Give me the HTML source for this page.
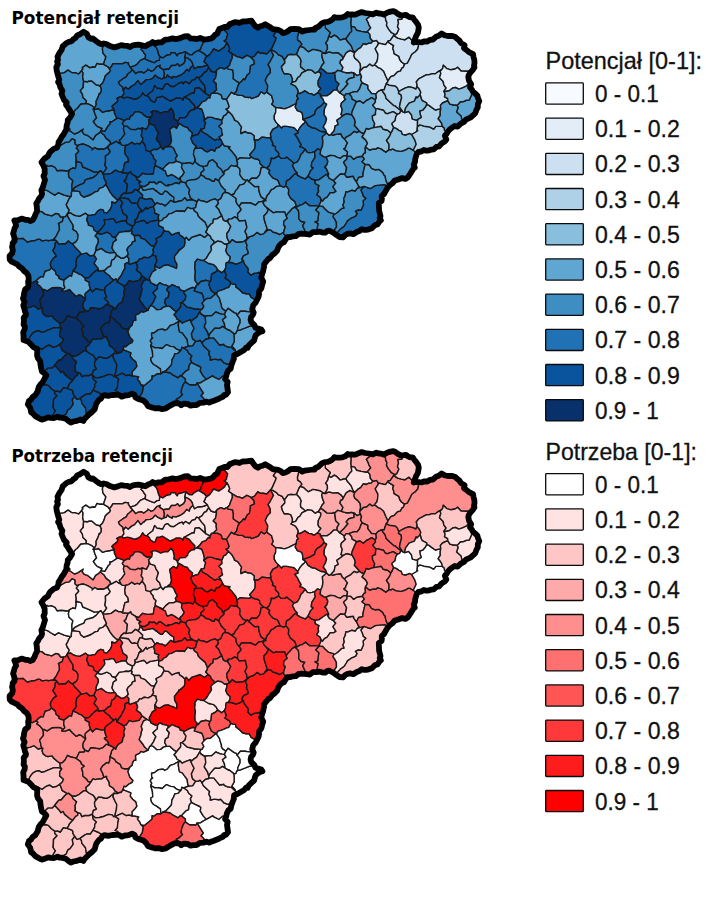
<!DOCTYPE html>
<html lang="pl"><head><meta charset="utf-8"><title>Potencjał i potrzeba retencji</title>
<style>
html,body{margin:0;padding:0;background:#fff}
svg{display:block}
.t{font-family:"DejaVu Sans","Liberation Sans",sans-serif;font-weight:bold;font-size:18px;fill:#000}
.lt{font-family:"Liberation Sans",sans-serif;font-size:24px;fill:#111;stroke:#111;stroke-width:.3px}
.ll{font-family:"Liberation Sans",sans-serif;font-size:24px;fill:#111;stroke:#111;stroke-width:.3px}
.cells path{stroke:#1a1a1a;stroke-width:1.4;stroke-linejoin:round}
.ol{fill:none;stroke:#000;stroke-width:5.8;stroke-linejoin:round}
</style></head><body>
<svg width="706" height="902" viewBox="0 0 706 902">
<rect width="706" height="902" fill="#fff"/>
<path d="M32.7 220.0L34.6 216.8L35.4 214.5L37.1 211.2L36.8 206.5L36.3 203.2L37.8 201.3L39.0 198.7L41.2 196.2L42.1 193.8L41.4 190.2L42.8 187.3L43.7 184.4L45.0 180.0L43.5 175.9L44.7 173.6L44.7 171.1L44.6 168.6L43.4 165.6L41.5 162.3L44.5 158.5L48.0 156.1L49.2 153.4L50.1 152.0L53.7 148.9L57.1 147.5L58.4 144.3L58.5 142.3L60.4 139.3L61.8 136.7L63.6 134.4L66.3 129.5L66.5 126.8L66.7 125.3L67.7 122.3L67.8 120.0L69.9 117.7L72.1 114.0L69.6 110.1L67.5 106.8L66.0 104.8L66.7 102.6L64.0 99.9L62.8 97.0L61.5 93.9L62.4 90.7L60.3 87.3L59.6 84.4L58.1 82.0L59.3 79.9L58.7 77.9L57.9 75.1L56.8 71.1L56.3 67.2L57.9 64.1L57.1 61.5L58.0 59.8L57.5 56.8L59.2 53.4L61.6 49.9L62.7 46.4L64.1 45.1L66.1 43.3L68.9 41.8L71.4 41.4L73.6 39.0L75.3 38.2L77.2 35.4L80.1 34.2L83.5 31.8L86.8 33.7L88.4 37.4L91.4 38.9L92.9 38.4L94.6 39.9L98.7 43.0L101.8 44.4L103.8 43.5L106.4 44.0L108.9 45.5L110.8 46.3L114.3 47.4L117.9 46.4L121.0 45.1L124.0 45.6L127.0 45.8L130.0 47.0L132.9 45.3L135.6 44.9L138.5 44.6L141.9 45.3L145.3 46.3L148.6 44.2L150.8 43.5L152.7 42.0L155.3 43.3L158.3 42.4L161.6 42.3L165.2 39.7L169.0 39.3L172.5 38.4L175.5 39.1L178.1 38.7L180.8 37.9L184.3 36.5L187.9 36.2L190.6 38.4L193.3 38.7L195.1 38.7L196.7 39.1L200.2 38.0L204.0 39.5L207.6 39.2L210.5 38.7L212.9 37.4L215.0 34.9L217.2 33.7L218.4 30.8L219.5 28.7L221.8 28.1L224.5 26.9L227.3 27.0L229.9 24.0L232.2 23.2L234.8 22.1L237.2 22.3L239.5 23.0L242.4 21.5L246.5 21.4L251.4 20.7L253.3 23.5L255.4 26.3L257.9 27.7L260.2 26.3L262.5 25.7L265.2 24.2L269.4 26.7L273.2 29.3L275.1 29.4L278.1 29.8L281.1 31.4L282.9 33.1L285.4 32.5L287.6 31.4L290.3 29.2L294.1 29.0L298.9 29.2L302.2 31.5L304.2 30.7L306.5 30.4L309.5 30.0L312.8 29.5L314.6 29.7L315.8 27.8L318.4 26.8L321.7 23.4L324.7 22.2L327.4 21.9L329.9 21.0L332.4 19.5L334.4 17.1L336.7 17.7L339.4 17.6L342.4 17.3L345.4 16.3L347.7 13.9L349.5 14.6L351.8 14.4L355.4 14.6L358.6 13.2L361.7 12.1L365.2 13.0L368.9 13.5L372.8 14.4L376.4 12.7L378.8 13.5L380.7 13.6L383.6 14.6L387.5 12.5L390.5 11.6L393.4 11.1L395.7 12.2L397.9 13.9L400.7 15.4L403.7 15.2L406.1 14.8L407.4 16.0L409.7 17.1L413.0 17.7L414.1 19.5L416.1 21.9L418.0 24.6L418.8 27.5L418.5 29.2L417.9 32.9L416.2 35.9L415.1 38.8L413.8 42.5L416.4 41.8L419.5 42.2L422.0 42.3L424.6 41.3L427.3 41.5L430.1 39.8L432.9 39.5L435.9 36.8L438.7 35.8L441.6 33.4L444.4 35.2L447.8 36.0L451.7 35.9L454.9 36.7L456.3 38.0L459.3 40.5L461.1 43.1L464.6 45.3L464.0 48.1L467.1 50.5L469.5 52.4L473.1 54.2L473.5 56.9L474.3 59.8L474.5 62.9L474.0 65.8L474.5 67.4L472.8 69.9L470.2 72.9L469.0 74.6L468.3 76.9L469.0 80.7L471.2 84.3L470.0 87.4L471.9 89.6L472.8 91.6L475.1 93.5L477.4 95.6L478.0 98.1L479.3 101.1L477.8 104.2L477.8 107.3L476.7 109.3L475.2 113.2L473.2 115.2L470.8 117.4L468.5 118.5L466.2 119.4L463.9 122.0L460.7 123.6L457.6 126.6L454.7 126.0L452.1 127.6L450.2 129.0L447.8 131.6L447.0 133.3L444.9 135.7L446.3 139.6L445.0 141.3L441.4 143.6L439.0 146.5L436.4 146.9L433.7 149.3L431.0 149.7L428.4 150.6L426.1 150.6L423.8 150.0L421.2 151.5L418.5 151.8L416.6 154.4L415.8 157.0L415.3 158.4L415.1 161.5L413.7 164.8L414.8 167.6L413.7 168.3L411.6 171.6L409.3 175.2L407.8 177.4L405.3 178.9L402.1 178.1L398.5 179.4L394.8 180.5L392.2 183.5L389.6 185.4L387.3 188.1L386.1 190.2L384.0 194.0L381.7 196.1L381.9 198.4L381.6 201.0L378.8 203.1L378.9 206.4L379.1 210.7L379.9 213.7L380.5 216.1L379.7 218.1L380.9 220.3L379.4 221.5L377.7 224.2L374.8 225.3L371.9 228.2L368.8 229.3L366.2 229.8L364.0 229.9L361.9 229.1L359.5 231.0L356.7 232.0L353.5 234.2L349.9 233.4L346.8 234.1L345.0 235.2L342.9 237.4L339.6 237.0L335.8 234.6L333.7 232.9L331.4 231.7L329.5 230.7L327.3 230.9L325.1 232.7L322.7 232.6L319.9 231.7L316.3 232.2L312.7 232.2L309.8 234.5L307.2 234.2L304.4 233.8L301.5 233.7L298.5 233.9L295.7 236.2L292.9 236.3L290.1 237.1L287.3 237.1L285.1 240.2L283.8 242.4L281.5 243.4L279.3 245.8L278.3 247.4L277.1 250.8L274.7 253.3L272.2 255.0L270.2 258.0L268.2 259.1L265.9 261.8L264.1 264.4L264.1 266.7L263.3 270.2L262.6 272.8L262.0 274.7L261.2 277.5L263.2 281.6L262.0 285.4L261.5 288.0L259.1 291.4L259.0 294.5L258.7 296.2L257.1 299.7L255.7 302.5L253.3 305.1L252.2 309.2L253.7 312.7L252.8 314.8L251.1 316.8L250.6 319.6L251.3 322.1L254.2 324.8L255.5 327.7L258.7 328.7L261.4 329.6L262.4 331.3L260.1 331.9L257.8 333.3L255.6 335.4L255.0 337.0L254.1 340.5L251.7 342.7L248.9 345.4L247.6 347.9L246.3 347.4L243.8 350.3L240.3 352.3L236.9 354.2L234.1 355.3L233.8 359.2L232.5 362.2L231.4 365.2L230.7 368.6L228.3 370.4L226.8 373.6L226.1 377.0L225.1 379.1L227.7 381.9L227.0 385.0L227.5 388.5L228.0 392.1L225.8 394.8L224.2 394.9L223.0 396.8L221.1 397.5L217.6 399.3L213.9 400.8L211.2 401.6L209.1 402.6L206.7 401.6L203.4 402.6L199.9 402.8L196.5 405.1L193.4 405.2L190.6 405.6L187.7 404.0L184.0 403.6L181.2 405.2L179.5 403.8L177.1 403.0L174.5 403.3L171.6 404.9L168.7 406.5L165.6 408.5L162.1 409.2L158.5 408.1L155.5 408.4L153.0 407.8L151.4 407.2L148.1 406.2L146.2 403.2L143.3 400.4L140.1 399.4L138.2 398.9L135.4 397.5L134.6 394.9L132.1 393.7L128.6 395.2L124.9 395.5L121.6 396.7L118.9 394.9L116.0 394.8L112.3 395.0L108.1 395.9L104.4 395.2L102.5 396.1L100.9 398.8L98.8 400.0L96.3 403.7L95.6 405.9L94.7 409.2L92.2 411.9L89.3 414.1L86.2 417.2L84.3 419.1L83.4 421.0L80.5 419.5L76.9 420.9L73.5 421.5L70.7 422.6L69.2 421.4L65.8 418.8L61.4 417.6L59.3 417.5L57.5 416.7L53.8 418.1L50.5 417.9L48.0 417.3L45.5 418.5L42.4 419.6L40.4 419.0L35.7 416.4L32.7 413.2L31.1 412.4L30.7 409.8L30.0 407.4L27.8 404.4L29.0 401.0L30.9 399.7L32.7 396.9L35.2 395.3L37.7 391.2L38.4 388.3L38.7 387.2L40.4 384.6L42.6 382.3L44.6 378.5L46.3 375.5L44.6 373.5L41.9 371.4L41.0 367.6L40.4 363.7L40.2 361.1L38.0 358.5L37.1 355.6L37.2 352.4L37.3 349.3L33.2 347.0L31.0 344.4L29.1 342.4L27.7 341.5L23.5 340.1L23.6 336.4L23.2 332.4L24.7 329.1L24.9 326.8L23.6 324.5L23.9 321.1L23.7 317.6L25.8 315.3L26.0 314.0L25.0 311.7L24.3 308.6L23.3 305.4L24.6 302.2L23.0 298.5L23.8 296.1L24.1 293.0L25.2 289.3L28.1 287.2L28.4 284.7L28.1 281.7L28.7 279.8L28.6 277.7L28.3 275.5L26.7 273.1L24.0 270.9L22.3 268.7L19.0 266.4L17.3 264.4L14.4 263.0L11.7 261.7L9.7 259.5L9.6 255.8L12.2 253.3L12.8 250.4L12.1 246.9L12.5 244.7L12.7 243.2L14.6 240.9L14.3 237.2L13.1 233.4L14.0 230.7L14.5 228.4L16.1 225.6L15.4 222.8L14.4 220.5L17.5 220.4L21.6 218.6L25.4 219.8L28.1 220.0L30.1 221.0Z" fill="#3e8ec4"/>
<g class="cells">
<path d="M56.9 241.2L55.6 240.0L51.6 239.9L48.9 240.7L46.4 240.1L42.2 240.9L39.9 239.3L37.9 239.1L34.6 240.6L31.2 240.8L27.4 242.0L23.0 238.3L19.2 238.6L17.6 238.3L15.9 240.6L12.7 243.6L12.3 244.2L11.6 246.2L13.4 250.1L12.8 253.1L8.8 255.2L9.4 259.5L11.3 261.9L14.1 262.9L17.2 264.1L18.4 266.2L22.6 268.8L24.2 271.1L27.3 273.6L28.7 276.2L27.8 278.5L28.1 279.8L28.5 280.3L32.1 282.9L36.2 280.8L38.6 278.4L41.2 276.6L43.2 277.0L45.2 271.2L49.3 270.1L51.8 268.0L50.6 265.7L50.4 263.4L50.9 262.2L53.5 258.2L56.5 256.2L54.8 253.5L52.9 250.6L54.9 246.9L55.2 243.3Z" fill="#2171b5"/>
<path d="M60.0 323.3L57.3 321.3L53.4 317.9L52.2 315.9L47.9 316.5L45.5 315.8L43.0 313.6L42.1 310.8L42.9 308.2L41.9 308.0L38.1 309.0L34.1 305.7L30.3 307.1L27.2 307.8L24.2 309.7L24.7 312.5L26.6 314.5L26.4 314.8L23.2 316.7L23.6 320.6L23.3 324.4L25.6 326.4L25.2 328.3L22.6 331.8L23.3 336.6L23.2 340.9L28.0 341.8L29.1 338.7L30.5 336.0L32.8 333.1L35.7 331.4L39.1 330.8L41.8 332.4L44.1 331.8L47.9 330.1L53.5 327.9L58.2 327.6L61.8 328.8L60.3 326.8Z" fill="#0a549e"/>
<path d="M42.2 240.9L46.4 240.1L48.9 240.7L51.6 239.9L55.6 240.0L53.1 240.2L56.0 236.5L58.0 232.5L59.5 229.7L59.2 225.2L58.4 223.6L62.4 221.3L63.6 216.9L60.7 217.0L58.6 214.0L55.8 213.4L51.6 215.9L47.7 214.7L45.0 214.1L41.9 211.6L38.4 211.3L37.9 211.2L35.5 215.0L34.6 216.8L31.8 220.1L29.5 221.7L28.3 220.1L25.7 219.7L21.4 217.7L16.7 220.8L13.6 220.9L15.4 222.9L16.9 225.7L14.4 228.5L13.8 230.5L12.4 233.0L14.1 236.6L15.9 240.6L17.6 238.3L19.2 238.6L23.0 238.3L27.4 242.0L31.2 240.8L34.6 240.6L37.9 239.1L39.9 239.3Z" fill="#3e8ec4"/>
<path d="M38.4 211.3L41.9 211.6L45.0 214.1L47.7 214.7L51.6 215.9L55.8 213.4L58.6 214.0L60.7 217.0L63.6 216.9L65.5 216.8L67.3 214.2L69.3 210.2L67.2 207.0L66.3 204.4L67.8 201.8L68.9 199.1L70.6 196.8L64.2 195.1L60.1 193.4L58.6 192.6L54.8 195.2L50.3 192.5L48.0 190.8L45.0 189.9L40.6 190.5L42.7 194.7L41.8 196.7L38.8 199.0L37.7 201.5L35.6 202.6L36.7 205.6L37.9 211.2Z" fill="#60a6d2"/>
<path d="M41.9 308.0L40.8 305.2L40.7 303.4L39.6 300.1L43.4 295.5L43.4 291.9L42.6 289.3L40.1 286.1L36.9 283.9L38.1 282.2L36.2 280.8L32.1 282.9L28.5 280.3L27.8 281.8L29.0 284.8L28.8 286.9L24.7 288.4L23.6 292.7L23.8 296.0L23.2 298.2L25.4 302.5L22.7 306.2L24.2 309.7L27.2 307.8L30.3 307.1L34.1 305.7L38.1 309.0Z" fill="#08306b"/>
<path d="M43.0 313.6L45.5 315.8L47.9 316.5L52.2 315.9L53.4 317.9L57.3 321.3L60.0 323.3L62.7 322.5L65.3 319.7L67.4 315.5L71.6 317.3L74.5 317.6L76.4 318.5L79.4 312.2L84.2 312.1L84.8 310.0L83.2 307.5L82.9 305.3L83.3 302.8L85.7 298.9L81.0 295.2L78.8 294.8L76.4 296.4L72.4 292.8L69.5 289.5L64.4 291.3L61.7 290.7L63.0 289.6L60.9 287.8L57.3 287.4L52.2 287.7L47.1 290.8L44.3 289.5L42.6 289.3L43.4 291.9L43.4 295.5L39.6 300.1L40.7 303.4L40.8 305.2L41.9 308.0L42.9 308.2L42.1 310.8Z" fill="#08306b"/>
<path d="M54.8 391.1L51.1 388.5L48.7 385.6L46.5 384.7L42.8 384.8L41.9 383.5L39.4 385.3L38.2 387.7L38.8 387.7L38.6 390.7L35.7 396.1L32.8 397.1L31.1 400.3L29.1 400.9L26.9 404.6L30.2 407.7L31.1 409.7L31.4 412.1L32.2 412.4L35.3 416.6L41.2 419.9L42.7 419.9L45.3 418.2L47.4 417.3L49.0 416.6L51.3 419.3L52.6 415.5L55.4 410.9L53.1 407.4L53.4 403.9L53.5 399.5L57.1 395.7L54.8 393.5Z" fill="#0a549e"/>
<path d="M42.6 289.3L44.3 289.5L47.1 290.8L52.2 287.7L57.3 287.4L60.9 287.8L63.0 289.6L64.9 287.8L63.7 284.3L64.0 280.1L60.3 279.0L58.9 278.1L59.2 276.6L56.0 274.2L55.4 271.1L51.8 268.0L49.3 270.1L45.2 271.2L43.2 277.0L41.2 276.6L38.6 278.4L36.2 280.8L38.1 282.2L36.9 283.9L40.1 286.1Z" fill="#60a6d2"/>
<path d="M50.4 263.4L50.6 265.7L51.8 268.0L55.4 271.1L56.0 274.2L59.2 276.6L58.9 278.1L60.3 279.0L64.0 280.1L67.2 277.6L69.8 275.6L71.5 276.3L73.2 270.8L75.2 268.3L76.5 265.9L76.0 263.0L76.6 259.3L76.7 258.3L81.1 254.0L80.0 252.3L77.4 249.4L74.5 246.4L72.6 243.8L70.6 242.9L68.4 240.8L65.4 243.8L61.8 243.6L59.0 244.1L56.9 241.2L55.2 243.3L54.9 246.9L52.9 250.6L54.8 253.5L56.5 256.2L53.5 258.2L50.9 262.2Z" fill="#0a549e"/>
<path d="M51.3 419.3L54.5 418.1L57.6 416.7L58.8 417.4L61.9 416.9L63.1 415.9L66.3 414.0L67.7 410.2L70.1 408.7L73.2 404.3L72.7 401.7L72.3 399.7L74.9 396.3L73.0 393.7L73.0 391.7L72.0 390.1L67.2 388.3L63.3 387.6L60.3 392.0L57.6 391.0L54.8 391.1L54.8 393.5L57.1 395.7L53.5 399.5L53.4 403.9L53.1 407.4L55.4 410.9L52.6 415.5Z" fill="#0a549e"/>
<path d="M28.0 341.8L29.5 341.8L29.7 342.7L31.7 344.9L33.7 347.4L38.0 347.0L42.1 349.5L45.5 346.8L47.6 345.7L49.6 345.2L52.9 347.4L56.5 346.5L59.7 344.3L62.2 342.3L63.5 339.2L59.6 335.9L59.8 333.9L59.6 332.0L61.8 328.8L58.2 327.6L53.5 327.9L47.9 330.1L44.1 331.8L41.8 332.4L39.1 330.8L35.7 331.4L32.8 333.1L30.5 336.0L29.1 338.7Z" fill="#0a549e"/>
<path d="M33.7 347.4L38.0 349.0L37.2 352.1L36.6 355.4L37.7 358.3L40.8 360.5L40.7 362.9L40.3 366.5L41.5 370.5L42.0 372.8L44.1 371.7L48.1 368.1L52.4 368.0L54.6 365.6L55.2 364.7L57.3 362.0L59.2 360.0L61.1 360.0L64.2 356.3L67.0 353.4L62.1 350.3L61.1 347.2L59.7 344.3L56.5 346.5L52.9 347.4L49.6 345.2L47.6 345.7L45.5 346.8L42.1 349.5L38.0 347.0Z" fill="#0a549e"/>
<path d="M61.7 290.7L64.4 291.3L69.5 289.5L72.4 292.8L76.4 296.4L78.8 294.8L81.0 295.2L85.7 298.9L85.0 294.5L85.6 293.2L90.5 289.1L89.3 285.2L89.4 282.3L85.3 280.1L85.4 278.3L81.7 274.9L78.8 273.9L77.4 272.8L73.2 270.8L71.5 276.3L69.8 275.6L67.2 277.6L64.0 280.1L63.7 284.3L64.9 287.8L63.0 289.6Z" fill="#60a6d2"/>
<path d="M54.6 365.6L59.6 370.7L60.7 372.8L63.0 371.5L64.5 374.4L70.3 379.2L72.8 380.3L75.7 376.3L77.7 375.3L78.1 372.8L74.8 370.6L75.4 368.9L75.1 365.6L76.6 361.7L72.9 358.5L72.2 356.1L68.5 353.1L67.6 353.5L67.0 353.4L64.2 356.3L61.1 360.0L59.2 360.0L57.3 362.0L55.2 364.7Z" fill="#08306b"/>
<path d="M63.5 339.2L62.2 342.3L59.7 344.3L61.1 347.2L62.1 350.3L67.0 353.4L67.6 353.5L68.5 353.1L72.2 356.1L75.2 356.3L79.3 354.3L83.7 350.9L85.6 350.9L86.7 351.3L85.9 347.5L89.3 344.6L90.6 342.5L87.8 341.2L86.9 339.4L82.9 336.0L82.7 331.8L81.5 328.6L84.4 326.0L81.6 324.2L80.7 321.6L76.4 318.5L74.5 317.6L71.6 317.3L67.4 315.5L65.3 319.7L62.7 322.5L60.0 323.3L60.3 326.8L61.8 328.8L59.6 332.0L59.8 333.9L59.6 335.9Z" fill="#08306b"/>
<path d="M56.9 241.2L59.0 244.1L61.8 243.6L65.4 243.8L68.4 240.8L70.6 242.9L72.6 243.8L75.9 241.8L77.6 239.4L78.1 234.9L76.5 231.7L72.6 229.1L73.3 227.4L73.1 225.2L69.9 220.2L67.7 216.1L67.3 214.2L67.3 214.2L65.5 216.8L63.6 216.9L62.4 221.3L58.4 223.6L59.2 225.2L59.5 229.7L58.0 232.5L56.0 236.5L53.1 240.2L55.6 240.0Z" fill="#3e8ec4"/>
<path d="M70.6 196.8L71.3 196.4L71.5 192.7L72.1 190.5L72.1 189.0L71.8 185.5L72.9 180.7L68.9 176.9L68.4 173.7L69.4 169.9L67.3 171.0L61.3 170.2L57.1 170.7L55.1 167.3L51.4 165.6L48.0 166.1L47.0 165.3L44.4 167.0L45.1 169.8L45.0 171.9L44.6 173.9L42.8 175.6L45.6 180.1L43.9 185.2L42.7 187.7L40.6 190.3L40.6 190.5L45.0 189.9L48.0 190.8L50.3 192.5L54.8 195.2L58.6 192.6L60.1 193.4L64.2 195.1Z" fill="#3e8ec4"/>
<path d="M69.4 169.9L72.8 168.0L75.3 168.7L76.2 165.0L76.0 162.3L76.3 158.4L75.6 154.7L78.7 151.4L78.4 150.2L76.3 148.1L78.8 144.9L76.9 145.4L75.0 143.7L75.2 140.1L72.2 138.6L69.0 141.9L65.1 142.5L61.2 144.8L57.9 143.3L58.7 144.1L58.1 147.9L53.7 148.6L49.2 152.0L49.3 152.7L48.7 155.6L44.4 158.1L40.8 162.7L44.4 167.0L47.0 165.3L48.0 166.1L51.4 165.6L55.1 167.3L57.1 170.7L61.3 170.2L67.3 171.0Z" fill="#3e8ec4"/>
<path d="M54.8 391.1L57.6 391.0L60.3 392.0L63.3 387.6L67.2 388.3L68.8 385.6L69.4 383.9L72.8 380.3L70.3 379.2L64.5 374.4L63.0 371.5L60.7 372.8L59.6 370.7L54.6 365.6L52.4 368.0L48.1 368.1L44.1 371.7L42.0 372.8L45.8 373.7L46.6 374.9L44.5 378.8L41.9 383.5L42.8 384.8L46.5 384.7L48.7 385.6L51.1 388.5Z" fill="#0a549e"/>
<path d="M80.0 398.3L76.9 399.3L74.9 396.3L72.3 399.7L72.7 401.7L73.2 404.3L70.1 408.7L67.7 410.2L66.3 414.0L63.1 415.9L61.9 416.9L67.1 419.0L70.0 422.2L70.8 423.2L73.5 421.6L77.2 420.8L81.3 418.6L84.2 421.4L84.1 419.3L86.0 417.5L87.3 415.2L86.3 412.5L85.5 407.7L81.8 403.1L81.5 400.6Z" fill="#2171b5"/>
<path d="M72.8 380.3L69.4 383.9L68.8 385.6L67.2 388.3L72.0 390.1L73.0 391.7L73.0 393.7L74.9 396.3L76.9 399.3L80.0 398.3L84.6 395.2L86.9 394.0L88.2 393.9L90.3 394.2L93.1 390.1L94.7 387.1L94.7 384.6L96.4 382.1L93.2 378.9L92.5 375.2L92.5 373.9L88.9 375.5L84.6 375.5L81.9 376.7L80.6 373.4L78.1 372.8L77.7 375.3L75.7 376.3Z" fill="#0a549e"/>
<path d="M86.1 103.5L86.4 100.8L83.0 97.6L82.4 94.1L80.3 90.9L82.5 88.1L83.3 87.4L83.3 85.7L83.6 81.2L82.7 77.5L83.1 72.9L81.6 70.5L78.7 73.8L75.3 72.6L71.8 72.5L68.1 69.9L64.2 72.6L60.7 73.1L57.5 73.1L58.0 76.6L59.1 78.8L59.8 80.2L57.4 81.7L59.4 83.9L60.2 86.8L63.3 90.6L61.0 94.0L62.5 97.2L63.9 100.2L67.5 102.8L65.6 104.7L66.3 105.6L69.1 107.9L70.7 111.7L73.6 112.2L75.7 109.5L77.2 108.5L80.7 104.2Z" fill="#3e8ec4"/>
<path d="M88.6 195.5L88.5 195.5L87.0 196.0L83.9 197.2L80.6 194.6L79.7 191.6L76.8 191.1L72.4 190.5L72.1 190.5L71.5 192.7L71.3 196.4L70.6 196.8L68.9 199.1L67.8 201.8L66.3 204.4L67.2 207.0L69.3 210.2L67.3 214.2L67.3 214.2L70.3 212.9L73.5 215.0L76.1 215.9L79.8 216.4L85.3 213.3L88.0 215.4L90.9 215.4L92.9 214.8L95.1 214.6L97.9 210.8L100.8 209.4L103.4 210.2L103.8 212.6L106.9 213.1L110.5 209.0L111.7 206.1L111.8 202.0L115.3 203.1L118.7 199.6L118.3 199.4L116.3 199.0L113.1 196.1L110.0 191.8L107.5 187.1L105.8 185.3L106.5 183.6L102.5 187.4L99.4 188.1L97.5 191.4L95.2 191.6L91.7 194.0Z" fill="#60a6d2"/>
<path d="M73.2 270.8L77.4 272.8L78.8 273.9L81.7 274.9L85.4 278.3L89.2 277.4L92.7 273.5L95.0 271.6L96.9 270.1L99.0 271.4L97.9 267.9L94.1 263.5L96.5 259.0L95.1 256.7L93.9 255.2L90.0 255.9L86.5 252.9L83.9 253.6L81.1 254.0L76.7 258.3L76.6 259.3L76.0 263.0L76.5 265.9L75.2 268.3Z" fill="#0a549e"/>
<path d="M75.2 140.1L75.0 143.7L76.9 145.4L78.8 144.9L82.8 144.0L85.2 144.6L88.9 146.3L93.1 149.0L92.4 149.6L91.9 150.0L94.8 147.5L97.3 149.2L100.1 149.0L103.3 149.3L106.3 148.0L109.1 145.2L112.0 143.6L110.4 143.3L110.1 141.4L106.0 138.1L103.9 134.7L100.2 132.0L97.8 133.9L95.5 135.3L93.0 139.8L89.6 137.0L87.5 135.4L84.3 134.3L82.2 131.7L83.2 129.0L78.0 132.6L74.5 134.0L71.2 131.7L69.3 130.7L70.0 129.1L67.1 126.4L67.2 128.9L64.0 134.7L61.6 137.0L60.6 138.6L58.4 142.0L57.9 143.3L61.2 144.8L65.1 142.5L69.0 141.9L72.2 138.6Z" fill="#3e8ec4"/>
<path d="M81.6 70.5L83.0 68.9L82.2 67.7L85.8 65.1L89.9 67.8L93.0 67.0L95.1 67.3L97.0 63.5L99.9 64.3L103.7 64.3L104.4 61.2L105.2 59.2L105.9 56.8L103.0 53.1L102.4 48.9L103.6 44.9L104.1 43.0L102.3 45.1L98.9 43.7L93.7 39.3L92.6 37.7L91.8 39.4L88.5 38.1L87.6 33.1L83.8 31.2L79.8 34.2L76.6 35.2L75.1 38.9L73.9 39.2L72.0 42.2L69.4 41.9L66.5 43.3L64.3 44.8L63.1 45.6L62.3 49.9L59.0 53.7L56.8 57.1L58.2 60.0L57.3 60.9L58.4 63.6L55.2 67.7L57.5 73.1L60.7 73.1L64.2 72.6L68.1 69.9L71.8 72.5L75.3 72.6L78.7 73.8Z" fill="#60a6d2"/>
<path d="M72.1 190.5L72.4 190.5L74.6 187.7L79.2 185.1L84.0 183.1L84.8 181.2L85.4 179.8L88.8 178.7L92.6 177.8L96.1 175.4L99.5 171.6L94.3 172.1L89.7 169.9L87.4 168.8L82.8 167.0L81.4 162.9L77.4 161.5L76.0 162.3L76.2 165.0L75.3 168.7L72.8 168.0L69.4 169.9L68.4 173.7L68.9 176.9L72.9 180.7L71.8 185.5L72.1 189.0Z" fill="#2171b5"/>
<path d="M82.5 88.1L80.3 90.9L82.4 94.1L83.0 97.6L86.4 100.8L86.1 103.5L88.5 104.1L92.1 105.9L94.4 108.4L96.2 104.7L96.1 101.2L97.9 97.6L99.3 93.4L99.4 94.3L101.2 91.9L101.4 88.9L100.0 85.7L96.1 84.8L91.8 80.9L89.1 81.0L87.5 81.8L83.6 81.2L83.3 85.7L83.3 87.4Z" fill="#60a6d2"/>
<path d="M72.6 243.8L74.5 246.4L77.4 249.4L80.0 252.3L81.1 254.0L83.9 253.6L86.5 252.9L90.0 255.9L93.9 255.2L95.0 252.9L95.8 250.7L96.4 246.4L98.4 242.2L98.3 239.5L97.4 238.1L95.2 235.9L98.1 232.3L96.4 231.7L94.1 230.0L93.2 226.7L88.4 225.1L88.5 223.9L86.7 220.0L88.0 215.4L85.3 213.3L79.8 216.4L76.1 215.9L73.5 215.0L70.3 212.9L67.3 214.2L67.7 216.1L69.9 220.2L73.1 225.2L73.3 227.4L72.6 229.1L76.5 231.7L78.1 234.9L77.6 239.4L75.9 241.8Z" fill="#60a6d2"/>
<path d="M74.5 134.0L78.0 132.6L83.2 129.0L82.2 131.7L84.3 134.3L87.5 135.4L89.6 137.0L93.0 139.8L95.5 135.3L97.8 133.9L100.2 132.0L100.9 130.9L102.1 128.5L97.3 126.4L95.3 124.2L93.4 121.5L96.6 117.8L95.0 114.0L94.2 111.5L94.2 109.7L93.0 109.3L94.4 108.4L92.1 105.9L88.5 104.1L86.1 103.5L80.7 104.2L77.2 108.5L75.7 109.5L73.6 112.2L70.7 111.7L72.9 114.4L69.7 118.7L67.0 120.6L67.5 122.9L66.3 125.9L67.1 126.4L70.0 129.1L69.3 130.7L71.2 131.7Z" fill="#3e8ec4"/>
<path d="M84.8 310.0L84.2 312.1L79.4 312.2L76.4 318.5L80.7 321.6L81.6 324.2L84.4 326.0L81.5 328.6L82.7 331.8L82.9 336.0L86.9 339.4L87.8 341.2L90.6 342.5L93.0 338.9L95.5 339.6L98.3 338.9L101.2 339.1L103.9 337.4L102.7 333.3L100.6 329.1L102.8 325.6L104.1 324.8L106.7 322.6L108.7 323.2L109.8 320.3L110.1 316.6L111.1 313.8L111.6 311.0L114.4 308.0L112.2 306.5L108.9 305.0L106.2 304.2L103.2 307.3L99.9 308.7L96.4 308.3L93.2 307.6L90.5 307.8L88.3 311.5Z" fill="#08306b"/>
<path d="M80.0 398.3L81.5 400.6L81.8 403.1L85.5 407.7L86.3 412.5L87.3 415.2L86.0 417.5L89.4 413.4L92.5 411.3L95.4 408.7L95.6 405.1L95.5 403.3L98.3 399.1L100.6 398.6L102.0 395.8L101.3 394.2L98.8 392.5L93.1 390.1L90.3 394.2L88.2 393.9L86.9 394.0L84.6 395.2Z" fill="#0a549e"/>
<path d="M72.2 356.1L72.9 358.5L76.6 361.7L75.1 365.6L75.4 368.9L74.8 370.6L78.1 372.8L80.6 373.4L81.9 376.7L84.6 375.5L88.9 375.5L92.5 373.9L93.4 370.5L96.5 369.1L94.8 365.9L94.5 362.5L95.7 360.3L95.2 358.0L93.4 355.3L89.0 353.0L86.7 351.3L85.6 350.9L83.7 350.9L79.3 354.3L75.2 356.3Z" fill="#0a549e"/>
<path d="M77.4 161.5L81.4 162.9L82.8 167.0L87.4 168.8L89.7 169.9L94.3 172.1L99.5 171.6L100.8 170.7L102.6 173.4L104.8 170.9L106.7 168.1L104.9 165.3L105.6 160.7L105.4 156.1L108.5 154.0L110.2 151.7L107.9 147.6L109.1 145.2L106.3 148.0L103.3 149.3L100.1 149.0L97.3 149.2L94.8 147.5L91.9 150.0L92.4 149.6L93.1 149.0L88.9 146.3L85.2 144.6L82.8 144.0L78.8 144.9L76.3 148.1L78.4 150.2L78.7 151.4L75.6 154.7L76.3 158.4L76.0 162.3Z" fill="#2171b5"/>
<path d="M92.5 373.9L92.5 375.2L95.3 377.8L99.5 377.5L104.3 376.2L108.5 374.4L112.0 374.9L113.8 376.9L114.9 376.0L115.3 373.7L116.4 369.4L116.8 364.5L114.6 360.3L113.0 356.6L113.8 353.3L110.2 356.3L107.6 358.0L104.9 358.2L101.6 357.3L98.5 357.0L95.7 360.3L94.5 362.5L94.8 365.9L96.5 369.1L93.4 370.5Z" fill="#0a549e"/>
<path d="M81.6 70.5L83.1 72.9L82.7 77.5L83.6 81.2L87.5 81.8L89.1 81.0L91.8 80.9L96.1 84.8L100.0 85.7L102.8 82.7L104.3 79.4L105.1 76.3L107.2 74.1L109.9 71.8L110.5 70.3L109.4 68.8L108.1 66.8L103.7 64.3L99.9 64.3L97.0 63.5L95.1 67.3L93.0 67.0L89.9 67.8L85.8 65.1L82.2 67.7L83.0 68.9Z" fill="#60a6d2"/>
<path d="M88.5 195.5L88.6 195.5L91.7 194.0L95.2 191.6L97.5 191.4L99.4 188.1L102.5 187.4L106.5 183.6L105.3 180.6L103.9 177.6L103.4 174.1L102.6 173.4L100.8 170.7L99.5 171.6L96.1 175.4L92.6 177.8L88.8 178.7L85.4 179.8L84.8 181.2L84.0 183.1L79.2 185.1L74.6 187.7L72.4 190.5L76.8 191.1L79.7 191.6L80.6 194.6L83.9 197.2L87.0 196.0Z" fill="#2171b5"/>
<path d="M159.2 56.1L162.8 58.0L166.9 55.2L170.6 54.5L170.9 52.7L174.9 52.8L177.1 55.9L178.4 53.6L180.7 53.3L185.0 51.8L185.7 52.2L189.4 54.7L192.2 54.7L194.1 52.8L196.0 51.7L198.8 50.4L200.7 49.2L201.2 47.0L203.4 42.4L200.1 37.3L195.9 38.9L194.8 38.6L193.6 39.1L190.7 39.0L187.9 35.7L184.0 35.9L180.3 38.0L178.1 39.2L175.8 39.6L172.9 37.9L169.1 39.0L164.8 39.2L160.8 42.9L157.4 42.7L154.5 43.8L152.2 41.2L151.0 43.1L153.8 45.2L156.3 47.8L157.5 50.4L158.1 53.1Z" fill="#2171b5"/>
<path d="M119.4 198.7L118.7 199.6L115.3 203.1L111.8 202.0L111.7 206.1L110.5 209.0L106.9 213.1L103.8 212.6L103.4 210.2L100.8 209.4L97.9 210.8L95.1 214.6L92.9 214.8L90.9 215.4L88.0 215.4L86.7 220.0L88.5 223.9L88.4 225.1L93.2 226.7L94.1 230.0L96.4 231.7L98.1 232.3L98.1 232.3L99.5 230.6L101.6 228.4L104.5 224.6L104.9 223.6L104.2 219.6L108.5 219.6L112.0 218.6L113.6 218.9L116.2 222.8L120.8 221.3L124.5 220.8L126.1 221.1L127.2 217.6L126.9 215.9L123.0 213.2L122.1 209.9L120.9 206.4L122.7 202.6Z" fill="#0a549e"/>
<path d="M84.8 310.0L88.3 311.5L90.5 307.8L93.2 307.6L96.4 308.3L99.9 308.7L103.2 307.3L106.2 304.2L108.9 305.0L107.8 301.4L104.4 298.4L106.7 296.9L105.5 294.3L104.7 289.9L100.2 289.7L96.0 288.5L93.8 290.5L92.6 291.7L90.5 289.1L85.6 293.2L85.0 294.5L85.7 298.9L83.3 302.8L82.9 305.3L83.2 307.5Z" fill="#0a549e"/>
<path d="M160.9 373.7L157.3 373.6L153.8 376.0L151.9 375.6L151.9 378.9L149.4 381.2L144.2 385.5L140.8 384.6L143.1 386.9L142.3 392.4L139.9 396.1L139.0 399.3L140.3 399.2L143.2 399.9L146.4 403.1L148.0 406.9L152.0 407.3L153.1 406.9L155.2 408.3L158.4 407.9L162.4 409.9L166.4 408.9L169.6 406.5L172.5 404.6L175.4 402.6L177.8 402.9L179.8 404.3L178.8 401.8L176.3 399.4L179.0 397.9L182.6 394.6L181.2 392.6L181.6 389.1L183.8 383.4L185.5 381.9L185.4 378.9L181.5 375.8L180.3 375.5L177.9 377.7L173.3 375.2L170.0 372.7L166.5 372.3L162.9 371.9L161.9 372.9Z" fill="#2171b5"/>
<path d="M102.0 395.8L104.0 395.5L107.4 396.8L111.8 394.9L115.6 394.9L118.2 393.6L117.9 391.3L115.1 390.4L117.4 388.0L117.8 383.2L118.7 378.8L115.2 376.5L114.9 376.0L113.8 376.9L112.0 374.9L108.5 374.4L104.3 376.2L99.5 377.5L95.3 377.8L92.5 375.2L93.2 378.9L96.4 382.1L94.7 384.6L94.7 387.1L93.1 390.1L98.8 392.5L101.3 394.2Z" fill="#0a549e"/>
<path d="M93.4 121.5L95.3 124.2L97.3 126.4L102.1 128.5L100.9 130.9L104.9 131.4L108.5 125.4L110.2 123.9L110.0 121.8L111.6 122.0L117.1 118.3L116.0 116.3L114.5 113.1L114.2 109.5L110.3 110.5L106.1 111.2L102.5 112.3L98.5 108.5L94.2 109.7L94.2 111.5L95.0 114.0L96.6 117.8Z" fill="#3e8ec4"/>
<path d="M86.7 351.3L89.0 353.0L93.4 355.3L95.2 358.0L95.7 360.3L98.5 357.0L101.6 357.3L104.9 358.2L107.6 358.0L110.2 356.3L113.8 353.3L117.3 353.6L118.7 353.1L114.9 350.9L113.7 348.5L109.5 345.6L109.1 342.1L106.6 338.2L106.6 336.2L103.9 337.4L101.2 339.1L98.3 338.9L95.5 339.6L93.0 338.9L90.6 342.5L89.3 344.6L85.9 347.5Z" fill="#0a549e"/>
<path d="M99.0 271.4L101.9 270.8L103.3 270.4L103.9 271.3L107.9 267.3L110.8 265.8L111.1 264.2L111.7 260.3L114.1 259.1L116.7 255.1L115.5 252.9L114.5 252.4L110.3 252.9L107.2 252.4L105.1 251.3L101.3 248.4L95.8 250.7L95.0 252.9L93.9 255.2L95.1 256.7L96.5 259.0L94.1 263.5L97.9 267.9Z" fill="#60a6d2"/>
<path d="M103.9 337.4L106.6 336.2L106.6 338.2L109.1 342.1L109.5 345.6L113.7 348.5L114.9 350.9L118.7 353.1L120.0 352.3L121.3 352.5L123.0 349.7L124.1 346.3L125.6 346.9L128.8 344.2L132.0 342.6L133.0 340.4L129.8 337.0L128.0 331.6L129.9 327.0L128.1 328.8L124.4 328.8L121.5 327.6L120.3 324.3L115.9 321.7L114.8 319.3L110.1 316.6L109.8 320.3L108.7 323.2L106.7 322.6L104.1 324.8L102.8 325.6L100.6 329.1L102.7 333.3Z" fill="#08306b"/>
<path d="M103.7 64.3L108.1 66.8L109.4 68.8L111.0 67.0L113.1 63.7L118.0 63.7L122.4 63.9L125.2 62.4L128.5 63.0L128.2 64.2L130.4 67.4L132.4 66.4L134.6 65.9L137.0 64.3L140.4 60.4L145.3 58.1L145.6 55.2L144.0 53.0L142.9 51.1L141.0 49.2L143.8 46.9L139.8 44.0L136.3 44.7L133.6 44.6L130.6 47.9L127.4 45.7L124.4 45.4L121.5 44.4L118.3 46.5L114.4 48.1L110.6 46.3L109.2 45.4L106.7 43.6L104.1 43.0L103.6 44.9L102.4 48.9L103.0 53.1L105.9 56.8L105.2 59.2L104.4 61.2Z" fill="#3e8ec4"/>
<path d="M90.5 289.1L92.6 291.7L93.8 290.5L96.0 288.5L100.2 289.7L104.7 289.9L104.8 289.3L105.5 286.7L109.5 283.8L114.0 280.0L110.9 277.9L109.5 275.7L106.6 273.5L103.9 271.3L103.3 270.4L101.9 270.8L99.0 271.4L96.9 270.1L95.0 271.6L92.7 273.5L89.2 277.4L85.4 278.3L85.3 280.1L89.4 282.3L89.3 285.2Z" fill="#0a549e"/>
<path d="M130.4 67.4L128.2 64.2L128.5 63.0L125.2 62.4L122.4 63.9L118.0 63.7L113.1 63.7L111.0 67.0L109.4 68.8L110.5 70.3L109.9 71.8L107.2 74.1L105.1 76.3L104.3 79.4L102.8 82.7L100.0 85.7L101.4 88.9L101.2 91.9L99.4 94.3L99.3 93.4L97.9 97.6L96.1 101.2L96.2 104.7L94.4 108.4L93.0 109.3L94.2 109.7L98.5 108.5L102.5 112.3L106.1 111.2L110.3 110.5L114.2 109.5L112.0 106.5L113.0 105.2L117.5 101.6L117.9 98.9L116.6 98.5L118.4 97.5L121.8 96.6L124.0 93.8L123.3 90.2L122.9 87.2L119.6 84.5L118.5 82.0L123.1 78.7L126.3 76.9L127.6 74.2L129.8 72.5L132.7 69.8Z" fill="#2171b5"/>
<path d="M102.6 173.4L103.4 174.1L107.2 174.0L111.2 173.4L115.6 170.1L118.9 171.8L120.5 171.7L122.6 172.8L124.0 166.3L125.0 162.6L128.5 161.8L128.0 157.9L125.3 154.3L124.8 150.1L125.5 146.7L125.5 145.5L122.0 145.1L120.9 143.9L119.4 143.4L116.3 141.2L112.0 143.6L109.1 145.2L107.9 147.6L110.2 151.7L108.5 154.0L105.4 156.1L105.6 160.7L104.9 165.3L106.7 168.1L104.8 170.9Z" fill="#2171b5"/>
<path d="M112.0 143.6L116.3 141.2L119.4 143.4L120.9 143.9L119.3 140.2L121.4 138.7L124.8 133.9L123.4 128.9L124.2 125.9L122.3 123.4L124.3 120.7L122.0 119.4L118.4 118.2L117.1 118.3L111.6 122.0L110.0 121.8L110.2 123.9L108.5 125.4L104.9 131.4L100.9 130.9L100.2 132.0L103.9 134.7L106.0 138.1L110.1 141.4L110.4 143.3Z" fill="#2171b5"/>
<path d="M95.8 250.7L101.3 248.4L105.1 251.3L107.2 252.4L110.3 252.9L114.5 252.4L112.0 248.0L112.8 244.5L113.3 242.3L116.5 239.9L114.8 237.2L112.0 236.5L110.5 234.0L106.9 232.1L101.6 234.1L99.0 233.7L98.1 232.3L98.1 232.3L95.2 235.9L97.4 238.1L98.3 239.5L98.4 242.2L96.4 246.4Z" fill="#2171b5"/>
<path d="M114.4 308.0L115.8 309.3L116.6 306.7L118.7 304.1L122.2 302.0L123.2 297.5L124.4 295.9L124.0 293.1L123.7 291.4L125.0 288.8L123.6 285.6L121.3 284.1L117.2 281.9L116.1 278.7L114.0 280.0L109.5 283.8L105.5 286.7L104.8 289.3L104.7 289.9L105.5 294.3L106.7 296.9L104.4 298.4L107.8 301.4L108.9 305.0L112.2 306.5Z" fill="#0a549e"/>
<path d="M153.8 102.1L150.3 99.8L149.5 97.7L147.4 95.9L144.5 95.1L142.7 92.7L140.6 96.2L137.7 98.3L134.4 99.2L130.9 98.0L127.7 97.1L123.3 97.9L121.8 96.6L118.4 97.5L116.6 98.5L117.9 98.9L117.5 101.6L113.0 105.2L112.0 106.5L114.2 109.5L114.5 113.1L116.0 116.3L117.1 118.3L118.4 118.2L122.0 119.4L124.3 120.7L127.7 118.8L129.4 119.3L130.6 116.0L132.3 115.6L134.8 112.1L138.4 111.6L142.1 113.1L143.5 114.9L147.1 117.4L151.7 116.8L152.4 113.1L151.0 112.2L153.8 110.6L157.3 111.4L160.7 113.1L164.3 111.8L167.9 111.7L171.1 108.3L173.1 111.0L174.1 115.7L173.8 118.8L176.7 120.4L177.4 122.0L180.1 117.7L185.3 117.5L187.7 115.2L187.7 114.3L188.6 112.6L190.9 110.4L194.3 109.5L194.9 105.8L191.3 102.0L189.2 99.3L184.8 97.1L184.0 97.0L182.9 100.2L182.0 98.7L179.7 98.0L176.3 97.9L173.5 99.5L170.2 101.0L167.5 99.3L162.3 96.1L159.6 97.1L156.9 97.2L154.9 102.1Z" fill="#0a549e"/>
<path d="M106.5 183.6L105.8 185.3L107.5 187.1L110.0 191.8L113.1 196.1L116.3 199.0L118.3 199.4L118.7 199.6L119.4 198.7L120.1 197.6L121.5 195.2L123.9 193.1L126.0 193.6L126.9 189.5L127.4 184.3L124.2 180.9L125.9 179.6L126.5 177.6L128.3 173.3L122.6 172.8L120.5 171.7L118.9 171.8L115.6 170.1L111.2 173.4L107.2 174.0L103.4 174.1L103.9 177.6L105.3 180.6Z" fill="#0a549e"/>
<path d="M98.1 232.3L99.0 233.7L101.6 234.1L106.9 232.1L110.5 234.0L112.0 236.5L114.8 237.2L115.8 237.0L119.2 232.4L123.0 231.9L126.1 231.3L128.8 231.5L131.3 230.3L132.4 227.9L132.3 225.8L127.7 223.6L126.1 221.1L124.5 220.8L120.8 221.3L116.2 222.8L113.6 218.9L112.0 218.6L108.5 219.6L104.2 219.6L104.9 223.6L104.5 224.6L101.6 228.4L99.5 230.6Z" fill="#0a549e"/>
<path d="M103.9 271.3L106.6 273.5L109.5 275.7L110.9 277.9L114.0 280.0L116.1 278.7L117.2 281.9L118.4 279.2L121.1 275.7L123.2 271.4L125.0 268.2L124.9 267.9L125.0 264.0L128.8 262.2L129.0 258.6L126.9 256.0L124.3 257.7L121.6 258.3L116.7 255.1L114.1 259.1L111.7 260.3L111.1 264.2L110.8 265.8L107.9 267.3Z" fill="#60a6d2"/>
<path d="M118.2 393.6L119.1 394.5L121.6 397.5L125.0 395.6L129.2 395.2L132.9 392.9L135.1 395.0L134.7 398.0L137.2 399.4L139.0 399.3L139.9 396.1L142.3 392.4L143.1 386.9L140.8 384.6L139.7 381.7L137.5 379.1L138.8 377.0L134.4 376.0L132.0 375.7L129.0 375.0L126.0 375.5L122.3 373.2L118.2 374.9L115.2 376.5L118.7 378.8L117.8 383.2L117.4 388.0L115.1 390.4L117.9 391.3Z" fill="#0a549e"/>
<path d="M139.4 313.3L137.5 314.2L135.4 315.3L135.7 320.3L134.1 320.1L132.5 322.5L132.3 324.9L129.9 327.0L128.0 331.6L129.8 337.0L133.0 340.4L132.0 342.6L128.8 344.2L125.6 346.9L124.1 346.3L123.0 349.7L125.2 350.6L130.8 352.9L130.2 356.2L132.6 359.2L135.7 361.9L136.8 366.2L135.1 368.5L132.0 371.8L132.0 375.7L134.4 376.0L138.8 377.0L137.5 379.1L139.7 381.7L140.8 384.6L144.2 385.5L149.4 381.2L151.9 378.9L151.9 375.6L153.8 376.0L157.3 373.6L160.9 373.7L160.5 368.8L155.9 365.7L153.6 364.5L151.5 361.9L150.7 358.3L152.8 356.7L152.4 351.3L150.7 345.5L151.8 343.1L150.3 340.9L151.4 338.9L152.7 338.1L151.7 337.1L151.6 333.2L154.3 332.7L158.5 329.6L162.4 329.3L163.8 329.4L163.9 329.7L164.6 330.5L167.3 329.1L170.4 325.3L174.2 324.1L178.6 321.5L180.3 321.2L176.9 319.0L176.2 317.0L174.1 314.8L176.6 311.7L173.3 309.6L169.8 306.2L166.6 306.4L163.5 306.9L160.5 309.4L156.7 309.6L153.2 306.3L151.1 305.4L149.5 306.6L148.1 310.0L143.4 312.1L140.8 311.4Z" fill="#60a6d2"/>
<path d="M113.8 353.3L113.0 356.6L114.6 360.3L116.8 364.5L116.4 369.4L115.3 373.7L114.9 376.0L115.2 376.5L118.2 374.9L122.3 373.2L126.0 375.5L129.0 375.0L132.0 375.7L132.0 371.8L135.1 368.5L136.8 366.2L135.7 361.9L132.6 359.2L130.2 356.2L130.8 352.9L125.2 350.6L123.0 349.7L121.3 352.5L120.0 352.3L118.7 353.1L117.3 353.6Z" fill="#0a549e"/>
<path d="M116.7 255.1L121.6 258.3L124.3 257.7L126.9 256.0L128.3 254.2L127.0 249.6L128.2 247.2L131.7 244.3L132.6 241.8L135.2 241.0L134.3 235.5L131.4 233.4L132.3 231.8L131.3 230.3L128.8 231.5L126.1 231.3L123.0 231.9L119.2 232.4L115.8 237.0L114.8 237.2L116.5 239.9L113.3 242.3L112.8 244.5L112.0 248.0L114.5 252.4L115.5 252.9Z" fill="#60a6d2"/>
<path d="M118.7 304.1L116.6 306.7L115.8 309.3L114.4 308.0L111.6 311.0L111.1 313.8L110.1 316.6L114.8 319.3L115.9 321.7L120.3 324.3L121.5 327.6L124.4 328.8L128.1 328.8L129.9 327.0L132.3 324.9L132.5 322.5L134.1 320.1L135.7 320.3L135.4 315.3L137.5 314.2L139.4 313.3L140.8 311.4L143.4 312.1L148.1 310.0L144.8 307.3L142.9 304.2L139.2 299.5L140.8 295.6L141.5 291.4L142.4 289.5L141.2 286.6L143.4 281.2L146.9 279.3L143.9 277.1L142.0 275.7L139.1 280.4L136.0 280.9L132.7 281.6L129.2 280.4L126.1 284.8L123.6 285.6L125.0 288.8L123.7 291.4L124.0 293.1L124.4 295.9L123.2 297.5L122.2 302.0Z" fill="#08306b"/>
<path d="M126.0 193.6L129.1 193.1L131.9 192.8L135.2 189.4L138.4 191.0L139.2 189.3L140.4 186.6L139.0 183.0L141.0 181.8L137.2 179.7L135.8 176.3L133.4 174.8L131.5 173.7L130.8 171.6L128.3 173.3L126.5 177.6L125.9 179.6L124.2 180.9L127.4 184.3L126.9 189.5Z" fill="#0a549e"/>
<path d="M132.3 225.8L133.9 225.5L135.4 222.7L134.8 220.2L136.6 219.2L138.0 216.1L139.2 212.6L141.5 210.0L138.8 207.2L137.5 203.7L134.9 202.8L132.3 203.3L131.1 202.5L128.5 198.8L123.5 198.0L120.1 197.6L119.4 198.7L122.7 202.6L120.9 206.4L122.1 209.9L123.0 213.2L126.9 215.9L127.2 217.6L126.1 221.1L127.7 223.6Z" fill="#0a549e"/>
<path d="M132.3 225.8L132.4 227.9L131.3 230.3L132.3 231.8L131.4 233.4L134.3 235.5L139.6 235.4L140.9 238.2L145.1 239.6L147.0 241.8L151.2 245.7L154.5 246.2L156.9 241.7L156.1 238.7L157.4 238.0L161.3 235.8L164.2 230.6L163.5 229.0L163.1 227.6L158.6 225.3L158.8 221.4L158.7 220.0L154.9 220.6L150.1 221.4L146.8 223.4L145.6 221.8L143.8 220.3L140.4 221.1L135.4 222.7L133.9 225.5Z" fill="#0a549e"/>
<path d="M123.6 285.6L126.1 284.8L129.2 280.4L132.7 281.6L136.0 280.9L139.1 280.4L142.0 275.7L140.3 272.9L136.5 270.1L137.7 267.2L136.9 264.3L135.4 262.4L129.5 264.3L128.8 262.2L125.0 264.0L124.9 267.9L125.0 268.2L123.2 271.4L121.1 275.7L118.4 279.2L117.2 281.9L121.3 284.1Z" fill="#0a549e"/>
<path d="M120.9 143.9L122.0 145.1L125.5 145.5L128.6 144.6L131.8 142.3L134.7 144.3L137.1 143.3L139.5 144.2L142.4 141.1L142.9 138.1L141.3 135.8L141.9 131.9L142.0 128.0L139.6 128.8L138.4 128.1L135.6 129.6L130.7 129.3L127.0 126.1L124.2 125.9L123.4 128.9L124.8 133.9L121.4 138.7L119.3 140.2Z" fill="#2171b5"/>
<path d="M163.4 69.7L159.6 67.2L160.4 65.1L157.0 66.3L153.4 70.4L151.1 71.2L150.3 70.5L147.7 69.0L148.1 69.7L143.7 73.0L141.6 71.6L138.4 71.9L135.7 73.5L133.0 70.2L132.7 69.8L129.8 72.5L127.6 74.2L126.3 76.9L123.1 78.7L118.5 82.0L119.6 84.5L122.9 87.2L123.3 90.2L125.6 87.2L128.2 89.2L131.4 86.4L134.7 84.6L137.9 80.6L140.7 84.6L142.3 83.3L143.3 82.1L144.2 82.0L146.1 79.7L150.2 79.4L152.6 78.4L155.2 75.2L158.1 77.6L161.5 79.0L164.2 77.8L164.5 77.6L164.0 76.4L164.5 73.8Z" fill="#2171b5"/>
<path d="M128.8 262.2L129.5 264.3L135.4 262.4L137.8 261.7L139.7 258.6L141.2 259.1L143.9 257.3L148.4 257.9L151.4 256.1L152.3 255.0L153.6 252.7L153.0 249.7L154.5 246.2L151.2 245.7L147.0 241.8L145.1 239.6L140.9 238.2L139.6 235.4L134.3 235.5L135.2 241.0L132.6 241.8L131.7 244.3L128.2 247.2L127.0 249.6L128.3 254.2L126.9 256.0L129.0 258.6Z" fill="#2171b5"/>
<path d="M122.6 172.8L128.3 173.3L130.8 171.6L131.5 173.7L133.4 174.8L135.8 176.3L138.6 177.6L140.8 175.1L142.9 173.3L146.2 174.4L150.6 174.3L153.3 174.0L154.2 168.0L155.4 165.5L155.3 163.2L156.1 160.8L153.6 158.2L153.1 155.5L151.5 154.0L150.3 151.6L149.6 151.4L145.9 150.4L145.3 145.4L142.5 141.5L142.4 141.1L139.5 144.2L137.1 143.3L134.7 144.3L131.8 142.3L128.6 144.6L125.5 145.5L125.5 146.7L124.8 150.1L125.3 154.3L128.0 157.9L128.5 161.8L125.0 162.6L124.0 166.3Z" fill="#0a549e"/>
<path d="M183.9 72.8L180.7 75.0L176.1 76.9L172.5 76.4L172.1 78.2L169.3 76.7L167.4 74.8L166.2 77.3L164.5 77.6L164.2 77.8L161.5 79.0L158.1 77.6L155.2 75.2L152.6 78.4L150.2 79.4L146.1 79.7L144.2 82.0L143.3 82.1L142.3 83.3L140.7 84.6L137.9 80.6L134.7 84.6L131.4 86.4L128.2 89.2L125.6 87.2L123.3 90.2L124.0 93.8L121.8 96.6L123.3 97.9L127.7 97.1L130.9 98.0L134.4 99.2L137.7 98.3L140.6 96.2L142.7 92.7L144.5 95.1L147.4 95.9L147.9 94.5L152.8 90.7L154.7 85.6L157.1 88.4L159.4 88.5L162.6 89.3L165.0 84.7L167.7 83.7L170.3 86.2L173.3 86.8L175.1 85.8L176.3 85.0L179.6 82.9L182.2 82.2L183.3 84.2L184.0 82.8L185.6 81.5L189.4 83.8L192.0 80.4L195.0 79.5L196.7 77.1L198.6 77.8L201.9 75.8L204.3 72.4L206.3 71.5L208.8 67.7L207.4 64.8L202.6 66.5L197.4 67.0L194.5 68.7L193.0 65.2L190.1 68.0L189.2 71.0L186.8 69.3L185.1 71.4L183.9 72.7Z" fill="#0a549e"/>
<path d="M137.5 203.7L139.0 199.8L140.1 197.6L142.3 198.0L142.7 194.9L138.4 191.0L135.2 189.4L131.9 192.8L129.1 193.1L126.0 193.6L123.9 193.1L121.5 195.2L120.1 197.6L123.5 198.0L128.5 198.8L131.1 202.5L132.3 203.3L134.9 202.8Z" fill="#0a549e"/>
<path d="M124.2 125.9L127.0 126.1L130.7 129.3L135.6 129.6L138.4 128.1L139.6 128.8L142.0 128.0L146.4 129.3L148.5 125.7L149.4 122.3L148.6 119.7L151.7 116.8L147.1 117.4L143.5 114.9L142.1 113.1L138.4 111.6L134.8 112.1L132.3 115.6L130.6 116.0L129.4 119.3L127.7 118.8L124.3 120.7L122.3 123.4Z" fill="#2171b5"/>
<path d="M159.2 60.4L156.9 60.6L154.1 62.7L150.1 61.2L145.4 59.2L145.3 58.1L140.4 60.4L137.0 64.3L134.6 65.9L132.4 66.4L130.4 67.4L132.7 69.8L133.0 70.2L135.7 73.5L138.4 71.9L141.6 71.6L143.7 73.0L148.1 69.7L147.7 69.0L150.3 70.5L151.1 71.2L153.4 70.4L157.0 66.3L160.4 65.1L159.6 67.2L163.4 69.7L166.2 69.3L169.0 69.2L171.5 65.5L173.1 65.5L175.7 65.3L177.5 63.7L179.6 66.2L183.7 63.6L185.3 60.6L184.9 56.9L185.4 54.3L185.7 52.2L185.0 51.8L180.7 53.3L178.4 53.6L177.1 55.9L174.9 52.8L170.9 52.7L170.6 54.5L166.9 55.2L162.8 58.0L159.2 56.1L159.8 56.7Z" fill="#2171b5"/>
<path d="M142.4 141.1L142.5 141.5L145.3 145.4L145.9 150.4L149.6 151.4L150.3 151.6L153.3 149.5L157.4 149.5L160.9 146.7L159.6 142.8L157.4 140.7L156.4 138.9L157.3 136.3L158.4 132.7L156.0 128.8L154.8 125.4L150.6 124.2L149.4 122.3L148.5 125.7L146.4 129.3L142.0 128.0L141.9 131.9L141.3 135.8L142.9 138.1Z" fill="#0a549e"/>
<path d="M160.6 181.7L165.7 185.7L168.7 185.7L168.0 184.9L171.3 184.9L175.6 182.8L179.4 183.8L180.7 181.1L180.7 179.9L177.6 178.1L173.8 175.7L171.7 174.5L167.5 176.1L166.5 174.6L165.3 170.8L162.0 169.1L159.7 167.6L158.2 166.8L155.4 165.5L154.2 168.0L153.3 174.0L150.6 174.3L146.2 174.4L142.9 173.3L140.8 175.1L138.6 177.6L135.8 176.3L137.2 179.7L141.0 181.8L139.0 183.0L140.4 186.6L141.1 186.3L144.6 186.6L148.1 184.4L149.0 183.7L149.1 182.1L152.4 182.5L154.1 182.1L155.9 183.6L156.9 184.1L158.6 182.2Z" fill="#2171b5"/>
<path d="M137.5 203.7L138.8 207.2L141.5 210.0L139.2 212.6L143.0 211.2L146.1 207.4L147.1 209.3L149.2 207.8L153.5 206.6L153.6 206.4L155.1 203.9L153.4 201.4L152.1 199.1L150.4 198.4L146.0 199.3L142.3 198.0L140.1 197.6L139.0 199.8Z" fill="#0a549e"/>
<path d="M142.0 275.7L143.9 277.1L146.9 279.3L148.9 280.5L150.0 280.2L149.3 278.1L152.2 272.2L156.0 269.6L154.8 268.7L155.0 265.0L156.9 260.8L156.0 257.4L156.3 256.1L152.3 255.0L151.4 256.1L148.4 257.9L143.9 257.3L141.2 259.1L139.7 258.6L137.8 261.7L135.4 262.4L136.9 264.3L137.7 267.2L136.5 270.1L140.3 272.9Z" fill="#0a549e"/>
<path d="M183.8 348.0L188.5 346.2L187.6 343.1L187.2 339.5L184.1 335.4L182.3 332.8L179.6 331.9L179.0 329.6L178.3 325.3L178.6 321.5L174.2 324.1L170.4 325.3L167.3 329.1L164.6 330.5L163.9 329.7L163.8 329.4L162.4 329.3L158.5 329.6L154.3 332.7L151.6 333.2L151.7 337.1L152.7 338.1L151.4 338.9L150.3 340.9L151.8 343.1L150.7 345.5L154.4 347.7L158.4 347.8L162.2 348.5L166.5 344.6L170.5 346.4L173.5 346.6L176.1 348.8L179.6 350.4L181.1 350.2L182.0 347.3Z" fill="#3e8ec4"/>
<path d="M148.1 310.0L149.5 306.6L151.1 305.4L153.7 301.6L154.6 299.3L155.9 296.6L153.0 292.8L155.3 290.5L157.3 289.0L157.6 285.1L155.4 285.0L151.0 282.8L150.0 280.2L148.9 280.5L146.9 279.3L143.4 281.2L141.2 286.6L142.4 289.5L141.5 291.4L140.8 295.6L139.2 299.5L142.9 304.2L144.8 307.3Z" fill="#0a549e"/>
<path d="M145.4 59.2L150.1 61.2L154.1 62.7L156.9 60.6L159.2 60.4L159.8 56.7L159.2 56.1L158.1 53.1L157.5 50.4L156.3 47.8L153.8 45.2L151.0 43.1L149.5 44.0L145.8 47.1L143.8 46.9L141.0 49.2L142.9 51.1L144.0 53.0L145.6 55.2L145.3 58.1Z" fill="#2171b5"/>
<path d="M153.1 155.5L153.6 158.2L156.1 160.8L155.3 163.2L155.4 165.5L158.2 166.8L159.7 167.6L162.7 169.2L165.8 165.6L168.9 163.1L171.5 162.6L173.8 162.7L176.4 161.4L175.4 158.3L177.4 155.6L175.5 152.6L173.7 148.3L171.0 146.3L167.3 146.6L164.8 147.2L163.1 149.5L160.9 146.7L157.4 149.5L153.3 149.5L150.3 151.6L151.5 154.0Z" fill="#2171b5"/>
<path d="M142.3 198.0L146.0 199.3L150.4 198.4L152.1 199.1L153.4 201.4L155.1 203.9L153.6 206.4L157.0 202.7L159.8 204.1L162.3 204.3L163.7 204.9L165.1 206.1L167.9 203.5L170.7 200.4L173.7 202.1L173.8 198.9L173.9 197.3L170.1 194.6L166.6 191.2L164.5 191.3L162.5 194.2L160.9 194.3L158.1 192.4L156.4 190.6L156.1 190.9L153.3 188.4L147.6 189.4L143.4 190.4L141.1 186.3L140.4 186.6L139.2 189.3L138.4 191.0L142.7 194.9Z" fill="#3e8ec4"/>
<path d="M135.4 222.7L140.4 221.1L143.8 220.3L145.6 221.8L146.8 223.4L150.1 221.4L154.9 220.6L158.7 220.0L158.2 216.6L159.0 214.9L154.6 213.0L154.7 210.2L153.5 206.6L149.2 207.8L147.1 209.3L146.1 207.4L143.0 211.2L139.2 212.6L138.0 216.1L136.6 219.2L134.8 220.2Z" fill="#0a549e"/>
<path d="M149.4 122.3L150.6 124.2L154.8 125.4L156.0 128.8L158.4 132.7L157.3 136.3L156.4 138.9L157.4 140.7L159.6 142.8L160.9 146.7L163.1 149.5L164.8 147.2L167.3 146.6L170.6 143.7L171.6 140.3L171.2 138.1L170.7 134.7L169.7 129.5L173.5 126.5L176.6 128.4L178.3 125.1L178.2 123.0L177.4 122.0L176.7 120.4L173.8 118.8L174.1 115.7L173.1 111.0L171.1 108.3L167.9 111.7L164.3 111.8L160.7 113.1L157.3 111.4L153.8 110.6L151.0 112.2L152.4 113.1L151.7 116.8L148.6 119.7Z" fill="#08306b"/>
<path d="M156.4 190.6L158.1 192.4L160.9 194.3L162.5 194.2L164.5 191.3L166.6 191.2L170.1 194.6L173.9 197.3L173.8 198.9L173.7 202.1L174.2 202.4L177.9 201.5L182.0 200.5L185.0 197.8L187.0 200.5L189.7 199.9L193.6 200.1L190.3 197.8L189.9 195.7L188.7 193.3L189.7 189.7L186.6 185.3L185.9 182.7L182.5 182.0L180.7 181.1L179.4 183.8L175.6 182.8L171.3 184.9L168.0 184.9L168.7 185.7L165.7 185.7L160.6 181.7L158.6 182.2L156.9 184.1L155.9 183.6L154.1 182.1L152.4 182.5L149.1 182.1L149.0 183.7L148.1 184.4L144.6 186.6L141.1 186.3L143.4 190.4L147.6 189.4L153.3 188.4L156.1 190.9Z" fill="#3e8ec4"/>
<path d="M152.3 255.0L156.3 256.1L156.0 257.4L156.9 260.8L155.0 265.0L156.6 267.1L159.5 268.3L164.1 265.5L168.1 264.9L170.6 266.1L172.8 266.7L176.1 268.5L176.8 267.8L176.9 264.2L174.7 260.2L174.5 256.4L177.0 253.3L178.9 251.0L179.0 250.0L180.0 249.9L184.2 246.3L185.1 242.8L184.8 239.0L182.7 236.8L179.5 234.6L179.1 232.4L175.9 233.2L171.9 234.8L168.7 231.4L166.3 231.3L164.2 230.6L161.3 235.8L157.4 238.0L156.1 238.7L156.9 241.7L154.5 246.2L153.0 249.7L153.6 252.7Z" fill="#0a549e"/>
<path d="M196.7 202.6L197.3 201.5L193.6 200.1L189.7 199.9L187.0 200.5L185.0 197.8L182.0 200.5L177.9 201.5L174.2 202.4L173.7 202.1L170.7 200.4L167.9 203.5L165.1 206.1L163.7 204.9L162.3 204.3L159.8 204.1L157.0 202.7L153.6 206.4L153.5 206.6L154.7 210.2L154.6 213.0L159.0 214.9L158.2 216.6L158.7 220.0L158.8 221.4L162.0 220.4L164.2 217.8L166.1 217.2L169.0 213.8L171.6 213.4L176.1 211.0L178.9 211.3L182.4 211.0L184.5 211.7L187.6 207.4L190.9 208.6L193.8 208.5L195.7 207.3Z" fill="#3e8ec4"/>
<path d="M176.8 267.8L176.1 268.5L172.8 266.7L170.6 266.1L168.1 264.9L164.1 265.5L159.5 268.3L156.6 267.1L155.0 265.0L154.8 268.7L156.0 269.6L152.2 272.2L149.3 278.1L150.0 280.2L151.0 282.8L155.4 285.0L157.6 285.1L159.9 282.8L163.1 284.6L166.0 285.0L168.1 286.1L167.9 287.8L169.4 286.8L172.2 284.6L175.7 286.3L179.1 287.5L180.1 290.0L184.4 291.4L188.5 289.1L192.4 287.5L195.5 288.0L196.5 285.3L198.2 284.5L195.1 280.6L195.0 275.9L195.4 271.3L194.7 267.5L195.1 265.3L195.1 262.2L197.4 259.2L200.5 260.2L203.8 260.5L206.3 258.3L209.0 253.6L210.4 252.0L211.5 249.8L211.0 246.2L213.6 243.6L214.1 241.3L211.4 238.8L210.5 236.4L208.1 234.3L204.6 237.3L200.2 234.5L195.7 236.0L191.9 237.1L188.8 240.2L186.2 237.3L184.8 239.0L185.1 242.8L184.2 246.3L180.0 249.9L179.0 250.0L178.9 251.0L177.0 253.3L174.5 256.4L174.7 260.2L176.9 264.2Z" fill="#60a6d2"/>
<path d="M183.3 84.2L182.2 82.2L179.6 82.9L176.3 85.0L175.1 85.8L173.3 86.8L170.3 86.2L167.7 83.7L165.0 84.7L162.6 89.3L159.4 88.5L157.1 88.4L154.7 85.6L152.8 90.7L147.9 94.5L147.4 95.9L149.5 97.7L150.3 99.8L153.8 102.1L154.9 102.1L156.9 97.2L159.6 97.1L162.3 96.1L167.5 99.3L170.2 101.0L173.5 99.5L176.3 97.9L179.7 98.0L182.0 98.7L182.9 100.2L184.0 97.0L184.8 97.1L188.2 95.2L192.3 92.8L194.1 93.1L195.1 88.1L199.1 87.7L201.1 89.6L202.2 90.4L205.7 93.7L205.2 91.0L205.1 88.3L204.6 85.5L201.6 82.1L198.6 77.8L196.7 77.1L195.0 79.5L192.0 80.4L189.4 83.8L185.6 81.5L184.0 82.8Z" fill="#0a549e"/>
<path d="M151.1 305.4L153.2 306.3L156.7 309.6L160.5 309.4L163.5 306.9L166.6 306.4L164.7 302.3L165.5 298.8L168.3 297.3L168.4 295.9L169.3 292.8L166.7 289.7L167.9 287.8L168.1 286.1L166.0 285.0L163.1 284.6L159.9 282.8L157.6 285.1L157.3 289.0L155.3 290.5L153.0 292.8L155.9 296.6L154.6 299.3L153.7 301.6Z" fill="#2171b5"/>
<path d="M150.7 358.3L151.5 361.9L153.6 364.5L155.9 365.7L160.5 368.8L160.9 373.7L161.9 372.9L162.9 371.9L166.0 370.8L170.0 366.4L171.4 364.9L172.0 359.9L173.7 356.9L174.9 353.8L177.8 353.4L181.1 350.2L179.6 350.4L176.1 348.8L173.5 346.6L170.5 346.4L166.5 344.6L162.2 348.5L158.4 347.8L154.4 347.7L150.7 345.5L152.4 351.3L152.8 356.7Z" fill="#60a6d2"/>
<path d="M197.1 383.0L195.6 385.2L194.0 384.7L189.6 384.8L185.5 381.9L183.8 383.4L181.6 389.1L181.2 392.6L182.6 394.6L179.0 397.9L176.3 399.4L178.8 401.8L179.8 404.3L180.8 405.9L183.5 403.0L187.4 403.6L190.2 405.9L192.6 405.4L195.3 406.2L198.5 402.8L202.0 402.4L205.3 401.4L203.6 398.2L201.1 395.8L203.4 393.0L201.2 389.6L199.1 386.2Z" fill="#2171b5"/>
<path d="M165.3 170.8L166.5 174.6L167.5 176.1L171.7 174.5L173.8 175.7L177.6 178.1L180.7 179.9L180.1 177.6L182.2 175.8L184.3 172.3L181.5 167.5L182.1 163.5L179.3 161.9L176.8 161.4L176.4 161.4L173.8 162.7L171.5 162.6L168.9 163.1L165.8 165.6L162.7 169.2L159.7 167.6L162.0 169.1Z" fill="#60a6d2"/>
<path d="M176.4 161.4L176.8 161.4L179.3 161.9L182.1 163.5L185.6 163.2L189.6 162.7L192.8 164.2L195.4 160.3L194.4 156.7L193.5 154.6L193.8 151.3L195.1 148.3L196.5 146.6L192.8 143.1L191.3 139.5L191.2 137.6L191.6 136.5L192.6 133.0L188.9 129.8L187.6 127.5L183.4 126.1L181.9 124.8L178.2 123.0L178.3 125.1L176.6 128.4L173.5 126.5L169.7 129.5L170.7 134.7L171.2 138.1L171.6 140.3L170.6 143.7L167.3 146.6L171.0 146.3L173.7 148.3L175.5 152.6L177.4 155.6L175.4 158.3Z" fill="#3e8ec4"/>
<path d="M166.6 306.4L169.8 306.2L173.3 309.6L176.6 311.7L179.7 308.0L180.8 306.5L180.5 303.0L182.2 302.6L185.1 300.0L186.0 295.9L183.7 292.7L184.4 291.4L180.1 290.0L179.1 287.5L175.7 286.3L172.2 284.6L169.4 286.8L167.9 287.8L166.7 289.7L169.3 292.8L168.4 295.9L168.3 297.3L165.5 298.8L164.7 302.3Z" fill="#0a549e"/>
<path d="M173.1 65.5L171.5 65.5L169.0 69.2L166.2 69.3L163.4 69.7L164.5 73.8L164.0 76.4L164.5 77.6L166.2 77.3L167.4 74.8L169.3 76.7L172.1 78.2L172.5 76.4L176.1 76.9L180.7 75.0L183.9 72.8L183.9 72.7L185.1 71.4L186.8 69.3L189.2 71.0L190.1 68.0L193.0 65.2L192.2 62.3L190.8 60.4L188.8 58.7L184.9 56.9L185.3 60.6L183.7 63.6L179.6 66.2L177.5 63.7L175.7 65.3Z" fill="#2171b5"/>
<path d="M169.0 213.8L166.1 217.2L164.2 217.8L162.0 220.4L158.8 221.4L158.6 225.3L163.1 227.6L163.5 229.0L164.2 230.6L166.3 231.3L168.7 231.4L171.9 234.8L175.9 233.2L179.1 232.4L179.5 234.6L182.7 236.8L184.8 239.0L186.2 237.3L188.8 240.2L191.9 237.1L195.7 236.0L200.2 234.5L204.6 237.3L208.1 234.3L205.6 232.0L207.0 230.2L207.7 227.8L207.1 226.8L205.3 222.4L200.6 218.4L199.2 217.1L198.2 215.8L197.5 213.1L194.1 210.5L193.8 208.5L190.9 208.6L187.6 207.4L184.5 211.7L182.4 211.0L178.9 211.3L176.1 211.0L171.6 213.4Z" fill="#60a6d2"/>
<path d="M185.5 381.9L189.6 384.8L194.0 384.7L195.6 385.2L197.1 383.0L199.9 383.1L204.0 380.6L206.4 379.4L203.2 375.9L200.2 370.8L200.9 367.6L199.8 366.5L194.8 364.2L191.6 362.3L190.0 363.7L188.8 366.0L188.5 369.6L186.2 370.6L182.3 374.5L181.5 375.8L185.4 378.9Z" fill="#3e8ec4"/>
<path d="M180.7 181.1L182.5 182.0L185.9 182.7L187.5 180.6L190.3 180.1L193.2 179.8L195.8 179.5L198.4 178.1L201.1 174.9L201.0 172.8L204.1 169.9L203.0 166.4L199.6 165.4L196.9 163.4L194.7 161.3L195.4 160.3L192.8 164.2L189.6 162.7L185.6 163.2L182.1 163.5L181.5 167.5L184.3 172.3L182.2 175.8L180.1 177.6L180.7 179.9Z" fill="#3e8ec4"/>
<path d="M162.9 371.9L166.5 372.3L170.0 372.7L173.3 375.2L177.9 377.7L180.3 375.5L181.5 375.8L182.3 374.5L186.2 370.6L188.5 369.6L188.8 366.0L190.0 363.7L191.6 362.3L190.4 358.9L192.0 356.0L188.7 353.2L187.4 350.5L183.8 348.0L182.0 347.3L181.1 350.2L177.8 353.4L174.9 353.8L173.7 356.9L172.0 359.9L171.4 364.9L170.0 366.4L166.0 370.8Z" fill="#2171b5"/>
<path d="M180.3 321.2L182.2 323.2L183.2 322.6L186.0 321.4L190.2 319.9L192.0 320.8L194.1 318.8L196.7 317.1L199.7 312.0L201.2 309.4L197.8 308.9L194.8 309.0L190.3 307.7L187.4 307.1L186.3 306.3L182.2 302.6L180.5 303.0L180.8 306.5L179.7 308.0L176.6 311.7L174.1 314.8L176.2 317.0L176.9 319.0Z" fill="#0a549e"/>
<path d="M226.9 42.8L228.5 45.7L229.6 48.6L228.4 51.2L232.2 53.9L237.2 56.8L239.5 57.1L242.4 58.4L246.9 55.3L250.1 56.8L251.3 57.7L252.5 57.1L254.5 56.1L258.0 51.8L260.4 53.4L263.1 53.3L266.8 54.0L270.7 49.7L271.2 49.4L272.1 47.9L273.5 44.8L275.4 40.5L276.2 38.0L273.4 35.6L275.9 32.0L277.5 29.2L275.3 29.5L274.1 30.2L269.7 26.7L264.6 23.4L262.0 25.6L259.8 26.2L257.7 28.2L255.1 27.1L253.5 23.6L251.9 20.1L246.0 21.1L241.5 21.3L238.9 23.9L236.8 22.3L234.4 21.5L231.9 23.0L229.7 23.8L227.4 27.6L224.9 27.3L224.2 30.0L227.6 33.9L226.5 37.5L226.4 39.4L223.9 40.8Z" fill="#0a549e"/>
<path d="M351.2 26.5L354.6 27.1L356.5 30.2L361.1 31.4L366.0 32.3L366.6 32.4L367.5 31.6L370.8 27.8L369.0 25.2L368.2 22.5L366.4 19.3L369.9 16.4L367.9 13.3L365.0 13.1L361.4 11.4L358.4 13.0L355.1 15.2L351.2 14.6L349.1 14.6L347.9 13.0L350.9 16.3L351.0 20.0L350.7 23.5Z" fill="#60a6d2"/>
<path d="M193.6 200.1L197.3 201.5L196.7 202.6L198.6 199.3L200.5 200.7L203.1 201.0L206.9 202.3L211.0 200.2L214.8 198.8L217.8 200.7L219.6 199.3L220.8 198.7L222.9 193.8L225.1 192.2L225.5 190.1L224.2 188.9L221.2 185.8L218.8 180.8L215.3 178.7L214.0 181.4L212.8 181.3L209.5 179.1L205.7 178.3L203.9 176.3L201.1 174.9L198.4 178.1L195.8 179.5L193.2 179.8L190.3 180.1L187.5 180.6L185.9 182.7L186.6 185.3L189.7 189.7L188.7 193.3L189.9 195.7L190.3 197.8Z" fill="#3e8ec4"/>
<path d="M178.2 123.0L181.9 124.8L183.4 126.1L187.6 127.5L188.9 129.8L192.6 133.0L191.6 136.5L194.9 135.3L198.0 134.6L201.2 129.2L204.4 128.3L204.6 126.4L205.7 122.6L203.9 120.5L204.5 118.0L203.3 113.3L201.7 109.0L196.8 107.7L195.0 108.4L194.3 109.5L190.9 110.4L188.6 112.6L187.7 114.3L187.7 115.2L185.3 117.5L180.1 117.7L177.4 122.0Z" fill="#0a549e"/>
<path d="M197.5 213.1L198.2 215.8L199.2 217.1L200.6 218.4L205.3 222.4L207.1 226.8L207.7 227.8L211.0 224.0L212.8 223.0L213.5 219.2L217.0 218.9L221.9 215.7L219.9 212.2L218.9 209.5L216.0 206.5L218.4 203.5L217.8 200.7L214.8 198.8L211.0 200.2L206.9 202.3L203.1 201.0L200.5 200.7L198.6 199.3L196.7 202.6L195.7 207.3L193.8 208.5L194.1 210.5Z" fill="#60a6d2"/>
<path d="M193.0 65.2L194.5 68.7L197.4 67.0L202.6 66.5L207.4 64.8L203.9 61.6L205.3 59.3L205.5 57.8L206.9 56.6L204.0 53.6L198.8 50.4L196.0 51.7L194.1 52.8L192.2 54.7L189.4 54.7L185.7 52.2L185.4 54.3L184.9 56.9L188.8 58.7L190.8 60.4L192.2 62.3Z" fill="#2171b5"/>
<path d="M184.4 291.4L183.7 292.7L186.0 295.9L185.1 300.0L182.2 302.6L186.3 306.3L187.4 307.1L190.3 307.7L194.8 309.0L197.8 308.9L201.2 309.4L202.1 309.3L203.9 306.3L202.1 303.1L203.9 301.1L203.4 296.7L201.8 293.0L198.4 292.2L194.3 290.9L195.5 288.0L192.4 287.5L188.5 289.1Z" fill="#2171b5"/>
<path d="M178.6 321.5L178.3 325.3L179.0 329.6L179.6 331.9L182.3 332.8L184.1 335.4L187.2 339.5L187.6 343.1L188.5 346.2L192.7 345.9L195.8 341.2L192.9 339.1L192.2 337.5L191.4 334.0L194.1 328.3L191.6 323.3L190.2 319.9L186.0 321.4L183.2 322.6L182.2 323.2L180.3 321.2Z" fill="#3e8ec4"/>
<path d="M183.8 348.0L187.4 350.5L188.7 353.2L192.0 356.0L190.4 358.9L191.6 362.3L194.8 364.2L199.8 366.5L200.9 367.6L200.2 370.8L203.2 375.9L206.4 379.4L210.0 377.3L212.6 375.9L214.1 377.1L215.7 377.9L218.8 379.5L222.7 376.2L225.8 376.7L226.3 373.1L228.1 369.5L231.6 368.5L231.8 365.6L231.9 362.4L228.2 364.4L224.1 363.0L220.7 359.2L218.8 359.7L214.5 359.1L210.3 360.0L210.5 357.1L208.9 354.4L209.6 351.5L206.4 348.6L203.4 345.8L202.0 342.7L200.1 340.1L198.3 341.1L195.8 341.2L192.7 345.9L188.5 346.2Z" fill="#2171b5"/>
<path d="M237.2 166.3L237.6 162.8L236.7 160.4L236.6 157.9L235.4 155.7L232.5 152.1L228.5 147.8L230.1 146.8L226.4 146.3L224.0 145.5L222.5 142.8L221.1 145.3L219.0 147.2L216.1 147.9L214.6 151.2L211.3 149.4L207.9 151.7L205.5 151.2L201.5 147.9L196.8 148.4L195.1 148.3L193.8 151.3L193.5 154.6L194.4 156.7L195.4 160.3L194.7 161.3L196.9 163.4L199.6 165.4L203.0 166.4L205.3 166.1L207.2 165.8L208.8 161.6L212.4 159.6L214.1 161.3L216.7 163.5L217.3 166.3L221.3 169.5L222.9 172.5L225.3 170.6L228.1 169.2L231.2 165.4L234.4 166.3Z" fill="#3e8ec4"/>
<path d="M237.5 330.6L236.8 330.8L235.7 333.6L233.8 333.6L234.2 337.9L234.1 342.0L231.8 346.2L234.9 349.4L235.4 351.0L236.7 352.7L234.8 354.4L236.8 354.7L240.7 352.5L244.7 350.4L247.0 346.6L247.4 348.5L248.3 345.9L251.9 342.9L254.7 340.6L255.1 336.3L254.9 335.2L257.0 332.7L259.2 331.3L261.5 331.1L261.8 329.3L259.2 328.8L255.9 328.2L255.8 327.2L253.6 325.7L249.8 326.1L244.8 328.2L240.9 329.7Z" fill="#60a6d2"/>
<path d="M194.3 109.5L195.0 108.4L196.8 107.7L199.0 106.2L202.4 101.8L205.8 100.6L208.5 97.5L209.9 98.1L210.3 96.0L209.3 95.3L205.7 93.7L202.2 90.4L201.1 89.6L199.1 87.7L195.1 88.1L194.1 93.1L192.3 92.8L188.2 95.2L184.8 97.1L189.2 99.3L191.3 102.0L194.9 105.8Z" fill="#0a549e"/>
<path d="M191.3 139.5L192.8 143.1L196.5 146.6L195.1 148.3L196.8 148.4L201.5 147.9L205.5 151.2L207.9 151.7L211.3 149.4L214.6 151.2L216.1 147.9L219.0 147.2L221.1 145.3L222.5 142.8L221.0 139.7L216.6 139.1L215.3 140.3L212.5 138.5L209.0 136.1L207.3 134.6L202.6 132.0L201.2 129.2L198.0 134.6L194.9 135.3L191.6 136.5L191.2 137.6Z" fill="#0a549e"/>
<path d="M190.2 319.9L191.6 323.3L194.1 328.3L191.4 334.0L192.2 337.5L192.9 339.1L195.8 341.2L198.3 341.1L200.1 340.1L202.0 342.7L205.4 339.5L208.6 338.5L208.8 336.1L207.6 332.0L204.3 326.8L205.8 322.8L205.5 319.7L205.2 316.7L201.2 314.0L199.7 312.0L196.7 317.1L194.1 318.8L192.0 320.8Z" fill="#2171b5"/>
<path d="M194.7 267.5L195.4 271.3L195.0 275.9L195.1 280.6L198.2 284.5L200.8 281.5L203.1 281.0L206.1 280.3L209.9 281.6L211.0 280.3L211.6 274.2L215.0 272.5L217.8 270.1L216.2 267.0L213.8 264.7L210.7 263.8L208.7 263.5L203.8 260.5L200.5 260.2L197.4 259.2L195.1 262.2L195.1 265.3Z" fill="#2171b5"/>
<path d="M206.9 56.6L209.7 54.6L211.3 52.6L213.6 49.0L218.7 51.2L222.5 48.6L224.6 46.9L226.9 42.8L223.9 40.8L226.4 39.4L226.5 37.5L227.6 33.9L224.2 30.0L224.9 27.3L221.5 27.7L219.1 28.0L218.5 30.1L217.6 33.5L214.9 34.1L212.6 37.0L210.7 39.0L208.0 39.5L204.3 40.2L200.1 37.3L203.4 42.4L201.2 47.0L200.7 49.2L198.8 50.4L204.0 53.6Z" fill="#2171b5"/>
<path d="M195.5 288.0L194.3 290.9L198.4 292.2L201.8 293.0L203.4 296.7L203.9 301.1L206.8 298.5L210.5 298.2L214.3 295.0L216.3 293.5L213.7 292.5L211.3 290.8L210.0 287.7L209.0 284.4L209.9 281.6L206.1 280.3L203.1 281.0L200.8 281.5L198.2 284.5L196.5 285.3Z" fill="#2171b5"/>
<path d="M199.7 312.0L201.2 314.0L204.9 316.3L208.2 315.8L211.6 315.7L215.8 312.0L219.7 313.7L222.1 314.1L224.5 314.4L225.9 311.1L222.5 308.6L221.4 306.6L221.5 304.9L220.6 302.6L219.5 298.3L216.6 294.2L216.3 293.5L214.3 295.0L210.5 298.2L206.8 298.5L203.9 301.1L202.1 303.1L203.9 306.3L202.1 309.3L201.2 309.4Z" fill="#3e8ec4"/>
<path d="M205.7 178.3L209.5 179.1L212.8 181.3L214.0 181.4L215.3 178.7L218.8 180.8L220.1 178.0L224.0 174.3L224.2 172.9L222.9 172.5L221.3 169.5L217.3 166.3L216.7 163.5L214.1 161.3L212.4 159.6L208.8 161.6L207.2 165.8L205.3 166.1L203.0 166.4L204.1 169.9L201.0 172.8L201.1 174.9L203.9 176.3Z" fill="#3e8ec4"/>
<path d="M205.7 93.7L209.3 95.3L210.3 96.0L211.4 93.5L213.3 93.1L216.7 89.8L216.2 86.6L216.3 83.6L213.3 81.0L215.6 77.9L216.4 73.8L216.6 70.3L214.9 72.4L211.1 71.0L208.8 67.7L206.3 71.5L204.3 72.4L201.9 75.8L198.6 77.8L201.6 82.1L204.6 85.5L205.1 88.3L205.2 91.0Z" fill="#0a549e"/>
<path d="M208.8 336.1L210.4 333.0L211.5 331.9L214.8 328.3L219.5 328.4L222.6 326.4L225.1 328.1L224.4 323.6L222.5 319.8L226.0 317.1L224.5 314.4L222.1 314.1L219.7 313.7L215.8 312.0L211.6 315.7L208.2 315.8L204.9 316.3L201.2 314.0L205.2 316.7L205.5 319.7L205.8 322.8L204.3 326.8L207.6 332.0Z" fill="#3e8ec4"/>
<path d="M208.1 234.3L210.5 236.4L211.4 238.8L214.1 241.3L213.6 243.6L217.5 241.1L221.3 241.8L224.6 244.2L227.1 244.0L229.6 242.9L227.2 238.0L226.7 233.7L228.6 231.3L229.4 229.6L230.8 226.3L227.7 221.9L228.7 219.1L226.3 221.3L223.4 220.0L221.9 215.7L217.0 218.9L213.5 219.2L212.8 223.0L211.0 224.0L207.7 227.8L207.0 230.2L205.6 232.0Z" fill="#89bedc"/>
<path d="M196.8 107.7L201.7 109.0L203.3 113.3L204.5 118.0L203.9 120.5L207.7 117.4L211.7 117.4L215.7 118.8L219.0 119.5L221.8 120.4L223.8 115.9L225.9 114.9L228.4 111.3L226.1 109.2L228.1 108.3L229.2 106.4L228.1 103.2L226.6 99.2L222.4 98.7L221.1 94.8L217.8 93.3L213.3 93.1L211.4 93.5L210.3 96.0L209.9 98.1L208.5 97.5L205.8 100.6L202.4 101.8L199.0 106.2Z" fill="#60a6d2"/>
<path d="M217.8 270.1L221.8 272.8L224.7 270.3L225.7 267.8L225.7 265.4L226.4 262.6L228.7 262.3L230.2 258.5L230.1 256.6L227.5 254.2L225.8 250.6L226.8 247.1L227.1 244.0L224.6 244.2L221.3 241.8L217.5 241.1L213.6 243.6L211.0 246.2L211.5 249.8L210.4 252.0L209.0 253.6L206.3 258.3L203.8 260.5L208.7 263.5L210.7 263.8L213.8 264.7L216.2 267.0Z" fill="#89bedc"/>
<path d="M208.8 67.7L211.1 71.0L214.9 72.4L216.6 70.3L217.7 69.3L220.6 67.7L224.2 69.0L227.4 67.4L229.7 65.0L230.3 62.7L232.4 57.4L232.2 53.9L228.4 51.2L229.6 48.6L228.5 45.7L226.9 42.8L224.6 46.9L222.5 48.6L218.7 51.2L213.6 49.0L211.3 52.6L209.7 54.6L206.9 56.6L205.5 57.8L205.3 59.3L203.9 61.6L207.4 64.8Z" fill="#0a549e"/>
<path d="M210.3 360.0L214.5 359.1L218.8 359.7L220.7 359.2L224.1 363.0L228.2 364.4L231.9 362.4L233.6 360.5L233.1 355.7L234.8 354.4L236.7 352.7L235.4 351.0L231.6 347.4L227.2 346.7L224.3 345.4L223.9 344.2L219.6 345.0L217.4 342.4L213.7 337.9L209.9 337.9L208.6 338.5L205.4 339.5L202.0 342.7L203.4 345.8L206.4 348.6L209.6 351.5L208.9 354.4L210.5 357.1Z" fill="#2171b5"/>
<path d="M206.4 379.4L204.0 380.6L199.9 383.1L197.1 383.0L199.1 386.2L201.2 389.6L203.4 393.0L201.1 395.8L203.6 398.2L205.3 401.4L206.9 401.0L209.0 403.2L210.7 402.0L213.4 401.2L217.8 399.2L221.9 396.6L223.5 396.7L224.2 394.7L225.4 395.6L227.5 392.2L227.2 388.2L226.9 384.3L228.6 381.0L224.7 378.3L225.8 376.7L222.7 376.2L218.8 379.5L215.7 377.9L214.1 377.1L212.6 375.9L210.0 377.3Z" fill="#60a6d2"/>
<path d="M216.6 294.2L217.7 291.3L220.8 290.4L224.3 289.2L226.7 287.9L228.6 287.6L230.9 283.4L229.5 280.9L225.0 278.2L226.4 275.3L225.2 272.6L224.7 270.3L221.8 272.8L217.8 270.1L215.0 272.5L211.6 274.2L211.0 280.3L209.9 281.6L209.0 284.4L210.0 287.7L211.3 290.8L213.7 292.5L216.3 293.5Z" fill="#0a549e"/>
<path d="M201.2 129.2L202.6 132.0L207.3 134.6L209.0 136.1L212.5 138.5L215.3 140.3L216.6 139.1L221.0 139.7L219.1 137.1L222.6 134.8L221.8 131.9L221.6 129.0L218.9 126.2L222.1 123.4L221.8 120.4L219.0 119.5L215.7 118.8L211.7 117.4L207.7 117.4L203.9 120.5L205.7 122.6L204.6 126.4L204.4 128.3Z" fill="#2171b5"/>
<path d="M221.9 215.7L223.4 220.0L226.3 221.3L228.7 219.1L231.6 218.9L234.8 216.8L237.7 218.6L237.6 213.8L240.6 210.5L241.2 209.5L239.2 206.4L237.2 204.1L236.1 201.4L236.1 198.5L231.4 195.0L228.3 192.9L225.1 192.2L222.9 193.8L220.8 198.7L219.6 199.3L217.8 200.7L218.4 203.5L216.0 206.5L218.9 209.5L219.9 212.2Z" fill="#60a6d2"/>
<path d="M221.0 139.7L222.5 142.8L224.0 145.5L226.4 146.3L230.1 146.8L228.5 147.8L232.5 152.1L235.4 155.7L236.6 157.9L236.7 160.4L240.1 157.8L244.7 158.1L249.4 158.4L251.5 157.2L249.7 154.8L253.0 150.9L254.6 148.9L255.2 146.7L255.2 142.2L254.3 139.7L254.3 135.8L251.2 133.3L247.7 132.8L245.1 131.5L240.9 133.5L240.8 130.4L241.6 127.2L239.7 124.3L238.0 121.8L234.3 119.8L234.6 119.3L231.7 114.4L228.4 111.3L225.9 114.9L223.8 115.9L221.8 120.4L222.1 123.4L218.9 126.2L221.6 129.0L221.8 131.9L222.6 134.8L219.1 137.1Z" fill="#60a6d2"/>
<path d="M224.5 314.4L226.0 317.1L222.5 319.8L224.4 323.6L225.1 328.1L228.8 330.3L228.4 329.9L229.2 330.0L233.8 333.6L235.7 333.6L236.8 330.8L237.5 330.6L238.1 327.0L240.1 322.8L240.1 319.4L238.9 317.4L237.2 315.1L236.1 313.2L234.3 312.6L231.2 310.4L228.0 308.2L225.9 311.1Z" fill="#60a6d2"/>
<path d="M213.3 93.1L217.8 93.3L221.1 94.8L222.4 98.7L226.6 99.2L228.8 96.1L231.3 92.3L234.0 93.9L236.6 91.0L237.9 85.9L239.6 83.1L236.6 81.2L233.3 78.7L233.4 73.8L232.7 69.9L228.0 69.1L227.4 67.4L224.2 69.0L220.6 67.7L217.7 69.3L216.6 70.3L216.4 73.8L215.6 77.9L213.3 81.0L216.3 83.6L216.2 86.6L216.7 89.8Z" fill="#3e8ec4"/>
<path d="M233.8 333.6L229.2 330.0L228.4 329.9L228.8 330.3L225.1 328.1L222.6 326.4L219.5 328.4L214.8 328.3L211.5 331.9L210.4 333.0L208.8 336.1L208.6 338.5L209.9 337.9L213.7 337.9L217.4 342.4L219.6 345.0L223.9 344.2L224.3 345.4L227.2 346.7L231.6 347.4L235.4 351.0L234.9 349.4L231.8 346.2L234.1 342.0L234.2 337.9Z" fill="#3e8ec4"/>
<path d="M228.0 308.2L231.2 310.4L234.3 312.6L236.1 313.2L237.2 315.1L240.4 311.2L245.0 311.2L248.7 311.9L251.6 312.0L253.8 312.9L251.4 308.9L253.0 304.6L256.0 302.1L257.4 299.1L255.7 299.9L251.2 297.3L249.3 293.9L246.2 293.7L242.5 292.8L239.9 290.0L235.9 286.9L235.6 284.3L233.8 284.4L230.9 283.4L228.6 287.6L226.7 287.9L224.3 289.2L220.8 290.4L217.7 291.3L216.6 294.2L219.5 298.3L220.6 302.6L221.5 304.9L221.4 306.6L222.5 308.6L225.9 311.1Z" fill="#60a6d2"/>
<path d="M218.8 180.8L221.2 185.8L224.2 188.9L225.5 190.1L225.1 192.2L228.3 192.9L231.4 195.0L234.0 194.0L235.9 190.2L237.2 189.2L239.6 185.1L243.7 184.1L246.6 180.4L243.2 179.3L241.3 176.9L239.6 174.0L240.1 171.3L239.8 168.8L237.2 166.3L234.4 166.3L231.2 165.4L228.1 169.2L225.3 170.6L222.9 172.5L224.2 172.9L224.0 174.3L220.1 178.0Z" fill="#60a6d2"/>
<path d="M229.6 242.9L232.2 239.7L233.8 240.8L235.9 242.2L239.2 242.2L243.3 241.8L247.5 238.7L248.4 238.4L246.9 237.8L246.7 234.9L245.0 231.5L246.9 227.5L246.0 223.2L245.3 220.2L243.0 220.6L239.1 220.7L237.7 218.6L234.8 216.8L231.6 218.9L228.7 219.1L227.7 221.9L230.8 226.3L229.4 229.6L228.6 231.3L226.7 233.7L227.2 238.0Z" fill="#60a6d2"/>
<path d="M227.4 67.4L228.0 69.1L232.7 69.9L233.4 73.8L233.3 78.7L236.6 81.2L239.6 83.1L242.0 80.9L243.5 78.9L244.8 79.9L247.2 75.0L249.6 73.0L250.3 68.6L250.4 65.8L254.5 63.9L254.0 60.5L251.3 57.7L250.1 56.8L246.9 55.3L242.4 58.4L239.5 57.1L237.2 56.8L232.2 53.9L232.4 57.4L230.3 62.7L229.7 65.0Z" fill="#3e8ec4"/>
<path d="M230.9 283.4L233.8 284.4L235.6 284.3L235.9 286.9L239.9 290.0L242.5 292.8L246.2 293.7L249.3 293.9L251.2 297.3L255.7 299.9L257.4 299.1L259.1 295.4L258.7 294.4L258.3 291.3L261.9 287.8L262.3 285.6L263.7 281.3L261.1 277.4L260.5 274.8L262.9 273.8L259.9 272.3L256.6 273.0L254.1 273.3L250.9 275.2L248.1 272.2L248.2 268.5L244.5 263.9L243.3 260.4L240.2 262.7L235.9 264.1L231.6 262.5L228.7 262.3L226.4 262.6L225.7 265.4L225.7 267.8L224.7 270.3L225.2 272.6L226.4 275.3L225.0 278.2L229.5 280.9Z" fill="#0a549e"/>
<path d="M227.1 244.0L226.8 247.1L225.8 250.6L227.5 254.2L230.1 256.6L230.2 258.5L228.7 262.3L231.6 262.5L235.9 264.1L240.2 262.7L243.3 260.4L241.8 259.4L243.4 255.9L248.1 253.6L248.2 252.1L246.5 247.7L247.1 245.0L245.5 241.8L247.5 238.7L243.3 241.8L239.2 242.2L235.9 242.2L233.8 240.8L232.2 239.7L229.6 242.9Z" fill="#3e8ec4"/>
<path d="M226.6 99.2L228.1 103.2L229.2 106.4L228.1 108.3L226.1 109.2L228.4 111.3L231.7 114.4L234.6 119.3L234.3 119.8L238.0 121.8L239.7 124.3L241.6 127.2L240.8 130.4L240.9 133.5L245.1 131.5L247.7 132.8L251.2 133.3L254.3 135.8L254.3 139.7L258.0 140.3L262.1 137.1L266.7 137.7L270.3 137.6L271.2 137.6L270.4 133.8L272.8 129.3L277.6 126.9L278.2 124.6L276.0 122.1L274.3 119.2L274.3 115.6L275.7 112.2L275.7 110.5L275.9 107.8L274.2 106.3L271.7 104.3L273.3 101.5L272.4 98.6L271.6 95.7L267.4 92.6L266.9 92.0L264.0 93.8L261.2 91.7L258.2 96.0L254.8 97.4L251.5 98.6L249.8 97.1L248.6 97.5L244.6 96.9L242.5 95.4L239.2 95.4L234.0 93.9L231.3 92.3L228.8 96.1Z" fill="#89bedc"/>
<path d="M231.4 195.0L236.1 198.5L236.1 201.4L237.2 204.1L239.2 206.4L241.5 203.0L245.0 202.9L250.5 203.0L255.4 205.2L259.0 201.7L262.0 201.5L264.1 200.9L266.1 200.7L265.3 199.9L261.2 196.9L259.6 193.0L258.7 188.8L258.7 186.5L254.5 186.6L253.1 185.3L248.8 181.5L247.4 179.7L246.6 180.4L243.7 184.1L239.6 185.1L237.2 189.2L235.9 190.2L234.0 194.0Z" fill="#60a6d2"/>
<path d="M245.0 311.2L240.4 311.2L237.2 315.1L238.9 317.4L240.1 319.4L240.1 322.8L238.1 327.0L237.5 330.6L240.9 329.7L244.8 328.2L249.8 326.1L253.6 325.7L255.8 327.2L253.6 324.2L250.4 321.6L250.3 319.4L250.8 316.4L253.7 315.0L253.8 312.9L251.6 312.0L248.7 311.9Z" fill="#60a6d2"/>
<path d="M237.2 166.3L239.8 168.8L240.1 171.3L239.6 174.0L241.3 176.9L243.2 179.3L246.6 180.4L247.4 179.7L248.8 181.5L251.5 178.2L256.7 178.3L259.4 175.1L260.0 173.6L261.2 167.7L263.7 167.2L260.0 163.5L259.5 160.6L257.7 159.3L254.3 158.6L251.5 157.2L249.4 158.4L244.7 158.1L240.1 157.8L236.7 160.4L237.6 162.8Z" fill="#60a6d2"/>
<path d="M246.5 247.7L248.2 252.1L248.1 253.6L243.4 255.9L241.8 259.4L243.3 260.4L244.5 263.9L248.2 268.5L248.1 272.2L250.9 275.2L254.1 273.3L256.6 273.0L259.9 272.3L262.9 273.8L262.8 272.9L263.9 271.0L264.4 267.0L263.4 265.1L265.5 262.5L268.0 259.4L269.9 258.9L272.0 255.3L274.9 253.7L277.5 250.9L278.4 246.7L278.9 245.5L281.4 243.1L284.2 243.0L285.2 240.8L286.7 236.5L283.6 233.9L283.7 232.0L279.8 234.5L275.6 232.7L272.8 232.0L270.9 230.1L268.0 229.6L264.8 232.4L264.0 233.4L263.0 233.9L260.4 234.6L257.2 232.4L253.3 235.5L249.3 236.8L246.9 237.8L248.4 238.4L247.5 238.7L245.5 241.8L247.1 245.0Z" fill="#3e8ec4"/>
<path d="M270.7 49.7L266.8 54.0L263.1 53.3L260.4 53.4L258.0 51.8L254.5 56.1L252.5 57.1L251.3 57.7L254.0 60.5L254.5 63.9L250.4 65.8L250.3 68.6L249.6 73.0L247.2 75.0L244.8 79.9L243.5 78.9L242.0 80.9L239.6 83.1L237.9 85.9L236.6 91.0L234.0 93.9L239.2 95.4L242.5 95.4L244.6 96.9L248.6 97.5L249.8 97.1L251.5 98.6L254.8 97.4L258.2 96.0L261.2 91.7L264.0 93.8L266.9 92.0L267.5 88.7L267.7 85.6L266.4 83.0L265.3 80.4L267.2 76.2L268.2 75.0L270.4 72.8L270.3 68.9L268.1 64.4L269.9 62.1L270.7 60.5L273.5 55.4Z" fill="#2171b5"/>
<path d="M245.3 220.2L246.0 223.2L246.9 227.5L245.0 231.5L246.7 234.9L246.9 237.8L249.3 236.8L253.3 235.5L257.2 232.4L260.4 234.6L263.0 233.9L264.0 233.4L264.8 232.4L267.2 228.9L265.8 224.6L264.3 219.8L263.9 216.0L266.5 213.3L267.9 210.8L267.3 208.1L264.5 205.4L263.2 203.0L264.1 200.9L262.0 201.5L259.0 201.7L255.4 205.2L250.5 203.0L245.0 202.9L241.5 203.0L239.2 206.4L241.2 209.5L240.6 210.5L237.6 213.8L237.7 218.6L239.1 220.7L243.0 220.6Z" fill="#60a6d2"/>
<path d="M328.6 36.6L331.2 37.3L334.4 35.1L336.9 36.7L340.1 40.1L343.8 39.0L345.9 38.7L347.8 36.1L350.2 32.7L351.8 31.3L351.2 26.5L350.7 23.5L351.0 20.0L350.9 16.3L347.9 13.0L346.0 16.3L342.4 17.8L339.0 17.8L336.3 17.6L334.1 16.2L332.5 19.8L330.0 21.5L327.5 22.0L324.8 21.7L325.3 24.7L325.3 28.0L330.2 32.4Z" fill="#3e8ec4"/>
<path d="M355.3 211.4L357.0 213.4L355.6 216.1L351.6 217.8L347.3 220.9L346.2 223.0L344.2 226.2L340.5 228.9L337.9 231.8L335.8 233.2L335.2 233.9L335.7 234.3L340.1 237.8L343.8 238.0L345.3 234.9L346.5 233.7L349.7 233.1L353.9 235.0L357.3 232.0L360.1 231.0L362.2 228.2L363.8 230.0L365.6 230.2L368.1 229.8L371.3 228.4L374.7 224.7L378.1 224.1L379.5 220.6L380.6 219.8L379.0 218.1L380.9 216.7L380.4 214.4L379.5 211.4L378.6 206.1L378.0 202.5L382.2 200.9L382.3 198.4L381.1 196.5L383.9 194.9L386.5 190.4L387.5 188.8L388.6 187.8L389.8 185.2L387.3 187.1L385.0 184.7L380.9 184.9L375.1 185.6L370.6 188.5L367.6 187.7L365.7 186.8L364.0 186.3L360.8 190.0L362.5 193.7L363.2 196.4L365.8 198.3L363.0 200.9L363.5 204.8L361.0 210.2L358.1 209.8Z" fill="#2171b5"/>
<path d="M264.1 200.9L263.2 203.0L264.5 205.4L267.3 208.1L271.9 211.7L273.5 212.9L276.2 211.9L281.3 212.1L284.6 211.9L286.2 216.0L287.5 213.8L289.5 211.8L292.0 208.9L294.9 206.9L296.6 207.2L295.9 204.5L294.9 201.6L290.6 198.1L288.4 194.0L288.8 189.5L286.8 186.7L285.9 185.9L283.7 187.2L280.1 185.6L276.2 186.4L273.5 188.8L271.4 189.4L269.1 193.2L267.0 195.4L265.3 199.9L266.1 200.7Z" fill="#60a6d2"/>
<path d="M251.5 157.2L254.3 158.6L257.7 159.3L259.5 160.6L260.0 163.5L263.7 167.2L266.6 168.2L269.1 165.9L270.7 162.2L271.3 158.3L274.0 158.7L278.8 155.9L278.6 153.0L275.5 149.6L275.5 146.6L272.4 145.1L273.2 144.0L271.9 141.1L270.3 137.6L266.7 137.7L262.1 137.1L258.0 140.3L254.3 139.7L255.2 142.2L255.2 146.7L254.6 148.9L253.0 150.9L249.7 154.8Z" fill="#2171b5"/>
<path d="M265.3 199.9L267.0 195.4L269.1 193.2L271.4 189.4L273.5 188.8L276.2 186.4L280.1 185.6L278.4 181.2L276.9 179.6L273.2 178.2L270.8 175.6L268.8 172.8L269.9 170.3L266.6 168.2L263.7 167.2L261.2 167.7L260.0 173.6L259.4 175.1L256.7 178.3L251.5 178.2L248.8 181.5L253.1 185.3L254.5 186.6L258.7 186.5L258.7 188.8L259.6 193.0L261.2 196.9Z" fill="#60a6d2"/>
<path d="M264.8 232.4L268.0 229.6L270.9 230.1L272.8 232.0L275.6 232.7L279.8 234.5L283.7 232.0L284.8 228.3L285.3 226.8L283.6 224.7L283.9 221.2L287.3 218.2L286.2 216.0L284.6 211.9L281.3 212.1L276.2 211.9L273.5 212.9L271.9 211.7L267.3 208.1L267.9 210.8L266.5 213.3L263.9 216.0L264.3 219.8L265.8 224.6L267.2 228.9Z" fill="#60a6d2"/>
<path d="M268.2 75.0L267.2 76.2L265.3 80.4L266.4 83.0L267.7 85.6L267.5 88.7L266.9 92.0L267.4 92.6L271.6 95.7L272.4 98.6L273.3 101.5L271.7 104.3L274.2 106.3L275.9 107.8L277.3 107.8L279.9 108.0L284.7 108.9L289.3 107.2L293.0 105.2L296.3 103.5L296.7 100.0L298.4 98.9L296.7 96.1L297.7 93.8L298.3 91.1L297.2 88.6L295.5 86.2L291.0 83.9L292.4 82.3L292.4 78.5L290.7 74.6L288.2 73.8L284.4 73.8L282.5 70.5L281.4 66.7L284.8 63.1L284.9 60.8L284.2 59.8L282.2 56.3L278.2 54.6L276.6 52.6L271.2 49.4L270.7 49.7L273.5 55.4L270.7 60.5L269.9 62.1L268.1 64.4L270.3 68.9L270.4 72.8Z" fill="#3e8ec4"/>
<path d="M297.2 172.7L295.0 170.5L293.9 168.1L292.5 165.8L293.8 163.3L293.1 162.2L289.1 159.0L286.8 156.9L285.1 158.1L281.0 158.4L278.8 155.9L274.0 158.7L271.3 158.3L270.7 162.2L269.1 165.9L266.6 168.2L269.9 170.3L268.8 172.8L270.8 175.6L273.2 178.2L276.9 179.6L278.4 181.2L280.1 185.6L283.7 187.2L285.9 185.9L285.9 185.1L286.6 180.9L289.6 179.3L293.7 174.9Z" fill="#2171b5"/>
<path d="M296.6 207.2L299.6 205.4L302.8 204.3L305.7 202.1L307.4 204.0L309.9 205.9L314.2 205.6L318.8 206.1L320.7 202.0L320.9 199.3L320.1 197.1L316.8 194.7L318.6 191.6L318.2 188.1L319.1 185.7L315.3 183.7L315.1 180.2L311.6 179.0L308.1 175.9L307.7 176.4L305.3 178.8L300.3 176.8L297.1 174.9L297.2 172.7L293.7 174.9L289.6 179.3L286.6 180.9L285.9 185.1L285.9 185.9L286.8 186.7L288.8 189.5L288.4 194.0L290.6 198.1L294.9 201.6L295.9 204.5Z" fill="#2171b5"/>
<path d="M335.8 233.2L334.1 230.6L336.5 226.9L336.4 222.3L334.6 218.9L333.1 216.9L333.6 215.0L333.6 213.7L328.4 212.1L325.1 208.9L322.4 206.1L319.6 206.0L318.8 206.3L315.6 210.0L318.8 212.8L318.1 217.1L317.8 220.8L314.8 221.8L318.0 223.6L317.2 227.9L316.7 231.9L320.4 231.2L323.3 233.1L325.5 233.5L327.4 230.6L329.1 230.5L332.2 231.7L335.2 233.9Z" fill="#3e8ec4"/>
<path d="M282.5 70.5L284.4 73.8L288.2 73.8L290.7 74.6L292.4 78.5L292.4 82.3L295.7 81.4L298.0 77.4L299.7 76.5L301.9 72.8L305.2 71.1L304.2 69.7L300.7 66.9L300.5 63.9L301.3 61.0L299.8 57.8L296.6 54.2L293.7 54.6L290.9 54.3L287.9 54.9L285.5 58.3L284.2 59.8L284.9 60.8L284.8 63.1L281.4 66.7Z" fill="#89bedc"/>
<path d="M283.7 232.0L283.6 233.9L286.7 236.5L289.5 237.1L292.4 236.4L295.3 237.0L298.8 232.9L302.5 233.8L306.0 233.8L304.7 230.1L302.7 225.7L304.8 222.3L300.7 221.2L298.8 218.7L298.9 214.2L298.3 210.2L294.9 206.9L292.0 208.9L289.5 211.8L287.5 213.8L286.2 216.0L287.3 218.2L283.9 221.2L283.6 224.7L285.3 226.8L284.8 228.3Z" fill="#3e8ec4"/>
<path d="M278.8 155.9L281.0 158.4L285.1 158.1L286.8 156.9L289.1 159.0L293.1 162.2L293.8 163.3L297.4 161.8L299.7 158.0L301.0 154.2L302.8 152.7L305.2 149.3L302.1 147.1L299.6 146.6L301.2 144.7L299.1 141.1L297.4 137.6L294.8 134.3L298.2 133.0L297.8 131.5L294.1 127.8L290.3 126.9L285.4 126.1L282.7 126.5L281.6 127.9L278.2 124.6L277.6 126.9L272.8 129.3L270.4 133.8L271.2 137.6L270.3 137.6L271.9 141.1L273.2 144.0L272.4 145.1L275.5 146.6L275.5 149.6L278.6 153.0Z" fill="#2171b5"/>
<path d="M275.7 112.2L274.3 115.6L274.3 119.2L276.0 122.1L278.2 124.6L281.6 127.9L282.7 126.5L285.4 126.1L290.3 126.9L294.1 127.8L297.8 131.5L299.8 127.8L302.2 124.9L304.4 123.0L305.5 121.1L302.9 119.5L302.7 115.6L302.0 112.8L301.4 112.1L297.4 110.7L295.2 106.9L296.3 103.5L293.0 105.2L289.3 107.2L284.7 108.9L279.9 108.0L277.3 107.8L275.9 107.8L275.7 110.5Z" fill="#e2edf8"/>
<path d="M299.9 46.6L303.5 47.5L305.8 49.7L308.3 51.8L313.1 49.4L317.2 50.3L319.7 50.7L323.3 53.0L325.1 53.5L327.5 48.7L327.3 45.0L325.6 43.3L327.9 39.9L328.6 36.6L330.2 32.4L325.3 28.0L325.3 24.7L324.8 21.7L321.6 22.9L317.6 27.4L315.0 28.1L314.8 30.1L313.5 28.8L309.6 29.6L306.3 30.3L304.2 30.8L303.3 32.5L301.6 30.7L297.9 28.0L298.6 32.4L297.4 37.1L297.6 40.2L300.1 41.9L301.8 44.1Z" fill="#3e8ec4"/>
<path d="M284.2 59.8L285.5 58.3L287.9 54.9L290.9 54.3L293.7 54.6L296.6 54.2L298.9 48.6L299.9 46.6L301.8 44.1L300.1 41.9L297.6 40.2L297.4 37.1L298.6 32.4L297.9 28.0L293.0 28.9L289.5 29.1L287.0 31.9L285.4 33.0L283.2 33.2L281.7 30.9L277.5 29.2L275.9 32.0L273.4 35.6L276.2 38.0L275.4 40.5L273.5 44.8L272.1 47.9L271.2 49.4L276.6 52.6L278.2 54.6L282.2 56.3Z" fill="#2171b5"/>
<path d="M291.0 83.9L295.5 86.2L297.2 88.6L298.3 91.1L297.7 93.8L300.6 93.3L304.8 90.8L308.7 93.4L311.3 93.7L313.8 95.4L317.7 92.9L320.9 88.3L318.7 86.5L318.1 84.5L318.3 80.5L320.6 76.0L320.9 73.1L318.4 71.7L317.2 71.8L315.4 73.2L311.7 70.1L307.7 69.6L305.2 71.1L301.9 72.8L299.7 76.5L298.0 77.4L295.7 81.4L292.4 82.3Z" fill="#89bedc"/>
<path d="M297.8 131.5L298.2 133.0L294.8 134.3L297.4 137.6L299.1 141.1L301.2 144.7L299.6 146.6L302.1 147.1L305.2 149.3L307.3 152.4L309.6 152.7L312.2 152.4L314.7 151.7L317.4 148.9L320.7 150.1L322.4 146.3L322.9 142.2L322.7 140.7L322.4 136.8L326.7 132.9L323.2 131.5L321.2 131.5L317.6 129.6L314.8 128.0L312.3 127.9L308.2 125.4L305.5 121.1L304.4 123.0L302.2 124.9L299.8 127.8Z" fill="#2171b5"/>
<path d="M297.2 172.7L297.1 174.9L300.3 176.8L305.3 178.8L307.7 176.4L308.1 175.9L309.2 173.8L310.5 170.9L313.3 167.8L311.3 166.7L311.7 162.7L315.3 156.8L314.7 154.1L314.7 151.7L312.2 152.4L309.6 152.7L307.3 152.4L305.2 149.3L302.8 152.7L301.0 154.2L299.7 158.0L297.4 161.8L293.8 163.3L292.5 165.8L293.9 168.1L295.0 170.5Z" fill="#3e8ec4"/>
<path d="M305.2 71.1L307.7 69.6L311.7 70.1L315.4 73.2L317.2 71.8L318.4 71.7L320.5 68.3L322.0 65.2L324.1 62.8L322.5 58.6L321.7 54.3L323.3 53.0L319.7 50.7L317.2 50.3L313.1 49.4L308.3 51.8L305.8 49.7L303.5 47.5L299.9 46.6L298.9 48.6L296.6 54.2L299.8 57.8L301.3 61.0L300.5 63.9L300.7 66.9L304.2 69.7Z" fill="#60a6d2"/>
<path d="M296.3 103.5L295.2 106.9L297.4 110.7L301.4 112.1L302.0 112.8L302.7 115.6L302.9 119.5L305.6 118.7L310.9 116.7L314.8 114.2L314.9 111.8L317.0 108.7L321.0 106.2L324.2 102.5L323.1 99.2L320.5 96.0L320.5 94.1L317.7 92.9L313.8 95.4L311.3 93.7L308.7 93.4L304.8 90.8L300.6 93.3L297.7 93.8L296.7 96.1L298.4 98.9L296.7 100.0Z" fill="#2171b5"/>
<path d="M296.6 207.2L294.9 206.9L298.3 210.2L298.9 214.2L298.8 218.7L300.7 221.2L304.8 222.3L302.7 225.7L304.7 230.1L306.0 233.8L306.9 234.5L309.4 235.2L312.5 231.6L316.7 231.9L317.2 227.9L318.0 223.6L314.8 221.8L317.8 220.8L318.1 217.1L318.8 212.8L315.6 210.0L318.8 206.3L318.8 206.1L314.2 205.6L309.9 205.9L307.4 204.0L305.7 202.1L302.8 204.3L299.6 205.4Z" fill="#3e8ec4"/>
<path d="M305.5 121.1L308.2 125.4L312.3 127.9L314.8 128.0L317.6 129.6L321.2 131.5L323.2 131.5L326.7 132.9L326.8 133.0L326.1 131.6L325.9 130.4L323.3 127.0L325.6 122.6L326.5 119.6L326.2 117.7L324.1 114.6L324.4 109.3L326.7 104.2L324.2 102.5L321.0 106.2L317.0 108.7L314.9 111.8L314.8 114.2L310.9 116.7L305.6 118.7L302.9 119.5Z" fill="#2171b5"/>
<path d="M308.1 175.9L311.6 179.0L315.1 180.2L318.8 179.9L322.8 177.0L326.0 174.7L328.8 174.3L327.2 170.6L326.3 168.4L324.8 167.1L326.9 164.9L327.9 161.2L326.1 157.1L323.6 156.6L320.2 154.2L320.7 150.1L317.4 148.9L314.7 151.7L314.7 154.1L315.3 156.8L311.7 162.7L311.3 166.7L313.3 167.8L310.5 170.9L309.2 173.8Z" fill="#2171b5"/>
<path d="M317.7 92.9L320.5 94.1L320.5 96.0L324.0 95.8L327.3 95.7L330.5 93.5L333.8 90.1L337.1 90.1L337.2 87.1L339.1 84.0L335.7 80.8L335.2 76.8L334.8 73.0L333.8 72.5L332.0 73.2L326.9 72.9L322.3 69.1L320.5 68.3L318.4 71.7L320.9 73.1L320.6 76.0L318.3 80.5L318.1 84.5L318.7 86.5L320.9 88.3Z" fill="#0a549e"/>
<path d="M320.9 199.3L322.4 201.3L324.4 198.7L327.2 197.1L330.3 192.6L333.4 192.8L336.0 191.3L332.9 186.6L335.8 183.1L334.4 181.9L333.5 180.6L329.4 178.4L327.9 175.8L328.8 174.3L326.0 174.7L322.8 177.0L318.8 179.9L315.1 180.2L315.3 183.7L319.1 185.7L318.2 188.1L318.6 191.6L316.8 194.7L320.1 197.1Z" fill="#3e8ec4"/>
<path d="M320.7 150.1L320.2 154.2L323.6 156.6L326.1 157.1L330.0 155.5L334.0 155.6L337.4 157.3L340.5 158.3L343.6 155.7L347.0 155.8L347.5 151.8L343.9 148.9L345.6 147.6L345.9 146.0L347.5 142.9L344.5 138.9L342.3 136.9L340.8 133.8L336.8 134.1L332.4 135.3L331.3 134.1L329.2 135.4L326.8 133.0L326.7 132.9L322.4 136.8L322.7 140.7L322.9 142.2L322.4 146.3Z" fill="#60a6d2"/>
<path d="M326.8 133.0L329.2 135.4L331.3 134.1L334.1 131.1L335.2 125.8L337.7 124.9L338.3 124.2L336.8 120.3L339.2 118.7L343.1 115.6L341.1 114.6L342.2 109.3L340.9 106.2L341.3 103.3L345.6 99.2L344.2 97.8L344.4 95.8L342.4 94.5L339.6 92.7L338.0 90.9L337.1 90.1L333.8 90.1L330.5 93.5L327.3 95.7L324.0 95.8L320.5 96.0L323.1 99.2L324.2 102.5L326.7 104.2L324.4 109.3L324.1 114.6L326.2 117.7L326.5 119.6L325.6 122.6L323.3 127.0L325.9 130.4L326.1 131.6Z" fill="#e2edf8"/>
<path d="M336.0 191.3L333.4 192.8L330.3 192.6L327.2 197.1L324.4 198.7L322.4 201.3L320.9 199.3L320.7 202.0L318.8 206.1L318.8 206.3L319.6 206.0L322.4 206.1L325.1 208.9L328.4 212.1L333.6 213.7L333.6 215.0L337.6 212.5L341.8 208.4L344.1 208.2L344.0 207.5L342.9 205.0L344.3 202.0L343.7 198.8L345.1 195.8L346.0 191.6L347.5 192.1L351.6 190.3L355.3 191.2L357.5 188.2L359.7 187.6L358.3 185.5L356.5 181.7L354.1 178.6L353.4 176.3L349.4 176.8L346.9 177.3L344.7 174.3L341.0 173.7L338.8 175.2L336.4 177.5L333.5 180.6L334.4 181.9L335.8 183.1L332.9 186.6Z" fill="#60a6d2"/>
<path d="M364.0 186.3L359.7 187.6L357.5 188.2L355.3 191.2L351.6 190.3L347.5 192.1L346.0 191.6L345.1 195.8L343.7 198.8L344.3 202.0L342.9 205.0L344.0 207.5L344.1 208.2L341.8 208.4L337.6 212.5L333.6 215.0L333.1 216.9L334.6 218.9L336.4 222.3L336.5 226.9L334.1 230.6L335.8 233.2L337.9 231.8L340.5 228.9L344.2 226.2L346.2 223.0L347.3 220.9L351.6 217.8L355.6 216.1L357.0 213.4L355.3 211.4L358.1 209.8L361.0 210.2L363.5 204.8L363.0 200.9L365.8 198.3L363.2 196.4L362.5 193.7L360.8 190.0Z" fill="#3e8ec4"/>
<path d="M320.5 68.3L322.3 69.1L326.9 72.9L332.0 73.2L333.8 72.5L334.8 73.0L337.9 70.3L341.4 71.4L343.0 67.3L340.0 63.1L340.6 60.5L342.6 59.6L343.2 58.0L341.6 55.4L337.8 52.6L332.6 52.9L329.5 52.0L327.8 52.3L325.1 53.5L323.3 53.0L321.7 54.3L322.5 58.6L324.1 62.8L322.0 65.2Z" fill="#60a6d2"/>
<path d="M344.7 174.3L345.7 172.4L346.6 167.6L343.5 162.2L346.8 159.2L347.3 155.9L347.0 155.8L343.6 155.7L340.5 158.3L337.4 157.3L334.0 155.6L330.0 155.5L326.1 157.1L327.9 161.2L326.9 164.9L324.8 167.1L326.3 168.4L327.2 170.6L328.8 174.3L327.9 175.8L329.4 178.4L333.5 180.6L336.4 177.5L338.8 175.2L341.0 173.7Z" fill="#60a6d2"/>
<path d="M334.8 73.0L335.2 76.8L335.7 80.8L339.1 84.0L337.2 87.1L337.1 90.1L338.0 90.9L339.6 92.7L344.2 88.3L348.0 83.7L346.2 81.9L348.8 78.7L354.1 77.4L354.0 73.0L350.7 72.3L349.4 72.8L345.8 72.7L341.4 71.4L337.9 70.3Z" fill="#60a6d2"/>
<path d="M343.1 115.6L346.6 113.7L348.9 114.3L352.2 115.1L351.4 114.8L352.2 111.6L354.3 106.6L355.6 103.4L356.9 101.7L352.2 99.1L351.6 96.5L349.0 93.6L346.0 93.6L344.4 95.8L344.2 97.8L345.6 99.2L341.3 103.3L340.9 106.2L342.2 109.3L341.1 114.6Z" fill="#3e8ec4"/>
<path d="M331.3 134.1L332.4 135.3L336.8 134.1L340.8 133.8L342.3 136.9L344.5 138.9L345.9 137.4L350.1 135.2L354.1 131.5L356.9 132.7L359.6 131.4L357.1 128.3L354.4 125.2L355.3 122.2L354.6 119.3L352.2 115.1L348.9 114.3L346.6 113.7L343.1 115.6L339.2 118.7L336.8 120.3L338.3 124.2L337.7 124.9L335.2 125.8L334.1 131.1Z" fill="#3e8ec4"/>
<path d="M341.4 71.4L345.8 72.7L349.4 72.8L350.7 72.3L354.0 73.0L357.1 75.7L360.6 74.2L359.6 72.3L360.0 70.9L360.6 67.4L360.2 63.7L357.9 60.6L354.7 58.0L353.9 55.4L354.7 52.6L354.6 52.6L350.0 50.3L346.2 52.7L344.9 54.7L343.2 58.0L342.6 59.6L340.6 60.5L340.0 63.1L343.0 67.3Z" fill="#cde0f1"/>
<path d="M343.2 58.0L344.9 54.7L346.2 52.7L350.0 50.3L354.6 52.6L352.7 49.5L351.1 45.6L347.4 41.3L345.9 38.7L343.8 39.0L340.1 40.1L336.9 36.7L334.4 35.1L331.2 37.3L328.6 36.6L327.9 39.9L325.6 43.3L327.3 45.0L327.5 48.7L325.1 53.5L327.8 52.3L329.5 52.0L332.6 52.9L337.8 52.6L341.6 55.4Z" fill="#60a6d2"/>
<path d="M344.7 174.3L346.9 177.3L349.4 176.8L353.4 176.3L354.1 178.6L356.5 181.7L358.6 177.5L362.8 176.6L363.2 172.4L364.2 168.4L365.1 164.3L362.0 161.7L364.4 159.1L362.3 156.2L358.8 156.7L356.2 157.5L353.6 159.3L350.5 156.1L347.3 155.9L346.8 159.2L343.5 162.2L346.6 167.6L345.7 172.4Z" fill="#3e8ec4"/>
<path d="M347.3 155.9L350.5 156.1L353.6 159.3L356.2 157.5L358.8 156.7L362.3 156.2L364.0 153.4L365.5 152.8L365.2 149.2L365.5 146.8L367.5 143.5L366.8 141.9L365.6 139.9L362.1 136.9L364.4 133.2L362.0 133.0L359.6 131.4L356.9 132.7L354.1 131.5L350.1 135.2L345.9 137.4L344.5 138.9L347.5 142.9L345.9 146.0L345.6 147.6L343.9 148.9L347.5 151.8L347.0 155.8Z" fill="#60a6d2"/>
<path d="M344.4 95.8L346.0 93.6L349.0 93.6L353.5 91.8L357.2 91.7L359.6 88.7L361.1 84.4L362.3 83.0L360.6 79.8L361.5 77.0L361.2 75.5L360.6 74.2L357.1 75.7L354.0 73.0L354.1 77.4L348.8 78.7L346.2 81.9L348.0 83.7L344.2 88.3L339.6 92.7L342.4 94.5Z" fill="#60a6d2"/>
<path d="M360.6 74.2L361.2 75.5L361.5 77.0L360.6 79.8L362.3 83.0L367.7 85.3L367.7 88.6L370.3 91.9L371.4 93.5L376.0 93.9L377.9 91.6L381.8 89.7L384.3 89.7L384.6 88.3L386.3 83.7L387.5 82.3L387.8 81.2L387.5 79.9L385.9 76.5L383.7 71.3L380.9 68.7L378.3 67.7L375.9 65.6L374.3 65.1L372.1 65.7L369.7 63.9L366.7 66.7L363.3 67.5L360.0 70.9L359.6 72.3Z" fill="#cde0f1"/>
<path d="M354.6 52.6L354.7 52.6L358.0 49.2L360.7 47.6L363.3 43.8L366.0 44.5L368.5 43.3L370.9 43.4L372.9 41.2L370.4 38.3L369.9 34.4L367.5 31.6L366.6 32.4L366.0 32.3L361.1 31.4L356.5 30.2L354.6 27.1L351.2 26.5L351.8 31.3L350.2 32.7L347.8 36.1L345.9 38.7L347.4 41.3L351.1 45.6L352.7 49.5Z" fill="#3e8ec4"/>
<path d="M349.0 93.6L351.6 96.5L352.2 99.1L356.9 101.7L360.0 101.0L363.4 103.3L366.4 100.5L368.8 99.3L371.7 97.6L375.3 100.0L376.3 98.2L376.0 93.9L371.4 93.5L370.3 91.9L367.7 88.6L367.7 85.3L362.3 83.0L361.1 84.4L359.6 88.7L357.2 91.7L353.5 91.8Z" fill="#60a6d2"/>
<path d="M356.5 181.7L358.3 185.5L359.7 187.6L364.0 186.3L365.7 186.8L367.6 187.7L370.6 188.5L375.1 185.6L380.9 184.9L385.0 184.7L387.3 187.1L389.8 185.2L390.2 184.6L386.9 182.8L385.6 179.0L385.2 176.1L383.6 174.5L383.1 172.8L380.2 170.4L378.7 169.4L375.3 169.8L371.5 168.3L369.2 164.7L365.1 164.3L364.2 168.4L363.2 172.4L362.8 176.6L358.6 177.5Z" fill="#60a6d2"/>
<path d="M352.2 115.1L354.6 119.3L355.3 122.2L354.4 125.2L357.1 128.3L359.6 131.4L362.0 133.0L364.4 133.2L366.3 128.5L368.4 129.4L370.9 128.4L373.7 127.6L374.7 123.8L372.6 119.2L372.4 115.8L375.6 114.5L375.4 113.2L375.9 109.9L375.8 108.9L372.8 105.2L375.5 102.1L375.3 100.0L371.7 97.6L368.8 99.3L366.4 100.5L363.4 103.3L360.0 101.0L356.9 101.7L355.6 103.4L354.3 106.6L352.2 111.6L351.4 114.8Z" fill="#60a6d2"/>
<path d="M354.7 52.6L353.9 55.4L354.7 58.0L357.9 60.6L360.2 63.7L360.6 67.4L360.0 70.9L363.3 67.5L366.7 66.7L369.7 63.9L372.1 65.7L374.3 65.1L376.9 61.8L377.6 58.9L377.9 54.1L375.2 48.8L377.6 45.4L378.6 43.1L376.5 40.4L372.9 41.2L370.9 43.4L368.5 43.3L366.0 44.5L363.3 43.8L360.7 47.6L358.0 49.2Z" fill="#cde0f1"/>
<path d="M369.9 34.4L370.4 38.3L372.9 41.2L376.5 40.4L378.6 43.1L381.5 43.7L383.4 44.3L385.6 44.6L388.1 41.2L390.3 40.4L392.2 37.6L393.7 35.5L394.7 34.3L391.5 32.7L388.6 29.1L386.5 25.4L386.9 22.4L385.6 19.9L385.6 18.1L385.3 17.3L383.4 15.4L381.0 14.1L379.8 13.6L379.1 13.2L377.8 11.8L375.0 14.1L371.4 15.1L367.9 13.3L369.9 16.4L366.4 19.3L368.2 22.5L369.0 25.2L370.8 27.8L367.5 31.6Z" fill="#cde0f1"/>
<path d="M380.2 170.4L383.1 172.8L383.6 174.5L385.2 176.1L385.6 179.0L386.9 182.8L390.2 184.6L392.5 183.8L394.7 180.2L398.7 179.1L402.6 177.5L405.6 179.5L407.7 177.7L409.0 175.7L411.6 171.4L414.0 167.5L414.7 168.0L412.9 165.4L415.4 161.8L415.8 158.6L415.6 157.0L416.8 152.5L415.7 152.2L413.3 150.3L410.1 148.3L408.3 148.2L405.4 150.0L400.8 151.4L395.9 150.6L392.6 148.9L390.8 149.9L390.7 149.6L389.0 149.6L385.8 152.1L381.1 148.9L377.7 147.6L376.0 149.0L373.5 149.0L369.4 150.0L365.5 146.8L365.2 149.2L365.5 152.8L364.0 153.4L362.3 156.2L364.4 159.1L362.0 161.7L365.1 164.3L369.2 164.7L371.5 168.3L375.3 169.8L378.7 169.4Z" fill="#60a6d2"/>
<path d="M375.8 108.9L377.1 108.6L379.3 109.2L383.4 110.2L385.5 113.3L387.8 113.7L393.1 111.6L397.3 114.4L399.6 113.3L401.1 110.7L395.4 106.3L395.6 105.9L393.8 105.6L390.7 102.7L386.2 98.6L385.1 94.7L382.8 91.8L381.8 89.7L377.9 91.6L376.0 93.9L376.3 98.2L375.3 100.0L375.5 102.1L372.8 105.2Z" fill="#afd1e7"/>
<path d="M365.5 146.8L369.4 150.0L373.5 149.0L376.0 149.0L377.7 147.6L381.1 148.9L385.8 152.1L389.0 149.6L389.0 146.9L389.0 144.2L386.5 140.5L389.4 136.7L390.4 134.5L390.8 133.0L387.7 130.2L383.3 129.3L381.2 126.2L378.5 126.6L373.7 127.6L370.9 128.4L368.4 129.4L366.3 128.5L364.4 133.2L362.1 136.9L365.6 139.9L366.8 141.9L367.5 143.5Z" fill="#89bedc"/>
<path d="M375.9 109.9L375.4 113.2L375.6 114.5L372.4 115.8L372.6 119.2L374.7 123.8L373.7 127.6L378.5 126.6L381.2 126.2L383.3 129.3L387.7 130.2L390.8 133.0L392.2 131.0L393.7 127.3L392.1 124.3L392.1 123.2L395.2 120.4L395.7 116.8L397.3 114.4L393.1 111.6L387.8 113.7L385.5 113.3L383.4 110.2L379.3 109.2L377.1 108.6L375.8 108.9Z" fill="#afd1e7"/>
<path d="M389.0 149.6L390.7 149.6L390.8 149.9L392.6 148.9L395.9 150.6L400.8 151.4L405.4 150.0L408.3 148.2L410.1 148.3L413.3 150.3L416.2 144.3L414.8 139.9L413.3 137.3L411.7 134.5L409.7 133.4L405.5 135.0L402.5 134.4L401.2 131.2L399.0 130.4L396.4 128.4L393.7 127.3L392.2 131.0L390.8 133.0L390.4 134.5L389.4 136.7L386.5 140.5L389.0 144.2L389.0 146.9Z" fill="#89bedc"/>
<path d="M375.9 65.6L378.3 67.7L380.9 68.7L383.7 71.3L385.9 76.5L387.5 79.9L387.8 81.2L390.8 76.7L394.1 75.5L397.6 71.8L400.4 71.1L402.1 67.7L403.0 67.7L404.3 65.1L404.5 64.1L401.6 62.0L399.7 59.5L398.9 56.3L394.1 53.6L393.7 50.9L392.7 48.3L393.7 45.6L389.2 42.9L388.1 41.2L385.6 44.6L383.4 44.3L381.5 43.7L378.6 43.1L377.6 45.4L375.2 48.8L377.9 54.1L377.6 58.9L376.9 61.8L374.3 65.1Z" fill="#e2edf8"/>
<path d="M385.6 19.9L386.9 22.4L386.5 25.4L388.6 29.1L391.5 32.7L394.7 34.3L393.7 35.5L394.0 35.7L396.9 33.6L398.9 29.2L397.5 26.6L398.5 23.4L398.0 19.5L401.8 19.4L403.3 16.0L400.3 16.2L397.8 14.3L395.5 12.0L392.9 10.9L390.1 11.1L386.9 12.2L383.4 15.4L385.3 17.3L385.6 18.1Z" fill="#cde0f1"/>
<path d="M388.1 41.2L389.2 42.9L393.7 45.6L392.7 48.3L393.7 50.9L394.1 53.6L398.9 56.3L399.7 59.5L401.6 62.0L404.5 64.1L407.4 63.2L410.3 57.6L411.6 54.7L412.5 53.8L415.4 51.7L417.9 48.8L418.9 43.5L418.1 41.7L415.2 41.9L413.1 43.2L413.2 41.6L411.9 40.3L408.9 37.1L404.7 39.8L401.4 39.1L397.7 38.1L394.0 35.7L393.7 35.5L392.2 37.6L390.3 40.4Z" fill="#cde0f1"/>
<path d="M401.1 110.7L402.9 111.8L399.5 107.0L400.4 102.2L401.6 97.9L401.1 94.8L398.5 93.3L398.9 91.8L397.4 88.0L395.3 85.9L389.3 85.2L386.3 83.7L384.6 88.3L384.3 89.7L381.8 89.7L382.8 91.8L385.1 94.7L386.2 98.6L390.7 102.7L393.8 105.6L395.6 105.9L395.4 106.3Z" fill="#afd1e7"/>
<path d="M397.3 114.4L395.7 116.8L395.2 120.4L392.1 123.2L392.1 124.3L393.7 127.3L396.4 128.4L399.0 130.4L401.2 131.2L402.5 134.4L405.5 135.0L409.7 133.4L411.7 134.5L415.9 132.0L417.8 130.7L417.0 130.8L417.5 126.3L417.5 122.5L417.7 119.4L416.4 120.1L412.4 119.1L411.4 114.7L408.6 111.4L406.2 112.2L404.7 112.5L402.9 111.8L401.1 110.7L399.6 113.3Z" fill="#cde0f1"/>
<path d="M418.9 43.5L417.9 48.8L415.4 51.7L412.5 53.8L411.6 54.7L410.3 57.6L407.4 63.2L404.5 64.1L404.3 65.1L403.0 67.7L402.1 67.7L400.4 71.1L397.6 71.8L394.1 75.5L390.8 76.7L387.8 81.2L387.5 82.3L386.3 83.7L389.3 85.2L395.3 85.9L397.4 88.0L398.9 91.8L401.7 89.8L405.0 88.2L408.7 86.8L412.8 87.6L415.8 89.1L417.1 86.4L417.0 84.2L416.3 82.0L418.7 78.8L422.9 76.7L426.2 74.8L429.3 74.7L432.4 73.7L435.4 73.7L438.5 71.4L441.5 69.9L441.6 69.9L442.8 68.1L443.3 65.3L445.2 67.1L446.9 68.7L450.9 69.8L455.1 69.0L457.6 67.3L461.0 71.0L466.6 71.2L470.8 71.4L472.9 69.8L473.4 69.2L475.3 66.6L473.6 65.5L473.7 62.2L474.3 59.1L473.6 56.2L473.9 53.6L469.5 52.1L466.9 50.2L463.3 47.6L465.5 44.9L460.8 43.2L459.0 40.8L456.0 37.6L455.6 36.5L452.1 36.1L447.7 36.5L444.0 35.3L441.3 32.5L438.5 35.8L435.9 36.5L432.8 40.4L429.9 40.0L427.0 42.1L424.2 40.9L421.6 41.9L418.1 41.7Z" fill="#cde0f1"/>
<path d="M442.3 126.4L438.2 126.4L435.8 126.4L433.7 129.2L429.4 126.9L424.1 126.2L420.0 124.9L417.5 126.3L417.0 130.8L417.8 130.7L415.9 132.0L411.7 134.5L413.3 137.3L414.8 139.9L416.2 144.3L413.3 150.3L415.7 152.2L416.8 152.5L418.1 151.3L420.9 151.2L423.4 149.3L425.5 150.7L427.5 151.1L430.1 150.1L432.9 149.9L435.6 146.3L438.1 146.2L441.0 142.9L445.8 140.6L446.8 139.3L444.2 136.0L445.2 133.7L447.6 133.1L444.5 130.2L444.3 128.0Z" fill="#afd1e7"/>
<path d="M417.5 126.3L420.0 124.9L424.1 126.2L429.4 126.9L433.7 129.2L435.8 126.4L438.2 126.4L442.3 126.4L441.8 123.7L440.3 121.3L438.2 118.7L440.3 115.4L440.2 111.6L440.8 108.6L435.3 110.0L431.3 107.1L429.4 105.6L426.7 104.2L425.4 107.0L422.6 110.2L419.7 111.0L420.2 114.6L421.2 117.3L417.7 119.4L417.5 122.5Z" fill="#afd1e7"/>
<path d="M398.9 91.8L398.5 93.3L401.1 94.8L401.6 97.9L400.4 102.2L399.5 107.0L402.9 111.8L404.7 112.5L405.4 108.7L405.7 107.8L409.1 103.1L414.5 101.1L416.1 96.9L416.9 98.0L419.9 95.2L420.8 92.2L419.4 89.2L417.1 86.4L415.8 89.1L412.8 87.6L408.7 86.8L405.0 88.2L401.7 89.8Z" fill="#afd1e7"/>
<path d="M394.0 35.7L397.7 38.1L401.4 39.1L404.7 39.8L408.9 37.1L411.9 40.3L413.2 41.6L415.4 38.3L416.3 36.1L418.3 33.1L418.5 28.9L418.1 28.2L417.9 24.7L416.1 21.4L414.1 18.8L413.6 17.1L409.7 16.8L407.5 15.6L406.8 14.4L403.3 16.0L401.8 19.4L398.0 19.5L398.5 23.4L397.5 26.6L398.9 29.2L396.9 33.6Z" fill="#e2edf8"/>
<path d="M419.9 95.2L420.4 95.4L421.0 98.1L422.2 100.7L426.6 102.8L426.7 104.2L429.4 105.6L431.3 107.1L435.3 110.0L440.8 108.6L440.4 105.4L442.5 103.0L447.8 100.7L447.7 98.6L444.5 96.6L445.1 94.5L444.3 91.8L443.9 91.3L446.1 88.0L443.8 84.8L443.2 81.5L439.5 77.7L440.8 73.5L440.1 71.0L441.6 69.9L441.5 69.9L438.5 71.4L435.4 73.7L432.4 73.7L429.3 74.7L426.2 74.8L422.9 76.7L418.7 78.8L416.3 82.0L417.0 84.2L417.1 86.4L419.4 89.2L420.8 92.2Z" fill="#cde0f1"/>
<path d="M426.7 104.2L426.6 102.8L422.2 100.7L421.0 98.1L420.4 95.4L419.9 95.2L416.9 98.0L416.1 96.9L414.5 101.1L409.1 103.1L405.7 107.8L405.4 108.7L404.7 112.5L406.2 112.2L408.6 111.4L411.4 114.7L412.4 119.1L416.4 120.1L417.7 119.4L421.2 117.3L420.2 114.6L419.7 111.0L422.6 110.2L425.4 107.0Z" fill="#89bedc"/>
<path d="M457.2 105.4L458.0 107.7L456.5 112.0L461.0 116.0L461.5 118.2L462.0 120.0L460.9 122.5L463.2 121.7L465.7 118.6L468.2 118.4L470.6 117.7L473.3 115.4L475.5 114.0L476.8 109.3L477.5 107.8L477.5 104.5L480.1 101.1L478.2 98.0L477.4 95.6L475.9 94.0L472.8 92.7L472.2 93.2L471.2 95.6L469.3 100.0L466.7 100.2L463.6 101.5L460.4 101.7Z" fill="#60a6d2"/>
<path d="M441.6 69.9L440.1 71.0L440.8 73.5L439.5 77.7L443.2 81.5L443.8 84.8L446.1 88.0L443.9 91.3L444.3 91.8L449.2 90.8L452.7 88.0L455.5 87.5L458.8 89.1L462.6 87.9L466.2 86.1L469.0 83.7L471.6 85.8L471.1 83.0L468.4 79.6L468.0 76.1L468.5 74.0L469.6 72.9L472.9 69.8L470.8 71.4L466.6 71.2L461.0 71.0L457.6 67.3L455.1 69.0L450.9 69.8L446.9 68.7L445.2 67.1L443.3 65.3L442.8 68.1Z" fill="#e2edf8"/>
<path d="M442.3 126.4L444.3 128.0L444.5 130.2L447.6 133.1L448.1 132.5L450.1 129.0L451.5 127.4L453.8 125.4L456.0 127.1L458.4 126.0L460.9 122.5L462.0 120.0L461.5 118.2L461.0 116.0L456.5 112.0L458.0 107.7L457.2 105.4L456.1 104.9L453.6 105.0L449.9 104.1L447.8 100.7L442.5 103.0L440.4 105.4L440.8 108.6L440.2 111.6L440.3 115.4L438.2 118.7L440.3 121.3L441.8 123.7Z" fill="#60a6d2"/>
<path d="M444.3 91.8L445.1 94.5L444.5 96.6L447.7 98.6L447.8 100.7L449.9 104.1L453.6 105.0L456.1 104.9L457.2 105.4L460.4 101.7L463.6 101.5L466.7 100.2L469.3 100.0L471.2 95.6L472.2 93.2L472.8 92.7L472.2 91.3L471.2 89.7L469.7 87.7L471.6 85.8L469.0 83.7L466.2 86.1L462.6 87.9L458.8 89.1L455.5 87.5L452.7 88.0L449.2 90.8Z" fill="#89bedc"/>
</g>
<path class="ol" d="M32.7 220.0L34.6 216.8L35.4 214.5L37.1 211.2L36.8 206.5L36.3 203.2L37.8 201.3L39.0 198.7L41.2 196.2L42.1 193.8L41.4 190.2L42.8 187.3L43.7 184.4L45.0 180.0L43.5 175.9L44.7 173.6L44.7 171.1L44.6 168.6L43.4 165.6L41.5 162.3L44.5 158.5L48.0 156.1L49.2 153.4L50.1 152.0L53.7 148.9L57.1 147.5L58.4 144.3L58.5 142.3L60.4 139.3L61.8 136.7L63.6 134.4L66.3 129.5L66.5 126.8L66.7 125.3L67.7 122.3L67.8 120.0L69.9 117.7L72.1 114.0L69.6 110.1L67.5 106.8L66.0 104.8L66.7 102.6L64.0 99.9L62.8 97.0L61.5 93.9L62.4 90.7L60.3 87.3L59.6 84.4L58.1 82.0L59.3 79.9L58.7 77.9L57.9 75.1L56.8 71.1L56.3 67.2L57.9 64.1L57.1 61.5L58.0 59.8L57.5 56.8L59.2 53.4L61.6 49.9L62.7 46.4L64.1 45.1L66.1 43.3L68.9 41.8L71.4 41.4L73.6 39.0L75.3 38.2L77.2 35.4L80.1 34.2L83.5 31.8L86.8 33.7L88.4 37.4L91.4 38.9L92.9 38.4L94.6 39.9L98.7 43.0L101.8 44.4L103.8 43.5L106.4 44.0L108.9 45.5L110.8 46.3L114.3 47.4L117.9 46.4L121.0 45.1L124.0 45.6L127.0 45.8L130.0 47.0L132.9 45.3L135.6 44.9L138.5 44.6L141.9 45.3L145.3 46.3L148.6 44.2L150.8 43.5L152.7 42.0L155.3 43.3L158.3 42.4L161.6 42.3L165.2 39.7L169.0 39.3L172.5 38.4L175.5 39.1L178.1 38.7L180.8 37.9L184.3 36.5L187.9 36.2L190.6 38.4L193.3 38.7L195.1 38.7L196.7 39.1L200.2 38.0L204.0 39.5L207.6 39.2L210.5 38.7L212.9 37.4L215.0 34.9L217.2 33.7L218.4 30.8L219.5 28.7L221.8 28.1L224.5 26.9L227.3 27.0L229.9 24.0L232.2 23.2L234.8 22.1L237.2 22.3L239.5 23.0L242.4 21.5L246.5 21.4L251.4 20.7L253.3 23.5L255.4 26.3L257.9 27.7L260.2 26.3L262.5 25.7L265.2 24.2L269.4 26.7L273.2 29.3L275.1 29.4L278.1 29.8L281.1 31.4L282.9 33.1L285.4 32.5L287.6 31.4L290.3 29.2L294.1 29.0L298.9 29.2L302.2 31.5L304.2 30.7L306.5 30.4L309.5 30.0L312.8 29.5L314.6 29.7L315.8 27.8L318.4 26.8L321.7 23.4L324.7 22.2L327.4 21.9L329.9 21.0L332.4 19.5L334.4 17.1L336.7 17.7L339.4 17.6L342.4 17.3L345.4 16.3L347.7 13.9L349.5 14.6L351.8 14.4L355.4 14.6L358.6 13.2L361.7 12.1L365.2 13.0L368.9 13.5L372.8 14.4L376.4 12.7L378.8 13.5L380.7 13.6L383.6 14.6L387.5 12.5L390.5 11.6L393.4 11.1L395.7 12.2L397.9 13.9L400.7 15.4L403.7 15.2L406.1 14.8L407.4 16.0L409.7 17.1L413.0 17.7L414.1 19.5L416.1 21.9L418.0 24.6L418.8 27.5L418.5 29.2L417.9 32.9L416.2 35.9L415.1 38.8L413.8 42.5L416.4 41.8L419.5 42.2L422.0 42.3L424.6 41.3L427.3 41.5L430.1 39.8L432.9 39.5L435.9 36.8L438.7 35.8L441.6 33.4L444.4 35.2L447.8 36.0L451.7 35.9L454.9 36.7L456.3 38.0L459.3 40.5L461.1 43.1L464.6 45.3L464.0 48.1L467.1 50.5L469.5 52.4L473.1 54.2L473.5 56.9L474.3 59.8L474.5 62.9L474.0 65.8L474.5 67.4L472.8 69.9L470.2 72.9L469.0 74.6L468.3 76.9L469.0 80.7L471.2 84.3L470.0 87.4L471.9 89.6L472.8 91.6L475.1 93.5L477.4 95.6L478.0 98.1L479.3 101.1L477.8 104.2L477.8 107.3L476.7 109.3L475.2 113.2L473.2 115.2L470.8 117.4L468.5 118.5L466.2 119.4L463.9 122.0L460.7 123.6L457.6 126.6L454.7 126.0L452.1 127.6L450.2 129.0L447.8 131.6L447.0 133.3L444.9 135.7L446.3 139.6L445.0 141.3L441.4 143.6L439.0 146.5L436.4 146.9L433.7 149.3L431.0 149.7L428.4 150.6L426.1 150.6L423.8 150.0L421.2 151.5L418.5 151.8L416.6 154.4L415.8 157.0L415.3 158.4L415.1 161.5L413.7 164.8L414.8 167.6L413.7 168.3L411.6 171.6L409.3 175.2L407.8 177.4L405.3 178.9L402.1 178.1L398.5 179.4L394.8 180.5L392.2 183.5L389.6 185.4L387.3 188.1L386.1 190.2L384.0 194.0L381.7 196.1L381.9 198.4L381.6 201.0L378.8 203.1L378.9 206.4L379.1 210.7L379.9 213.7L380.5 216.1L379.7 218.1L380.9 220.3L379.4 221.5L377.7 224.2L374.8 225.3L371.9 228.2L368.8 229.3L366.2 229.8L364.0 229.9L361.9 229.1L359.5 231.0L356.7 232.0L353.5 234.2L349.9 233.4L346.8 234.1L345.0 235.2L342.9 237.4L339.6 237.0L335.8 234.6L333.7 232.9L331.4 231.7L329.5 230.7L327.3 230.9L325.1 232.7L322.7 232.6L319.9 231.7L316.3 232.2L312.7 232.2L309.8 234.5L307.2 234.2L304.4 233.8L301.5 233.7L298.5 233.9L295.7 236.2L292.9 236.3L290.1 237.1L287.3 237.1L285.1 240.2L283.8 242.4L281.5 243.4L279.3 245.8L278.3 247.4L277.1 250.8L274.7 253.3L272.2 255.0L270.2 258.0L268.2 259.1L265.9 261.8L264.1 264.4L264.1 266.7L263.3 270.2L262.6 272.8L262.0 274.7L261.2 277.5L263.2 281.6L262.0 285.4L261.5 288.0L259.1 291.4L259.0 294.5L258.7 296.2L257.1 299.7L255.7 302.5L253.3 305.1L252.2 309.2L253.7 312.7L252.8 314.8L251.1 316.8L250.6 319.6L251.3 322.1L254.2 324.8L255.5 327.7L258.7 328.7L261.4 329.6L262.4 331.3L260.1 331.9L257.8 333.3L255.6 335.4L255.0 337.0L254.1 340.5L251.7 342.7L248.9 345.4L247.6 347.9L246.3 347.4L243.8 350.3L240.3 352.3L236.9 354.2L234.1 355.3L233.8 359.2L232.5 362.2L231.4 365.2L230.7 368.6L228.3 370.4L226.8 373.6L226.1 377.0L225.1 379.1L227.7 381.9L227.0 385.0L227.5 388.5L228.0 392.1L225.8 394.8L224.2 394.9L223.0 396.8L221.1 397.5L217.6 399.3L213.9 400.8L211.2 401.6L209.1 402.6L206.7 401.6L203.4 402.6L199.9 402.8L196.5 405.1L193.4 405.2L190.6 405.6L187.7 404.0L184.0 403.6L181.2 405.2L179.5 403.8L177.1 403.0L174.5 403.3L171.6 404.9L168.7 406.5L165.6 408.5L162.1 409.2L158.5 408.1L155.5 408.4L153.0 407.8L151.4 407.2L148.1 406.2L146.2 403.2L143.3 400.4L140.1 399.4L138.2 398.9L135.4 397.5L134.6 394.9L132.1 393.7L128.6 395.2L124.9 395.5L121.6 396.7L118.9 394.9L116.0 394.8L112.3 395.0L108.1 395.9L104.4 395.2L102.5 396.1L100.9 398.8L98.8 400.0L96.3 403.7L95.6 405.9L94.7 409.2L92.2 411.9L89.3 414.1L86.2 417.2L84.3 419.1L83.4 421.0L80.5 419.5L76.9 420.9L73.5 421.5L70.7 422.6L69.2 421.4L65.8 418.8L61.4 417.6L59.3 417.5L57.5 416.7L53.8 418.1L50.5 417.9L48.0 417.3L45.5 418.5L42.4 419.6L40.4 419.0L35.7 416.4L32.7 413.2L31.1 412.4L30.7 409.8L30.0 407.4L27.8 404.4L29.0 401.0L30.9 399.7L32.7 396.9L35.2 395.3L37.7 391.2L38.4 388.3L38.7 387.2L40.4 384.6L42.6 382.3L44.6 378.5L46.3 375.5L44.6 373.5L41.9 371.4L41.0 367.6L40.4 363.7L40.2 361.1L38.0 358.5L37.1 355.6L37.2 352.4L37.3 349.3L33.2 347.0L31.0 344.4L29.1 342.4L27.7 341.5L23.5 340.1L23.6 336.4L23.2 332.4L24.7 329.1L24.9 326.8L23.6 324.5L23.9 321.1L23.7 317.6L25.8 315.3L26.0 314.0L25.0 311.7L24.3 308.6L23.3 305.4L24.6 302.2L23.0 298.5L23.8 296.1L24.1 293.0L25.2 289.3L28.1 287.2L28.4 284.7L28.1 281.7L28.7 279.8L28.6 277.7L28.3 275.5L26.7 273.1L24.0 270.9L22.3 268.7L19.0 266.4L17.3 264.4L14.4 263.0L11.7 261.7L9.7 259.5L9.6 255.8L12.2 253.3L12.8 250.4L12.1 246.9L12.5 244.7L12.7 243.2L14.6 240.9L14.3 237.2L13.1 233.4L14.0 230.7L14.5 228.4L16.1 225.6L15.4 222.8L14.4 220.5L17.5 220.4L21.6 218.6L25.4 219.8L28.1 220.0L30.1 221.0Z"/>
<path d="M32.7 660.0L34.6 656.8L35.4 654.5L37.1 651.2L36.8 646.5L36.3 643.2L37.8 641.3L39.0 638.7L41.2 636.2L42.1 633.8L41.4 630.2L42.8 627.3L43.7 624.4L45.0 620.0L43.5 615.9L44.7 613.6L44.7 611.1L44.6 608.6L43.4 605.6L41.5 602.3L44.5 598.5L48.0 596.1L49.2 593.4L50.1 592.0L53.7 588.9L57.1 587.5L58.4 584.3L58.5 582.3L60.4 579.3L61.8 576.7L63.6 574.4L66.3 569.5L66.5 566.8L66.7 565.3L67.7 562.3L67.8 560.0L69.9 557.7L72.1 554.0L69.6 550.1L67.5 546.8L66.0 544.8L66.7 542.6L64.0 539.9L62.8 537.0L61.5 533.9L62.4 530.7L60.3 527.3L59.6 524.4L58.1 522.0L59.3 519.9L58.7 517.9L57.9 515.1L56.8 511.1L56.3 507.2L57.9 504.1L57.1 501.5L58.0 499.8L57.5 496.8L59.2 493.4L61.6 489.9L62.7 486.4L64.1 485.1L66.1 483.3L68.9 481.8L71.4 481.4L73.6 479.0L75.3 478.2L77.2 475.4L80.1 474.2L83.5 471.8L86.8 473.7L88.4 477.4L91.4 478.9L92.9 478.4L94.6 479.9L98.7 483.0L101.8 484.4L103.8 483.5L106.4 484.0L108.9 485.5L110.8 486.3L114.3 487.4L117.9 486.4L121.0 485.1L124.0 485.6L127.0 485.8L130.0 487.0L132.9 485.3L135.6 484.9L138.5 484.6L141.9 485.3L145.3 486.3L148.6 484.2L150.8 483.5L152.7 482.0L155.3 483.3L158.3 482.4L161.6 482.3L165.2 479.7L169.0 479.3L172.5 478.4L175.5 479.1L178.1 478.7L180.8 477.9L184.3 476.5L187.9 476.2L190.6 478.4L193.3 478.7L195.1 478.7L196.7 479.1L200.2 478.0L204.0 479.5L207.6 479.2L210.5 478.7L212.9 477.4L215.0 474.9L217.2 473.7L218.4 470.8L219.5 468.7L221.8 468.1L224.5 466.9L227.3 467.0L229.9 464.0L232.2 463.2L234.8 462.1L237.2 462.3L239.5 463.0L242.4 461.5L246.5 461.4L251.4 460.7L253.3 463.5L255.4 466.3L257.9 467.7L260.2 466.3L262.5 465.7L265.2 464.2L269.4 466.7L273.2 469.3L275.1 469.4L278.1 469.8L281.1 471.4L282.9 473.1L285.4 472.5L287.6 471.4L290.3 469.2L294.1 469.0L298.9 469.2L302.2 471.5L304.2 470.7L306.5 470.4L309.5 470.0L312.8 469.5L314.6 469.7L315.8 467.8L318.4 466.8L321.7 463.4L324.7 462.2L327.4 461.9L329.9 461.0L332.4 459.5L334.4 457.1L336.7 457.7L339.4 457.6L342.4 457.3L345.4 456.3L347.7 453.9L349.5 454.6L351.8 454.4L355.4 454.6L358.6 453.2L361.7 452.1L365.2 453.0L368.9 453.5L372.8 454.4L376.4 452.7L378.8 453.5L380.7 453.6L383.6 454.6L387.5 452.5L390.5 451.6L393.4 451.1L395.7 452.2L397.9 453.9L400.7 455.4L403.7 455.2L406.1 454.8L407.4 456.0L409.7 457.1L413.0 457.7L414.1 459.5L416.1 461.9L418.0 464.6L418.8 467.5L418.5 469.2L417.9 472.9L416.2 475.9L415.1 478.8L413.8 482.5L416.4 481.8L419.5 482.2L422.0 482.3L424.6 481.3L427.3 481.5L430.1 479.8L432.9 479.5L435.9 476.8L438.7 475.8L441.6 473.4L444.4 475.2L447.8 476.0L451.7 475.9L454.9 476.7L456.3 478.0L459.3 480.5L461.1 483.1L464.6 485.3L464.0 488.1L467.1 490.5L469.5 492.4L473.1 494.2L473.5 496.9L474.3 499.8L474.5 502.9L474.0 505.8L474.5 507.4L472.8 509.9L470.2 512.9L469.0 514.6L468.3 516.9L469.0 520.7L471.2 524.3L470.0 527.4L471.9 529.6L472.8 531.6L475.1 533.5L477.4 535.6L478.0 538.1L479.3 541.1L477.8 544.2L477.8 547.3L476.7 549.3L475.2 553.2L473.2 555.2L470.8 557.4L468.5 558.5L466.2 559.4L463.9 562.0L460.7 563.6L457.6 566.6L454.7 566.0L452.1 567.6L450.2 569.0L447.8 571.6L447.0 573.3L444.9 575.7L446.3 579.6L445.0 581.3L441.4 583.6L439.0 586.5L436.4 586.9L433.7 589.3L431.0 589.7L428.4 590.6L426.1 590.6L423.8 590.0L421.2 591.5L418.5 591.8L416.6 594.4L415.8 597.0L415.3 598.4L415.1 601.5L413.7 604.8L414.8 607.6L413.7 608.3L411.6 611.6L409.3 615.2L407.8 617.4L405.3 618.9L402.1 618.1L398.5 619.4L394.8 620.5L392.2 623.5L389.6 625.4L387.3 628.1L386.1 630.2L384.0 634.0L381.7 636.1L381.9 638.4L381.6 641.0L378.8 643.1L378.9 646.4L379.1 650.7L379.9 653.7L380.5 656.1L379.7 658.1L380.9 660.3L379.4 661.5L377.7 664.2L374.8 665.3L371.9 668.2L368.8 669.3L366.2 669.8L364.0 669.9L361.9 669.1L359.5 671.0L356.7 672.0L353.5 674.2L349.9 673.4L346.8 674.1L345.0 675.2L342.9 677.4L339.6 677.0L335.8 674.6L333.7 672.9L331.4 671.7L329.5 670.7L327.3 670.9L325.1 672.7L322.7 672.6L319.9 671.7L316.3 672.2L312.7 672.2L309.8 674.5L307.2 674.2L304.4 673.8L301.5 673.7L298.5 673.9L295.7 676.2L292.9 676.3L290.1 677.1L287.3 677.1L285.1 680.2L283.8 682.4L281.5 683.4L279.3 685.8L278.3 687.4L277.1 690.8L274.7 693.3L272.2 695.0L270.2 698.0L268.2 699.1L265.9 701.8L264.1 704.4L264.1 706.7L263.3 710.2L262.6 712.8L262.0 714.7L261.2 717.5L263.2 721.6L262.0 725.4L261.5 728.0L259.1 731.4L259.0 734.5L258.7 736.2L257.1 739.7L255.7 742.5L253.3 745.1L252.2 749.2L253.7 752.7L252.8 754.8L251.1 756.8L250.6 759.6L251.3 762.1L254.2 764.8L255.5 767.7L258.7 768.7L261.4 769.6L262.4 771.3L260.1 771.9L257.8 773.3L255.6 775.4L255.0 777.0L254.1 780.5L251.7 782.7L248.9 785.4L247.6 787.9L246.3 787.4L243.8 790.3L240.3 792.3L236.9 794.2L234.1 795.3L233.8 799.2L232.5 802.2L231.4 805.2L230.7 808.6L228.3 810.4L226.8 813.6L226.1 817.0L225.1 819.1L227.7 821.9L227.0 825.0L227.5 828.5L228.0 832.1L225.8 834.8L224.2 834.9L223.0 836.8L221.1 837.5L217.6 839.3L213.9 840.8L211.2 841.6L209.1 842.6L206.7 841.6L203.4 842.6L199.9 842.8L196.5 845.1L193.4 845.2L190.6 845.6L187.7 844.0L184.0 843.6L181.2 845.2L179.5 843.8L177.1 843.0L174.5 843.3L171.6 844.9L168.7 846.5L165.6 848.5L162.1 849.2L158.5 848.1L155.5 848.4L153.0 847.8L151.4 847.2L148.1 846.2L146.2 843.2L143.3 840.4L140.1 839.4L138.2 838.9L135.4 837.5L134.6 834.9L132.1 833.7L128.6 835.2L124.9 835.5L121.6 836.7L118.9 834.9L116.0 834.8L112.3 835.0L108.1 835.9L104.4 835.2L102.5 836.1L100.9 838.8L98.8 840.0L96.3 843.7L95.6 845.9L94.7 849.2L92.2 851.9L89.3 854.1L86.2 857.2L84.3 859.1L83.4 861.0L80.5 859.5L76.9 860.9L73.5 861.5L70.7 862.6L69.2 861.4L65.8 858.8L61.4 857.6L59.3 857.5L57.5 856.7L53.8 858.1L50.5 857.9L48.0 857.3L45.5 858.5L42.4 859.6L40.4 859.0L35.7 856.4L32.7 853.2L31.1 852.4L30.7 849.8L30.0 847.4L27.8 844.4L29.0 841.0L30.9 839.7L32.7 836.9L35.2 835.3L37.7 831.2L38.4 828.3L38.7 827.2L40.4 824.6L42.6 822.3L44.6 818.5L46.3 815.5L44.6 813.5L41.9 811.4L41.0 807.6L40.4 803.7L40.2 801.1L38.0 798.5L37.1 795.6L37.2 792.4L37.3 789.3L33.2 787.0L31.0 784.4L29.1 782.4L27.7 781.5L23.5 780.1L23.6 776.4L23.2 772.4L24.7 769.1L24.9 766.8L23.6 764.5L23.9 761.1L23.7 757.6L25.8 755.3L26.0 754.0L25.0 751.7L24.3 748.6L23.3 745.4L24.6 742.2L23.0 738.5L23.8 736.1L24.1 733.0L25.2 729.3L28.1 727.2L28.4 724.7L28.1 721.7L28.7 719.8L28.6 717.7L28.3 715.5L26.7 713.1L24.0 710.9L22.3 708.7L19.0 706.4L17.3 704.4L14.4 703.0L11.7 701.7L9.7 699.5L9.6 695.8L12.2 693.3L12.8 690.4L12.1 686.9L12.5 684.7L12.7 683.2L14.6 680.9L14.3 677.2L13.1 673.4L14.0 670.7L14.5 668.4L16.1 665.6L15.4 662.8L14.4 660.5L17.5 660.4L21.6 658.6L25.4 659.8L28.1 660.0L30.1 661.0Z" fill="#ffd0d0"/>
<g class="cells">
<path d="M56.9 681.2L55.6 680.0L51.6 679.9L48.9 680.7L46.4 680.1L42.2 680.9L39.9 679.3L37.9 679.1L34.6 680.6L31.2 680.8L27.4 682.0L23.0 678.3L19.2 678.6L17.6 678.3L15.9 680.6L12.7 683.6L12.3 684.2L11.6 686.2L13.4 690.1L12.8 693.1L8.8 695.2L9.4 699.5L11.3 701.9L14.1 702.9L17.2 704.1L18.4 706.2L22.6 708.8L24.2 711.1L27.3 713.6L28.7 716.2L27.8 718.5L28.1 719.8L28.5 720.3L32.1 722.9L36.2 720.8L38.6 718.4L41.2 716.6L43.2 717.0L45.2 711.2L49.3 710.1L51.8 708.0L50.6 705.7L50.4 703.4L50.9 702.2L53.5 698.2L56.5 696.2L54.8 693.5L52.9 690.6L54.9 686.9L55.2 683.3Z" fill="#ff3939"/>
<path d="M60.0 763.3L57.3 761.3L53.4 757.9L52.2 755.9L47.9 756.5L45.5 755.8L43.0 753.6L42.1 750.8L42.9 748.2L41.9 748.0L38.1 749.0L34.1 745.7L30.3 747.1L27.2 747.8L24.2 749.7L24.7 752.5L26.6 754.5L26.4 754.8L23.2 756.7L23.6 760.6L23.3 764.4L25.6 766.4L25.2 768.3L22.6 771.8L23.3 776.6L23.2 780.9L28.0 781.8L29.1 778.7L30.5 776.0L32.8 773.1L35.7 771.4L39.1 770.8L41.8 772.4L44.1 771.8L47.9 770.1L53.5 767.9L58.2 767.6L61.8 768.8L60.3 766.8Z" fill="#ffc6c6"/>
<path d="M42.2 680.9L46.4 680.1L48.9 680.7L51.6 679.9L55.6 680.0L53.1 680.2L56.0 676.5L58.0 672.5L59.5 669.7L59.2 665.2L58.4 663.6L62.4 661.3L63.6 656.9L60.7 657.0L58.6 654.0L55.8 653.4L51.6 655.9L47.7 654.7L45.0 654.1L41.9 651.6L38.4 651.3L37.9 651.2L35.5 655.0L34.6 656.8L31.8 660.1L29.5 661.7L28.3 660.1L25.7 659.7L21.4 657.7L16.7 660.8L13.6 660.9L15.4 662.9L16.9 665.7L14.4 668.5L13.8 670.5L12.4 673.0L14.1 676.6L15.9 680.6L17.6 678.3L19.2 678.6L23.0 678.3L27.4 682.0L31.2 680.8L34.6 680.6L37.9 679.1L39.9 679.3Z" fill="#ff8e8e"/>
<path d="M38.4 651.3L41.9 651.6L45.0 654.1L47.7 654.7L51.6 655.9L55.8 653.4L58.6 654.0L60.7 657.0L63.6 656.9L65.5 656.8L67.3 654.2L69.3 650.2L67.2 647.0L66.3 644.4L67.8 641.8L68.9 639.1L70.6 636.8L64.2 635.1L60.1 633.4L58.6 632.6L54.8 635.2L50.3 632.5L48.0 630.8L45.0 629.9L40.6 630.5L42.7 634.7L41.8 636.7L38.8 639.0L37.7 641.5L35.6 642.6L36.7 645.6L37.9 651.2Z" fill="#ffe3e3"/>
<path d="M41.9 748.0L40.8 745.2L40.7 743.4L39.6 740.1L43.4 735.5L43.4 731.9L42.6 729.3L40.1 726.1L36.9 723.9L38.1 722.2L36.2 720.8L32.1 722.9L28.5 720.3L27.8 721.8L29.0 724.8L28.8 726.9L24.7 728.4L23.6 732.7L23.8 736.0L23.2 738.2L25.4 742.5L22.7 746.2L24.2 749.7L27.2 747.8L30.3 747.1L34.1 745.7L38.1 749.0Z" fill="#ff8e8e"/>
<path d="M43.0 753.6L45.5 755.8L47.9 756.5L52.2 755.9L53.4 757.9L57.3 761.3L60.0 763.3L62.7 762.5L65.3 759.7L67.4 755.5L71.6 757.3L74.5 757.6L76.4 758.5L79.4 752.2L84.2 752.1L84.8 750.0L83.2 747.5L82.9 745.3L83.3 742.8L85.7 738.9L81.0 735.2L78.8 734.8L76.4 736.4L72.4 732.8L69.5 729.5L64.4 731.3L61.7 730.7L63.0 729.6L60.9 727.8L57.3 727.4L52.2 727.7L47.1 730.8L44.3 729.5L42.6 729.3L43.4 731.9L43.4 735.5L39.6 740.1L40.7 743.4L40.8 745.2L41.9 748.0L42.9 748.2L42.1 750.8Z" fill="#ff8e8e"/>
<path d="M54.8 831.1L51.1 828.5L48.7 825.6L46.5 824.7L42.8 824.8L41.9 823.5L39.4 825.3L38.2 827.7L38.8 827.7L38.6 830.7L35.7 836.1L32.8 837.1L31.1 840.3L29.1 840.9L26.9 844.6L30.2 847.7L31.1 849.7L31.4 852.1L32.2 852.4L35.3 856.6L41.2 859.9L42.7 859.9L45.3 858.2L47.4 857.3L49.0 856.6L51.3 859.3L52.6 855.5L55.4 850.9L53.1 847.4L53.4 843.9L53.5 839.5L57.1 835.7L54.8 833.5Z" fill="#ffc6c6"/>
<path d="M42.6 729.3L44.3 729.5L47.1 730.8L52.2 727.7L57.3 727.4L60.9 727.8L63.0 729.6L64.9 727.8L63.7 724.3L64.0 720.1L60.3 719.0L58.9 718.1L59.2 716.6L56.0 714.2L55.4 711.1L51.8 708.0L49.3 710.1L45.2 711.2L43.2 717.0L41.2 716.6L38.6 718.4L36.2 720.8L38.1 722.2L36.9 723.9L40.1 726.1Z" fill="#ff8e8e"/>
<path d="M50.4 703.4L50.6 705.7L51.8 708.0L55.4 711.1L56.0 714.2L59.2 716.6L58.9 718.1L60.3 719.0L64.0 720.1L67.2 717.6L69.8 715.6L71.5 716.3L73.2 710.8L75.2 708.3L76.5 705.9L76.0 703.0L76.6 699.3L76.7 698.3L81.1 694.0L80.0 692.3L77.4 689.4L74.5 686.4L72.6 683.8L70.6 682.9L68.4 680.8L65.4 683.8L61.8 683.6L59.0 684.1L56.9 681.2L55.2 683.3L54.9 686.9L52.9 690.6L54.8 693.5L56.5 696.2L53.5 698.2L50.9 702.2Z" fill="#ff1c1c"/>
<path d="M51.3 859.3L54.5 858.1L57.6 856.7L58.8 857.4L61.9 856.9L63.1 855.9L66.3 854.0L67.7 850.2L70.1 848.7L73.2 844.3L72.7 841.7L72.3 839.7L74.9 836.3L73.0 833.7L73.0 831.7L72.0 830.1L67.2 828.3L63.3 827.6L60.3 832.0L57.6 831.0L54.8 831.1L54.8 833.5L57.1 835.7L53.5 839.5L53.4 843.9L53.1 847.4L55.4 850.9L52.6 855.5Z" fill="#ffc6c6"/>
<path d="M28.0 781.8L29.5 781.8L29.7 782.7L31.7 784.9L33.7 787.4L38.0 787.0L42.1 789.5L45.5 786.8L47.6 785.7L49.6 785.2L52.9 787.4L56.5 786.5L59.7 784.3L62.2 782.3L63.5 779.2L59.6 775.9L59.8 773.9L59.6 772.0L61.8 768.8L58.2 767.6L53.5 767.9L47.9 770.1L44.1 771.8L41.8 772.4L39.1 770.8L35.7 771.4L32.8 773.1L30.5 776.0L29.1 778.7Z" fill="#ffc6c6"/>
<path d="M33.7 787.4L38.0 789.0L37.2 792.1L36.6 795.4L37.7 798.3L40.8 800.5L40.7 802.9L40.3 806.5L41.5 810.5L42.0 812.8L44.1 811.7L48.1 808.1L52.4 808.0L54.6 805.6L55.2 804.7L57.3 802.0L59.2 800.0L61.1 800.0L64.2 796.3L67.0 793.4L62.1 790.3L61.1 787.2L59.7 784.3L56.5 786.5L52.9 787.4L49.6 785.2L47.6 785.7L45.5 786.8L42.1 789.5L38.0 787.0Z" fill="#ffc6c6"/>
<path d="M61.7 730.7L64.4 731.3L69.5 729.5L72.4 732.8L76.4 736.4L78.8 734.8L81.0 735.2L85.7 738.9L85.0 734.5L85.6 733.2L90.5 729.1L89.3 725.2L89.4 722.3L85.3 720.1L85.4 718.3L81.7 714.9L78.8 713.9L77.4 712.8L73.2 710.8L71.5 716.3L69.8 715.6L67.2 717.6L64.0 720.1L63.7 724.3L64.9 727.8L63.0 729.6Z" fill="#ff8e8e"/>
<path d="M54.6 805.6L59.6 810.7L60.7 812.8L63.0 811.5L64.5 814.4L70.3 819.2L72.8 820.3L75.7 816.3L77.7 815.3L78.1 812.8L74.8 810.6L75.4 808.9L75.1 805.6L76.6 801.7L72.9 798.5L72.2 796.1L68.5 793.1L67.6 793.5L67.0 793.4L64.2 796.3L61.1 800.0L59.2 800.0L57.3 802.0L55.2 804.7Z" fill="#ff8e8e"/>
<path d="M63.5 779.2L62.2 782.3L59.7 784.3L61.1 787.2L62.1 790.3L67.0 793.4L67.6 793.5L68.5 793.1L72.2 796.1L75.2 796.3L79.3 794.3L83.7 790.9L85.6 790.9L86.7 791.3L85.9 787.5L89.3 784.6L90.6 782.5L87.8 781.2L86.9 779.4L82.9 776.0L82.7 771.8L81.5 768.6L84.4 766.0L81.6 764.2L80.7 761.6L76.4 758.5L74.5 757.6L71.6 757.3L67.4 755.5L65.3 759.7L62.7 762.5L60.0 763.3L60.3 766.8L61.8 768.8L59.6 772.0L59.8 773.9L59.6 775.9Z" fill="#ff8e8e"/>
<path d="M56.9 681.2L59.0 684.1L61.8 683.6L65.4 683.8L68.4 680.8L70.6 682.9L72.6 683.8L75.9 681.8L77.6 679.4L78.1 674.9L76.5 671.7L72.6 669.1L73.3 667.4L73.1 665.2L69.9 660.2L67.7 656.1L67.3 654.2L67.3 654.2L65.5 656.8L63.6 656.9L62.4 661.3L58.4 663.6L59.2 665.2L59.5 669.7L58.0 672.5L56.0 676.5L53.1 680.2L55.6 680.0Z" fill="#ff3939"/>
<path d="M70.6 636.8L71.3 636.4L71.5 632.7L72.1 630.5L72.1 629.0L71.8 625.5L72.9 620.7L68.9 616.9L68.4 613.7L69.4 609.9L67.3 611.0L61.3 610.2L57.1 610.7L55.1 607.3L51.4 605.6L48.0 606.1L47.0 605.3L44.4 607.0L45.1 609.8L45.0 611.9L44.6 613.9L42.8 615.6L45.6 620.1L43.9 625.2L42.7 627.7L40.6 630.3L40.6 630.5L45.0 629.9L48.0 630.8L50.3 632.5L54.8 635.2L58.6 632.6L60.1 633.4L64.2 635.1Z" fill="#ffffff"/>
<path d="M69.4 609.9L72.8 608.0L75.3 608.7L76.2 605.0L76.0 602.3L76.3 598.4L75.6 594.7L78.7 591.4L78.4 590.2L76.3 588.1L78.8 584.9L76.9 585.4L75.0 583.7L75.2 580.1L72.2 578.6L69.0 581.9L65.1 582.5L61.2 584.8L57.9 583.3L58.7 584.1L58.1 587.9L53.7 588.6L49.2 592.0L49.3 592.7L48.7 595.6L44.4 598.1L40.8 602.7L44.4 607.0L47.0 605.3L48.0 606.1L51.4 605.6L55.1 607.3L57.1 610.7L61.3 610.2L67.3 611.0Z" fill="#ffe3e3"/>
<path d="M54.8 831.1L57.6 831.0L60.3 832.0L63.3 827.6L67.2 828.3L68.8 825.6L69.4 823.9L72.8 820.3L70.3 819.2L64.5 814.4L63.0 811.5L60.7 812.8L59.6 810.7L54.6 805.6L52.4 808.0L48.1 808.1L44.1 811.7L42.0 812.8L45.8 813.7L46.6 814.9L44.5 818.8L41.9 823.5L42.8 824.8L46.5 824.7L48.7 825.6L51.1 828.5Z" fill="#ffc6c6"/>
<path d="M80.0 838.3L76.9 839.3L74.9 836.3L72.3 839.7L72.7 841.7L73.2 844.3L70.1 848.7L67.7 850.2L66.3 854.0L63.1 855.9L61.9 856.9L67.1 859.0L70.0 862.2L70.8 863.2L73.5 861.6L77.2 860.8L81.3 858.6L84.2 861.4L84.1 859.3L86.0 857.5L87.3 855.2L86.3 852.5L85.5 847.7L81.8 843.1L81.5 840.6Z" fill="#ffc6c6"/>
<path d="M72.8 820.3L69.4 823.9L68.8 825.6L67.2 828.3L72.0 830.1L73.0 831.7L73.0 833.7L74.9 836.3L76.9 839.3L80.0 838.3L84.6 835.2L86.9 834.0L88.2 833.9L90.3 834.2L93.1 830.1L94.7 827.1L94.7 824.6L96.4 822.1L93.2 818.9L92.5 815.2L92.5 813.9L88.9 815.5L84.6 815.5L81.9 816.7L80.6 813.4L78.1 812.8L77.7 815.3L75.7 816.3Z" fill="#ffc6c6"/>
<path d="M86.1 543.5L86.4 540.8L83.0 537.6L82.4 534.1L80.3 530.9L82.5 528.1L83.3 527.4L83.3 525.7L83.6 521.2L82.7 517.5L83.1 512.9L81.6 510.5L78.7 513.8L75.3 512.6L71.8 512.5L68.1 509.9L64.2 512.6L60.7 513.1L57.5 513.1L58.0 516.6L59.1 518.8L59.8 520.2L57.4 521.7L59.4 523.9L60.2 526.8L63.3 530.6L61.0 534.0L62.5 537.2L63.9 540.2L67.5 542.8L65.6 544.7L66.3 545.6L69.1 547.9L70.7 551.7L73.6 552.2L75.7 549.5L77.2 548.5L80.7 544.2Z" fill="#ffe3e3"/>
<path d="M88.6 635.5L88.5 635.5L87.0 636.0L83.9 637.2L80.6 634.6L79.7 631.6L76.8 631.1L72.4 630.5L72.1 630.5L71.5 632.7L71.3 636.4L70.6 636.8L68.9 639.1L67.8 641.8L66.3 644.4L67.2 647.0L69.3 650.2L67.3 654.2L67.3 654.2L70.3 652.9L73.5 655.0L76.1 655.9L79.8 656.4L85.3 653.3L88.0 655.4L90.9 655.4L92.9 654.8L95.1 654.6L97.9 650.8L100.8 649.4L103.4 650.2L103.8 652.6L106.9 653.1L110.5 649.0L111.7 646.1L111.8 642.0L115.3 643.1L118.7 639.6L118.3 639.4L116.3 639.0L113.1 636.1L110.0 631.8L107.5 627.1L105.8 625.3L106.5 623.6L102.5 627.4L99.4 628.1L97.5 631.4L95.2 631.6L91.7 634.0Z" fill="#ffe3e3"/>
<path d="M73.2 710.8L77.4 712.8L78.8 713.9L81.7 714.9L85.4 718.3L89.2 717.4L92.7 713.5L95.0 711.6L96.9 710.1L99.0 711.4L97.9 707.9L94.1 703.5L96.5 699.0L95.1 696.7L93.9 695.2L90.0 695.9L86.5 692.9L83.9 693.6L81.1 694.0L76.7 698.3L76.6 699.3L76.0 703.0L76.5 705.9L75.2 708.3Z" fill="#ff1c1c"/>
<path d="M75.2 580.1L75.0 583.7L76.9 585.4L78.8 584.9L82.8 584.0L85.2 584.6L88.9 586.3L93.1 589.0L92.4 589.6L91.9 590.0L94.8 587.5L97.3 589.2L100.1 589.0L103.3 589.3L106.3 588.0L109.1 585.2L112.0 583.6L110.4 583.3L110.1 581.4L106.0 578.1L103.9 574.7L100.2 572.0L97.8 573.9L95.5 575.3L93.0 579.8L89.6 577.0L87.5 575.4L84.3 574.3L82.2 571.7L83.2 569.0L78.0 572.6L74.5 574.0L71.2 571.7L69.3 570.7L70.0 569.1L67.1 566.4L67.2 568.9L64.0 574.7L61.6 577.0L60.6 578.6L58.4 582.0L57.9 583.3L61.2 584.8L65.1 582.5L69.0 581.9L72.2 578.6Z" fill="#ff8e8e"/>
<path d="M81.6 510.5L83.0 508.9L82.2 507.7L85.8 505.1L89.9 507.8L93.0 507.0L95.1 507.3L97.0 503.5L99.9 504.3L103.7 504.3L104.4 501.2L105.2 499.2L105.9 496.8L103.0 493.1L102.4 488.9L103.6 484.9L104.1 483.0L102.3 485.1L98.9 483.7L93.7 479.3L92.6 477.7L91.8 479.4L88.5 478.1L87.6 473.1L83.8 471.2L79.8 474.2L76.6 475.2L75.1 478.9L73.9 479.2L72.0 482.2L69.4 481.9L66.5 483.3L64.3 484.8L63.1 485.6L62.3 489.9L59.0 493.7L56.8 497.1L58.2 500.0L57.3 500.9L58.4 503.6L55.2 507.7L57.5 513.1L60.7 513.1L64.2 512.6L68.1 509.9L71.8 512.5L75.3 512.6L78.7 513.8Z" fill="#ffffff"/>
<path d="M72.1 630.5L72.4 630.5L74.6 627.7L79.2 625.1L84.0 623.1L84.8 621.2L85.4 619.8L88.8 618.7L92.6 617.8L96.1 615.4L99.5 611.6L94.3 612.1L89.7 609.9L87.4 608.8L82.8 607.0L81.4 602.9L77.4 601.5L76.0 602.3L76.2 605.0L75.3 608.7L72.8 608.0L69.4 609.9L68.4 613.7L68.9 616.9L72.9 620.7L71.8 625.5L72.1 629.0Z" fill="#ffffff"/>
<path d="M82.5 528.1L80.3 530.9L82.4 534.1L83.0 537.6L86.4 540.8L86.1 543.5L88.5 544.1L92.1 545.9L94.4 548.4L96.2 544.7L96.1 541.2L97.9 537.6L99.3 533.4L99.4 534.3L101.2 531.9L101.4 528.9L100.0 525.7L96.1 524.8L91.8 520.9L89.1 521.0L87.5 521.8L83.6 521.2L83.3 525.7L83.3 527.4Z" fill="#ffe3e3"/>
<path d="M72.6 683.8L74.5 686.4L77.4 689.4L80.0 692.3L81.1 694.0L83.9 693.6L86.5 692.9L90.0 695.9L93.9 695.2L95.0 692.9L95.8 690.7L96.4 686.4L98.4 682.2L98.3 679.5L97.4 678.1L95.2 675.9L98.1 672.3L96.4 671.7L94.1 670.0L93.2 666.7L88.4 665.1L88.5 663.9L86.7 660.0L88.0 655.4L85.3 653.3L79.8 656.4L76.1 655.9L73.5 655.0L70.3 652.9L67.3 654.2L67.7 656.1L69.9 660.2L73.1 665.2L73.3 667.4L72.6 669.1L76.5 671.7L78.1 674.9L77.6 679.4L75.9 681.8Z" fill="#ff3939"/>
<path d="M74.5 574.0L78.0 572.6L83.2 569.0L82.2 571.7L84.3 574.3L87.5 575.4L89.6 577.0L93.0 579.8L95.5 575.3L97.8 573.9L100.2 572.0L100.9 570.9L102.1 568.5L97.3 566.4L95.3 564.2L93.4 561.5L96.6 557.8L95.0 554.0L94.2 551.5L94.2 549.7L93.0 549.3L94.4 548.4L92.1 545.9L88.5 544.1L86.1 543.5L80.7 544.2L77.2 548.5L75.7 549.5L73.6 552.2L70.7 551.7L72.9 554.4L69.7 558.7L67.0 560.6L67.5 562.9L66.3 565.9L67.1 566.4L70.0 569.1L69.3 570.7L71.2 571.7Z" fill="#ffffff"/>
<path d="M84.8 750.0L84.2 752.1L79.4 752.2L76.4 758.5L80.7 761.6L81.6 764.2L84.4 766.0L81.5 768.6L82.7 771.8L82.9 776.0L86.9 779.4L87.8 781.2L90.6 782.5L93.0 778.9L95.5 779.6L98.3 778.9L101.2 779.1L103.9 777.4L102.7 773.3L100.6 769.1L102.8 765.6L104.1 764.8L106.7 762.6L108.7 763.2L109.8 760.3L110.1 756.6L111.1 753.8L111.6 751.0L114.4 748.0L112.2 746.5L108.9 745.0L106.2 744.2L103.2 747.3L99.9 748.7L96.4 748.3L93.2 747.6L90.5 747.8L88.3 751.5Z" fill="#ff8e8e"/>
<path d="M80.0 838.3L81.5 840.6L81.8 843.1L85.5 847.7L86.3 852.5L87.3 855.2L86.0 857.5L89.4 853.4L92.5 851.3L95.4 848.7L95.6 845.1L95.5 843.3L98.3 839.1L100.6 838.6L102.0 835.8L101.3 834.2L98.8 832.5L93.1 830.1L90.3 834.2L88.2 833.9L86.9 834.0L84.6 835.2Z" fill="#ffc6c6"/>
<path d="M72.2 796.1L72.9 798.5L76.6 801.7L75.1 805.6L75.4 808.9L74.8 810.6L78.1 812.8L80.6 813.4L81.9 816.7L84.6 815.5L88.9 815.5L92.5 813.9L93.4 810.5L96.5 809.1L94.8 805.9L94.5 802.5L95.7 800.3L95.2 798.0L93.4 795.3L89.0 793.0L86.7 791.3L85.6 790.9L83.7 790.9L79.3 794.3L75.2 796.3Z" fill="#ffc6c6"/>
<path d="M77.4 601.5L81.4 602.9L82.8 607.0L87.4 608.8L89.7 609.9L94.3 612.1L99.5 611.6L100.8 610.7L102.6 613.4L104.8 610.9L106.7 608.1L104.9 605.3L105.6 600.7L105.4 596.1L108.5 594.0L110.2 591.7L107.9 587.6L109.1 585.2L106.3 588.0L103.3 589.3L100.1 589.0L97.3 589.2L94.8 587.5L91.9 590.0L92.4 589.6L93.1 589.0L88.9 586.3L85.2 584.6L82.8 584.0L78.8 584.9L76.3 588.1L78.4 590.2L78.7 591.4L75.6 594.7L76.3 598.4L76.0 602.3Z" fill="#ffe3e3"/>
<path d="M92.5 813.9L92.5 815.2L95.3 817.8L99.5 817.5L104.3 816.2L108.5 814.4L112.0 814.9L113.8 816.9L114.9 816.0L115.3 813.7L116.4 809.4L116.8 804.5L114.6 800.3L113.0 796.6L113.8 793.3L110.2 796.3L107.6 798.0L104.9 798.2L101.6 797.3L98.5 797.0L95.7 800.3L94.5 802.5L94.8 805.9L96.5 809.1L93.4 810.5Z" fill="#ffc6c6"/>
<path d="M81.6 510.5L83.1 512.9L82.7 517.5L83.6 521.2L87.5 521.8L89.1 521.0L91.8 520.9L96.1 524.8L100.0 525.7L102.8 522.7L104.3 519.4L105.1 516.3L107.2 514.1L109.9 511.8L110.5 510.3L109.4 508.8L108.1 506.8L103.7 504.3L99.9 504.3L97.0 503.5L95.1 507.3L93.0 507.0L89.9 507.8L85.8 505.1L82.2 507.7L83.0 508.9Z" fill="#ffffff"/>
<path d="M88.5 635.5L88.6 635.5L91.7 634.0L95.2 631.6L97.5 631.4L99.4 628.1L102.5 627.4L106.5 623.6L105.3 620.6L103.9 617.6L103.4 614.1L102.6 613.4L100.8 610.7L99.5 611.6L96.1 615.4L92.6 617.8L88.8 618.7L85.4 619.8L84.8 621.2L84.0 623.1L79.2 625.1L74.6 627.7L72.4 630.5L76.8 631.1L79.7 631.6L80.6 634.6L83.9 637.2L87.0 636.0Z" fill="#ffe3e3"/>
<path d="M159.2 496.1L162.8 498.0L166.9 495.2L170.6 494.5L170.9 492.7L174.9 492.8L177.1 495.9L178.4 493.6L180.7 493.3L185.0 491.8L185.7 492.2L189.4 494.7L192.2 494.7L194.1 492.8L196.0 491.7L198.8 490.4L200.7 489.2L201.2 487.0L203.4 482.4L200.1 477.3L195.9 478.9L194.8 478.6L193.6 479.1L190.7 479.0L187.9 475.7L184.0 475.9L180.3 478.0L178.1 479.2L175.8 479.6L172.9 477.9L169.1 479.0L164.8 479.2L160.8 482.9L157.4 482.7L154.5 483.8L152.2 481.2L151.0 483.1L153.8 485.2L156.3 487.8L157.5 490.4L158.1 493.1Z" fill="#ff0000"/>
<path d="M119.4 638.7L118.7 639.6L115.3 643.1L111.8 642.0L111.7 646.1L110.5 649.0L106.9 653.1L103.8 652.6L103.4 650.2L100.8 649.4L97.9 650.8L95.1 654.6L92.9 654.8L90.9 655.4L88.0 655.4L86.7 660.0L88.5 663.9L88.4 665.1L93.2 666.7L94.1 670.0L96.4 671.7L98.1 672.3L98.1 672.3L99.5 670.6L101.6 668.4L104.5 664.6L104.9 663.6L104.2 659.6L108.5 659.6L112.0 658.6L113.6 658.9L116.2 662.8L120.8 661.3L124.5 660.8L126.1 661.1L127.2 657.6L126.9 655.9L123.0 653.2L122.1 649.9L120.9 646.4L122.7 642.6Z" fill="#ff1c1c"/>
<path d="M84.8 750.0L88.3 751.5L90.5 747.8L93.2 747.6L96.4 748.3L99.9 748.7L103.2 747.3L106.2 744.2L108.9 745.0L107.8 741.4L104.4 738.4L106.7 736.9L105.5 734.3L104.7 729.9L100.2 729.7L96.0 728.5L93.8 730.5L92.6 731.7L90.5 729.1L85.6 733.2L85.0 734.5L85.7 738.9L83.3 742.8L82.9 745.3L83.2 747.5Z" fill="#ff8e8e"/>
<path d="M160.9 813.7L157.3 813.6L153.8 816.0L151.9 815.6L151.9 818.9L149.4 821.2L144.2 825.5L140.8 824.6L143.1 826.9L142.3 832.4L139.9 836.1L139.0 839.3L140.3 839.2L143.2 839.9L146.4 843.1L148.0 846.9L152.0 847.3L153.1 846.9L155.2 848.3L158.4 847.9L162.4 849.9L166.4 848.9L169.6 846.5L172.5 844.6L175.4 842.6L177.8 842.9L179.8 844.3L178.8 841.8L176.3 839.4L179.0 837.9L182.6 834.6L181.2 832.6L181.6 829.1L183.8 823.4L185.5 821.9L185.4 818.9L181.5 815.8L180.3 815.5L177.9 817.7L173.3 815.2L170.0 812.7L166.5 812.3L162.9 811.9L161.9 812.9Z" fill="#ff3939"/>
<path d="M102.0 835.8L104.0 835.5L107.4 836.8L111.8 834.9L115.6 834.9L118.2 833.6L117.9 831.3L115.1 830.4L117.4 828.0L117.8 823.2L118.7 818.8L115.2 816.5L114.9 816.0L113.8 816.9L112.0 814.9L108.5 814.4L104.3 816.2L99.5 817.5L95.3 817.8L92.5 815.2L93.2 818.9L96.4 822.1L94.7 824.6L94.7 827.1L93.1 830.1L98.8 832.5L101.3 834.2Z" fill="#ffc6c6"/>
<path d="M93.4 561.5L95.3 564.2L97.3 566.4L102.1 568.5L100.9 570.9L104.9 571.4L108.5 565.4L110.2 563.9L110.0 561.8L111.6 562.0L117.1 558.3L116.0 556.3L114.5 553.1L114.2 549.5L110.3 550.5L106.1 551.2L102.5 552.3L98.5 548.5L94.2 549.7L94.2 551.5L95.0 554.0L96.6 557.8Z" fill="#ffffff"/>
<path d="M86.7 791.3L89.0 793.0L93.4 795.3L95.2 798.0L95.7 800.3L98.5 797.0L101.6 797.3L104.9 798.2L107.6 798.0L110.2 796.3L113.8 793.3L117.3 793.6L118.7 793.1L114.9 790.9L113.7 788.5L109.5 785.6L109.1 782.1L106.6 778.2L106.6 776.2L103.9 777.4L101.2 779.1L98.3 778.9L95.5 779.6L93.0 778.9L90.6 782.5L89.3 784.6L85.9 787.5Z" fill="#ffc6c6"/>
<path d="M99.0 711.4L101.9 710.8L103.3 710.4L103.9 711.3L107.9 707.3L110.8 705.8L111.1 704.2L111.7 700.3L114.1 699.1L116.7 695.1L115.5 692.9L114.5 692.4L110.3 692.9L107.2 692.4L105.1 691.3L101.3 688.4L95.8 690.7L95.0 692.9L93.9 695.2L95.1 696.7L96.5 699.0L94.1 703.5L97.9 707.9Z" fill="#ff3939"/>
<path d="M103.9 777.4L106.6 776.2L106.6 778.2L109.1 782.1L109.5 785.6L113.7 788.5L114.9 790.9L118.7 793.1L120.0 792.3L121.3 792.5L123.0 789.7L124.1 786.3L125.6 786.9L128.8 784.2L132.0 782.6L133.0 780.4L129.8 777.0L128.0 771.6L129.9 767.0L128.1 768.8L124.4 768.8L121.5 767.6L120.3 764.3L115.9 761.7L114.8 759.3L110.1 756.6L109.8 760.3L108.7 763.2L106.7 762.6L104.1 764.8L102.8 765.6L100.6 769.1L102.7 773.3Z" fill="#ff8e8e"/>
<path d="M103.7 504.3L108.1 506.8L109.4 508.8L111.0 507.0L113.1 503.7L118.0 503.7L122.4 503.9L125.2 502.4L128.5 503.0L128.2 504.2L130.4 507.4L132.4 506.4L134.6 505.9L137.0 504.3L140.4 500.4L145.3 498.1L145.6 495.2L144.0 493.0L142.9 491.1L141.0 489.2L143.8 486.9L139.8 484.0L136.3 484.7L133.6 484.6L130.6 487.9L127.4 485.7L124.4 485.4L121.5 484.4L118.3 486.5L114.4 488.1L110.6 486.3L109.2 485.4L106.7 483.6L104.1 483.0L103.6 484.9L102.4 488.9L103.0 493.1L105.9 496.8L105.2 499.2L104.4 501.2Z" fill="#ffe3e3"/>
<path d="M90.5 729.1L92.6 731.7L93.8 730.5L96.0 728.5L100.2 729.7L104.7 729.9L104.8 729.3L105.5 726.7L109.5 723.8L114.0 720.0L110.9 717.9L109.5 715.7L106.6 713.5L103.9 711.3L103.3 710.4L101.9 710.8L99.0 711.4L96.9 710.1L95.0 711.6L92.7 713.5L89.2 717.4L85.4 718.3L85.3 720.1L89.4 722.3L89.3 725.2Z" fill="#ff1c1c"/>
<path d="M130.4 507.4L128.2 504.2L128.5 503.0L125.2 502.4L122.4 503.9L118.0 503.7L113.1 503.7L111.0 507.0L109.4 508.8L110.5 510.3L109.9 511.8L107.2 514.1L105.1 516.3L104.3 519.4L102.8 522.7L100.0 525.7L101.4 528.9L101.2 531.9L99.4 534.3L99.3 533.4L97.9 537.6L96.1 541.2L96.2 544.7L94.4 548.4L93.0 549.3L94.2 549.7L98.5 548.5L102.5 552.3L106.1 551.2L110.3 550.5L114.2 549.5L112.0 546.5L113.0 545.2L117.5 541.6L117.9 538.9L116.6 538.5L118.4 537.5L121.8 536.6L124.0 533.8L123.3 530.2L122.9 527.2L119.6 524.5L118.5 522.0L123.1 518.7L126.3 516.9L127.6 514.2L129.8 512.5L132.7 509.8Z" fill="#ffc6c6"/>
<path d="M102.6 613.4L103.4 614.1L107.2 614.0L111.2 613.4L115.6 610.1L118.9 611.8L120.5 611.7L122.6 612.8L124.0 606.3L125.0 602.6L128.5 601.8L128.0 597.9L125.3 594.3L124.8 590.1L125.5 586.7L125.5 585.5L122.0 585.1L120.9 583.9L119.4 583.4L116.3 581.2L112.0 583.6L109.1 585.2L107.9 587.6L110.2 591.7L108.5 594.0L105.4 596.1L105.6 600.7L104.9 605.3L106.7 608.1L104.8 610.9Z" fill="#ffe3e3"/>
<path d="M112.0 583.6L116.3 581.2L119.4 583.4L120.9 583.9L119.3 580.2L121.4 578.7L124.8 573.9L123.4 568.9L124.2 565.9L122.3 563.4L124.3 560.7L122.0 559.4L118.4 558.2L117.1 558.3L111.6 562.0L110.0 561.8L110.2 563.9L108.5 565.4L104.9 571.4L100.9 570.9L100.2 572.0L103.9 574.7L106.0 578.1L110.1 581.4L110.4 583.3Z" fill="#ffe3e3"/>
<path d="M95.8 690.7L101.3 688.4L105.1 691.3L107.2 692.4L110.3 692.9L114.5 692.4L112.0 688.0L112.8 684.5L113.3 682.3L116.5 679.9L114.8 677.2L112.0 676.5L110.5 674.0L106.9 672.1L101.6 674.1L99.0 673.7L98.1 672.3L98.1 672.3L95.2 675.9L97.4 678.1L98.3 679.5L98.4 682.2L96.4 686.4Z" fill="#ffe3e3"/>
<path d="M114.4 748.0L115.8 749.3L116.6 746.7L118.7 744.1L122.2 742.0L123.2 737.5L124.4 735.9L124.0 733.1L123.7 731.4L125.0 728.8L123.6 725.6L121.3 724.1L117.2 721.9L116.1 718.7L114.0 720.0L109.5 723.8L105.5 726.7L104.8 729.3L104.7 729.9L105.5 734.3L106.7 736.9L104.4 738.4L107.8 741.4L108.9 745.0L112.2 746.5Z" fill="#ff1c1c"/>
<path d="M153.8 542.1L150.3 539.8L149.5 537.7L147.4 535.9L144.5 535.1L142.7 532.7L140.6 536.2L137.7 538.3L134.4 539.2L130.9 538.0L127.7 537.1L123.3 537.9L121.8 536.6L118.4 537.5L116.6 538.5L117.9 538.9L117.5 541.6L113.0 545.2L112.0 546.5L114.2 549.5L114.5 553.1L116.0 556.3L117.1 558.3L118.4 558.2L122.0 559.4L124.3 560.7L127.7 558.8L129.4 559.3L130.6 556.0L132.3 555.6L134.8 552.1L138.4 551.6L142.1 553.1L143.5 554.9L147.1 557.4L151.7 556.8L152.4 553.1L151.0 552.2L153.8 550.6L157.3 551.4L160.7 553.1L164.3 551.8L167.9 551.7L171.1 548.3L173.1 551.0L174.1 555.7L173.8 558.8L176.7 560.4L177.4 562.0L180.1 557.7L185.3 557.5L187.7 555.2L187.7 554.3L188.6 552.6L190.9 550.4L194.3 549.5L194.9 545.8L191.3 542.0L189.2 539.3L184.8 537.1L184.0 537.0L182.9 540.2L182.0 538.7L179.7 538.0L176.3 537.9L173.5 539.5L170.2 541.0L167.5 539.3L162.3 536.1L159.6 537.1L156.9 537.2L154.9 542.1Z" fill="#ff0000"/>
<path d="M106.5 623.6L105.8 625.3L107.5 627.1L110.0 631.8L113.1 636.1L116.3 639.0L118.3 639.4L118.7 639.6L119.4 638.7L120.1 637.6L121.5 635.2L123.9 633.1L126.0 633.6L126.9 629.5L127.4 624.3L124.2 620.9L125.9 619.6L126.5 617.6L128.3 613.3L122.6 612.8L120.5 611.7L118.9 611.8L115.6 610.1L111.2 613.4L107.2 614.0L103.4 614.1L103.9 617.6L105.3 620.6Z" fill="#ffaaaa"/>
<path d="M98.1 672.3L99.0 673.7L101.6 674.1L106.9 672.1L110.5 674.0L112.0 676.5L114.8 677.2L115.8 677.0L119.2 672.4L123.0 671.9L126.1 671.3L128.8 671.5L131.3 670.3L132.4 667.9L132.3 665.8L127.7 663.6L126.1 661.1L124.5 660.8L120.8 661.3L116.2 662.8L113.6 658.9L112.0 658.6L108.5 659.6L104.2 659.6L104.9 663.6L104.5 664.6L101.6 668.4L99.5 670.6Z" fill="#ffe3e3"/>
<path d="M103.9 711.3L106.6 713.5L109.5 715.7L110.9 717.9L114.0 720.0L116.1 718.7L117.2 721.9L118.4 719.2L121.1 715.7L123.2 711.4L125.0 708.2L124.9 707.9L125.0 704.0L128.8 702.2L129.0 698.6L126.9 696.0L124.3 697.7L121.6 698.3L116.7 695.1L114.1 699.1L111.7 700.3L111.1 704.2L110.8 705.8L107.9 707.3Z" fill="#ff1c1c"/>
<path d="M118.2 833.6L119.1 834.5L121.6 837.5L125.0 835.6L129.2 835.2L132.9 832.9L135.1 835.0L134.7 838.0L137.2 839.4L139.0 839.3L139.9 836.1L142.3 832.4L143.1 826.9L140.8 824.6L139.7 821.7L137.5 819.1L138.8 817.0L134.4 816.0L132.0 815.7L129.0 815.0L126.0 815.5L122.3 813.2L118.2 814.9L115.2 816.5L118.7 818.8L117.8 823.2L117.4 828.0L115.1 830.4L117.9 831.3Z" fill="#ffc6c6"/>
<path d="M139.4 753.3L137.5 754.2L135.4 755.3L135.7 760.3L134.1 760.1L132.5 762.5L132.3 764.9L129.9 767.0L128.0 771.6L129.8 777.0L133.0 780.4L132.0 782.6L128.8 784.2L125.6 786.9L124.1 786.3L123.0 789.7L125.2 790.6L130.8 792.9L130.2 796.2L132.6 799.2L135.7 801.9L136.8 806.2L135.1 808.5L132.0 811.8L132.0 815.7L134.4 816.0L138.8 817.0L137.5 819.1L139.7 821.7L140.8 824.6L144.2 825.5L149.4 821.2L151.9 818.9L151.9 815.6L153.8 816.0L157.3 813.6L160.9 813.7L160.5 808.8L155.9 805.7L153.6 804.5L151.5 801.9L150.7 798.3L152.8 796.7L152.4 791.3L150.7 785.5L151.8 783.1L150.3 780.9L151.4 778.9L152.7 778.1L151.7 777.1L151.6 773.2L154.3 772.7L158.5 769.6L162.4 769.3L163.8 769.4L163.9 769.7L164.6 770.5L167.3 769.1L170.4 765.3L174.2 764.1L178.6 761.5L180.3 761.2L176.9 759.0L176.2 757.0L174.1 754.8L176.6 751.7L173.3 749.6L169.8 746.2L166.6 746.4L163.5 746.9L160.5 749.4L156.7 749.6L153.2 746.3L151.1 745.4L149.5 746.6L148.1 750.0L143.4 752.1L140.8 751.4Z" fill="#ffffff"/>
<path d="M113.8 793.3L113.0 796.6L114.6 800.3L116.8 804.5L116.4 809.4L115.3 813.7L114.9 816.0L115.2 816.5L118.2 814.9L122.3 813.2L126.0 815.5L129.0 815.0L132.0 815.7L132.0 811.8L135.1 808.5L136.8 806.2L135.7 801.9L132.6 799.2L130.2 796.2L130.8 792.9L125.2 790.6L123.0 789.7L121.3 792.5L120.0 792.3L118.7 793.1L117.3 793.6Z" fill="#ffc6c6"/>
<path d="M116.7 695.1L121.6 698.3L124.3 697.7L126.9 696.0L128.3 694.2L127.0 689.6L128.2 687.2L131.7 684.3L132.6 681.8L135.2 681.0L134.3 675.5L131.4 673.4L132.3 671.8L131.3 670.3L128.8 671.5L126.1 671.3L123.0 671.9L119.2 672.4L115.8 677.0L114.8 677.2L116.5 679.9L113.3 682.3L112.8 684.5L112.0 688.0L114.5 692.4L115.5 692.9Z" fill="#ffe3e3"/>
<path d="M118.7 744.1L116.6 746.7L115.8 749.3L114.4 748.0L111.6 751.0L111.1 753.8L110.1 756.6L114.8 759.3L115.9 761.7L120.3 764.3L121.5 767.6L124.4 768.8L128.1 768.8L129.9 767.0L132.3 764.9L132.5 762.5L134.1 760.1L135.7 760.3L135.4 755.3L137.5 754.2L139.4 753.3L140.8 751.4L143.4 752.1L148.1 750.0L144.8 747.3L142.9 744.2L139.2 739.5L140.8 735.6L141.5 731.4L142.4 729.5L141.2 726.6L143.4 721.2L146.9 719.3L143.9 717.1L142.0 715.7L139.1 720.4L136.0 720.9L132.7 721.6L129.2 720.4L126.1 724.8L123.6 725.6L125.0 728.8L123.7 731.4L124.0 733.1L124.4 735.9L123.2 737.5L122.2 742.0Z" fill="#ff8e8e"/>
<path d="M126.0 633.6L129.1 633.1L131.9 632.8L135.2 629.4L138.4 631.0L139.2 629.3L140.4 626.6L139.0 623.0L141.0 621.8L137.2 619.7L135.8 616.3L133.4 614.8L131.5 613.7L130.8 611.6L128.3 613.3L126.5 617.6L125.9 619.6L124.2 620.9L127.4 624.3L126.9 629.5Z" fill="#ffc6c6"/>
<path d="M132.3 665.8L133.9 665.5L135.4 662.7L134.8 660.2L136.6 659.2L138.0 656.1L139.2 652.6L141.5 650.0L138.8 647.2L137.5 643.7L134.9 642.8L132.3 643.3L131.1 642.5L128.5 638.8L123.5 638.0L120.1 637.6L119.4 638.7L122.7 642.6L120.9 646.4L122.1 649.9L123.0 653.2L126.9 655.9L127.2 657.6L126.1 661.1L127.7 663.6Z" fill="#ffc6c6"/>
<path d="M132.3 665.8L132.4 667.9L131.3 670.3L132.3 671.8L131.4 673.4L134.3 675.5L139.6 675.4L140.9 678.2L145.1 679.6L147.0 681.8L151.2 685.7L154.5 686.2L156.9 681.7L156.1 678.7L157.4 678.0L161.3 675.8L164.2 670.6L163.5 669.0L163.1 667.6L158.6 665.3L158.8 661.4L158.7 660.0L154.9 660.6L150.1 661.4L146.8 663.4L145.6 661.8L143.8 660.3L140.4 661.1L135.4 662.7L133.9 665.5Z" fill="#ffe3e3"/>
<path d="M123.6 725.6L126.1 724.8L129.2 720.4L132.7 721.6L136.0 720.9L139.1 720.4L142.0 715.7L140.3 712.9L136.5 710.1L137.7 707.2L136.9 704.3L135.4 702.4L129.5 704.3L128.8 702.2L125.0 704.0L124.9 707.9L125.0 708.2L123.2 711.4L121.1 715.7L118.4 719.2L117.2 721.9L121.3 724.1Z" fill="#ff1c1c"/>
<path d="M120.9 583.9L122.0 585.1L125.5 585.5L128.6 584.6L131.8 582.3L134.7 584.3L137.1 583.3L139.5 584.2L142.4 581.1L142.9 578.1L141.3 575.8L141.9 571.9L142.0 568.0L139.6 568.8L138.4 568.1L135.6 569.6L130.7 569.3L127.0 566.1L124.2 565.9L123.4 568.9L124.8 573.9L121.4 578.7L119.3 580.2Z" fill="#ff8e8e"/>
<path d="M163.4 509.7L159.6 507.2L160.4 505.1L157.0 506.3L153.4 510.4L151.1 511.2L150.3 510.5L147.7 509.0L148.1 509.7L143.7 513.0L141.6 511.6L138.4 511.9L135.7 513.5L133.0 510.2L132.7 509.8L129.8 512.5L127.6 514.2L126.3 516.9L123.1 518.7L118.5 522.0L119.6 524.5L122.9 527.2L123.3 530.2L125.6 527.2L128.2 529.2L131.4 526.4L134.7 524.6L137.9 520.6L140.7 524.6L142.3 523.3L143.3 522.1L144.2 522.0L146.1 519.7L150.2 519.4L152.6 518.4L155.2 515.2L158.1 517.6L161.5 519.0L164.2 517.8L164.5 517.6L164.0 516.4L164.5 513.8Z" fill="#ff8e8e"/>
<path d="M128.8 702.2L129.5 704.3L135.4 702.4L137.8 701.7L139.7 698.6L141.2 699.1L143.9 697.3L148.4 697.9L151.4 696.1L152.3 695.0L153.6 692.7L153.0 689.7L154.5 686.2L151.2 685.7L147.0 681.8L145.1 679.6L140.9 678.2L139.6 675.4L134.3 675.5L135.2 681.0L132.6 681.8L131.7 684.3L128.2 687.2L127.0 689.6L128.3 694.2L126.9 696.0L129.0 698.6Z" fill="#ffc6c6"/>
<path d="M122.6 612.8L128.3 613.3L130.8 611.6L131.5 613.7L133.4 614.8L135.8 616.3L138.6 617.6L140.8 615.1L142.9 613.3L146.2 614.4L150.6 614.3L153.3 614.0L154.2 608.0L155.4 605.5L155.3 603.2L156.1 600.8L153.6 598.2L153.1 595.5L151.5 594.0L150.3 591.6L149.6 591.4L145.9 590.4L145.3 585.4L142.5 581.5L142.4 581.1L139.5 584.2L137.1 583.3L134.7 584.3L131.8 582.3L128.6 584.6L125.5 585.5L125.5 586.7L124.8 590.1L125.3 594.3L128.0 597.9L128.5 601.8L125.0 602.6L124.0 606.3Z" fill="#ffc6c6"/>
<path d="M183.9 512.8L180.7 515.0L176.1 516.9L172.5 516.4L172.1 518.2L169.3 516.7L167.4 514.8L166.2 517.3L164.5 517.6L164.2 517.8L161.5 519.0L158.1 517.6L155.2 515.2L152.6 518.4L150.2 519.4L146.1 519.7L144.2 522.0L143.3 522.1L142.3 523.3L140.7 524.6L137.9 520.6L134.7 524.6L131.4 526.4L128.2 529.2L125.6 527.2L123.3 530.2L124.0 533.8L121.8 536.6L123.3 537.9L127.7 537.1L130.9 538.0L134.4 539.2L137.7 538.3L140.6 536.2L142.7 532.7L144.5 535.1L147.4 535.9L147.9 534.5L152.8 530.7L154.7 525.6L157.1 528.4L159.4 528.5L162.6 529.3L165.0 524.7L167.7 523.7L170.3 526.2L173.3 526.8L175.1 525.8L176.3 525.0L179.6 522.9L182.2 522.2L183.3 524.2L184.0 522.8L185.6 521.5L189.4 523.8L192.0 520.4L195.0 519.5L196.7 517.1L198.6 517.8L201.9 515.8L204.3 512.4L206.3 511.5L208.8 507.7L207.4 504.8L202.6 506.5L197.4 507.0L194.5 508.7L193.0 505.2L190.1 508.0L189.2 511.0L186.8 509.3L185.1 511.4L183.9 512.7Z" fill="#ffe3e3"/>
<path d="M137.5 643.7L139.0 639.8L140.1 637.6L142.3 638.0L142.7 634.9L138.4 631.0L135.2 629.4L131.9 632.8L129.1 633.1L126.0 633.6L123.9 633.1L121.5 635.2L120.1 637.6L123.5 638.0L128.5 638.8L131.1 642.5L132.3 643.3L134.9 642.8Z" fill="#ffc6c6"/>
<path d="M124.2 565.9L127.0 566.1L130.7 569.3L135.6 569.6L138.4 568.1L139.6 568.8L142.0 568.0L146.4 569.3L148.5 565.7L149.4 562.3L148.6 559.7L151.7 556.8L147.1 557.4L143.5 554.9L142.1 553.1L138.4 551.6L134.8 552.1L132.3 555.6L130.6 556.0L129.4 559.3L127.7 558.8L124.3 560.7L122.3 563.4Z" fill="#ff8e8e"/>
<path d="M159.2 500.4L156.9 500.6L154.1 502.7L150.1 501.2L145.4 499.2L145.3 498.1L140.4 500.4L137.0 504.3L134.6 505.9L132.4 506.4L130.4 507.4L132.7 509.8L133.0 510.2L135.7 513.5L138.4 511.9L141.6 511.6L143.7 513.0L148.1 509.7L147.7 509.0L150.3 510.5L151.1 511.2L153.4 510.4L157.0 506.3L160.4 505.1L159.6 507.2L163.4 509.7L166.2 509.3L169.0 509.2L171.5 505.5L173.1 505.5L175.7 505.3L177.5 503.7L179.6 506.2L183.7 503.6L185.3 500.6L184.9 496.9L185.4 494.3L185.7 492.2L185.0 491.8L180.7 493.3L178.4 493.6L177.1 495.9L174.9 492.8L170.9 492.7L170.6 494.5L166.9 495.2L162.8 498.0L159.2 496.1L159.8 496.7Z" fill="#ffe3e3"/>
<path d="M142.4 581.1L142.5 581.5L145.3 585.4L145.9 590.4L149.6 591.4L150.3 591.6L153.3 589.5L157.4 589.5L160.9 586.7L159.6 582.8L157.4 580.7L156.4 578.9L157.3 576.3L158.4 572.7L156.0 568.8L154.8 565.4L150.6 564.2L149.4 562.3L148.5 565.7L146.4 569.3L142.0 568.0L141.9 571.9L141.3 575.8L142.9 578.1Z" fill="#ffc6c6"/>
<path d="M160.6 621.7L165.7 625.7L168.7 625.7L168.0 624.9L171.3 624.9L175.6 622.8L179.4 623.8L180.7 621.1L180.7 619.9L177.6 618.1L173.8 615.7L171.7 614.5L167.5 616.1L166.5 614.6L165.3 610.8L162.0 609.1L159.7 607.6L158.2 606.8L155.4 605.5L154.2 608.0L153.3 614.0L150.6 614.3L146.2 614.4L142.9 613.3L140.8 615.1L138.6 617.6L135.8 616.3L137.2 619.7L141.0 621.8L139.0 623.0L140.4 626.6L141.1 626.3L144.6 626.6L148.1 624.4L149.0 623.7L149.1 622.1L152.4 622.5L154.1 622.1L155.9 623.6L156.9 624.1L158.6 622.2Z" fill="#ff3939"/>
<path d="M137.5 643.7L138.8 647.2L141.5 650.0L139.2 652.6L143.0 651.2L146.1 647.4L147.1 649.3L149.2 647.8L153.5 646.6L153.6 646.4L155.1 643.9L153.4 641.4L152.1 639.1L150.4 638.4L146.0 639.3L142.3 638.0L140.1 637.6L139.0 639.8Z" fill="#ffc6c6"/>
<path d="M142.0 715.7L143.9 717.1L146.9 719.3L148.9 720.5L150.0 720.2L149.3 718.1L152.2 712.2L156.0 709.6L154.8 708.7L155.0 705.0L156.9 700.8L156.0 697.4L156.3 696.1L152.3 695.0L151.4 696.1L148.4 697.9L143.9 697.3L141.2 699.1L139.7 698.6L137.8 701.7L135.4 702.4L136.9 704.3L137.7 707.2L136.5 710.1L140.3 712.9Z" fill="#ffc6c6"/>
<path d="M183.8 788.0L188.5 786.2L187.6 783.1L187.2 779.5L184.1 775.4L182.3 772.8L179.6 771.9L179.0 769.6L178.3 765.3L178.6 761.5L174.2 764.1L170.4 765.3L167.3 769.1L164.6 770.5L163.9 769.7L163.8 769.4L162.4 769.3L158.5 769.6L154.3 772.7L151.6 773.2L151.7 777.1L152.7 778.1L151.4 778.9L150.3 780.9L151.8 783.1L150.7 785.5L154.4 787.7L158.4 787.8L162.2 788.5L166.5 784.6L170.5 786.4L173.5 786.6L176.1 788.8L179.6 790.4L181.1 790.2L182.0 787.3Z" fill="#ffffff"/>
<path d="M148.1 750.0L149.5 746.6L151.1 745.4L153.7 741.6L154.6 739.3L155.9 736.6L153.0 732.8L155.3 730.5L157.3 729.0L157.6 725.1L155.4 725.0L151.0 722.8L150.0 720.2L148.9 720.5L146.9 719.3L143.4 721.2L141.2 726.6L142.4 729.5L141.5 731.4L140.8 735.6L139.2 739.5L142.9 744.2L144.8 747.3Z" fill="#ffe3e3"/>
<path d="M145.4 499.2L150.1 501.2L154.1 502.7L156.9 500.6L159.2 500.4L159.8 496.7L159.2 496.1L158.1 493.1L157.5 490.4L156.3 487.8L153.8 485.2L151.0 483.1L149.5 484.0L145.8 487.1L143.8 486.9L141.0 489.2L142.9 491.1L144.0 493.0L145.6 495.2L145.3 498.1Z" fill="#ffe3e3"/>
<path d="M153.1 595.5L153.6 598.2L156.1 600.8L155.3 603.2L155.4 605.5L158.2 606.8L159.7 607.6L162.7 609.2L165.8 605.6L168.9 603.1L171.5 602.6L173.8 602.7L176.4 601.4L175.4 598.3L177.4 595.6L175.5 592.6L173.7 588.3L171.0 586.3L167.3 586.6L164.8 587.2L163.1 589.5L160.9 586.7L157.4 589.5L153.3 589.5L150.3 591.6L151.5 594.0Z" fill="#ffe3e3"/>
<path d="M142.3 638.0L146.0 639.3L150.4 638.4L152.1 639.1L153.4 641.4L155.1 643.9L153.6 646.4L157.0 642.7L159.8 644.1L162.3 644.3L163.7 644.9L165.1 646.1L167.9 643.5L170.7 640.4L173.7 642.1L173.8 638.9L173.9 637.3L170.1 634.6L166.6 631.2L164.5 631.3L162.5 634.2L160.9 634.3L158.1 632.4L156.4 630.6L156.1 630.9L153.3 628.4L147.6 629.4L143.4 630.4L141.1 626.3L140.4 626.6L139.2 629.3L138.4 631.0L142.7 634.9Z" fill="#ffe3e3"/>
<path d="M135.4 662.7L140.4 661.1L143.8 660.3L145.6 661.8L146.8 663.4L150.1 661.4L154.9 660.6L158.7 660.0L158.2 656.6L159.0 654.9L154.6 653.0L154.7 650.2L153.5 646.6L149.2 647.8L147.1 649.3L146.1 647.4L143.0 651.2L139.2 652.6L138.0 656.1L136.6 659.2L134.8 660.2Z" fill="#ffc6c6"/>
<path d="M149.4 562.3L150.6 564.2L154.8 565.4L156.0 568.8L158.4 572.7L157.3 576.3L156.4 578.9L157.4 580.7L159.6 582.8L160.9 586.7L163.1 589.5L164.8 587.2L167.3 586.6L170.6 583.7L171.6 580.3L171.2 578.1L170.7 574.7L169.7 569.5L173.5 566.5L176.6 568.4L178.3 565.1L178.2 563.0L177.4 562.0L176.7 560.4L173.8 558.8L174.1 555.7L173.1 551.0L171.1 548.3L167.9 551.7L164.3 551.8L160.7 553.1L157.3 551.4L153.8 550.6L151.0 552.2L152.4 553.1L151.7 556.8L148.6 559.7Z" fill="#ffe3e3"/>
<path d="M156.4 630.6L158.1 632.4L160.9 634.3L162.5 634.2L164.5 631.3L166.6 631.2L170.1 634.6L173.9 637.3L173.8 638.9L173.7 642.1L174.2 642.4L177.9 641.5L182.0 640.5L185.0 637.8L187.0 640.5L189.7 639.9L193.6 640.1L190.3 637.8L189.9 635.7L188.7 633.3L189.7 629.7L186.6 625.3L185.9 622.7L182.5 622.0L180.7 621.1L179.4 623.8L175.6 622.8L171.3 624.9L168.0 624.9L168.7 625.7L165.7 625.7L160.6 621.7L158.6 622.2L156.9 624.1L155.9 623.6L154.1 622.1L152.4 622.5L149.1 622.1L149.0 623.7L148.1 624.4L144.6 626.6L141.1 626.3L143.4 630.4L147.6 629.4L153.3 628.4L156.1 630.9Z" fill="#ff1c1c"/>
<path d="M152.3 695.0L156.3 696.1L156.0 697.4L156.9 700.8L155.0 705.0L156.6 707.1L159.5 708.3L164.1 705.5L168.1 704.9L170.6 706.1L172.8 706.7L176.1 708.5L176.8 707.8L176.9 704.2L174.7 700.2L174.5 696.4L177.0 693.3L178.9 691.0L179.0 690.0L180.0 689.9L184.2 686.3L185.1 682.8L184.8 679.0L182.7 676.8L179.5 674.6L179.1 672.4L175.9 673.2L171.9 674.8L168.7 671.4L166.3 671.3L164.2 670.6L161.3 675.8L157.4 678.0L156.1 678.7L156.9 681.7L154.5 686.2L153.0 689.7L153.6 692.7Z" fill="#ffc6c6"/>
<path d="M196.7 642.6L197.3 641.5L193.6 640.1L189.7 639.9L187.0 640.5L185.0 637.8L182.0 640.5L177.9 641.5L174.2 642.4L173.7 642.1L170.7 640.4L167.9 643.5L165.1 646.1L163.7 644.9L162.3 644.3L159.8 644.1L157.0 642.7L153.6 646.4L153.5 646.6L154.7 650.2L154.6 653.0L159.0 654.9L158.2 656.6L158.7 660.0L158.8 661.4L162.0 660.4L164.2 657.8L166.1 657.2L169.0 653.8L171.6 653.4L176.1 651.0L178.9 651.3L182.4 651.0L184.5 651.7L187.6 647.4L190.9 648.6L193.8 648.5L195.7 647.3Z" fill="#ff1c1c"/>
<path d="M176.8 707.8L176.1 708.5L172.8 706.7L170.6 706.1L168.1 704.9L164.1 705.5L159.5 708.3L156.6 707.1L155.0 705.0L154.8 708.7L156.0 709.6L152.2 712.2L149.3 718.1L150.0 720.2L151.0 722.8L155.4 725.0L157.6 725.1L159.9 722.8L163.1 724.6L166.0 725.0L168.1 726.1L167.9 727.8L169.4 726.8L172.2 724.6L175.7 726.3L179.1 727.5L180.1 730.0L184.4 731.4L188.5 729.1L192.4 727.5L195.5 728.0L196.5 725.3L198.2 724.5L195.1 720.6L195.0 715.9L195.4 711.3L194.7 707.5L195.1 705.3L195.1 702.2L197.4 699.2L200.5 700.2L203.8 700.5L206.3 698.3L209.0 693.6L210.4 692.0L211.5 689.8L211.0 686.2L213.6 683.6L214.1 681.3L211.4 678.8L210.5 676.4L208.1 674.3L204.6 677.3L200.2 674.5L195.7 676.0L191.9 677.1L188.8 680.2L186.2 677.3L184.8 679.0L185.1 682.8L184.2 686.3L180.0 689.9L179.0 690.0L178.9 691.0L177.0 693.3L174.5 696.4L174.7 700.2L176.9 704.2Z" fill="#ff0000"/>
<path d="M183.3 524.2L182.2 522.2L179.6 522.9L176.3 525.0L175.1 525.8L173.3 526.8L170.3 526.2L167.7 523.7L165.0 524.7L162.6 529.3L159.4 528.5L157.1 528.4L154.7 525.6L152.8 530.7L147.9 534.5L147.4 535.9L149.5 537.7L150.3 539.8L153.8 542.1L154.9 542.1L156.9 537.2L159.6 537.1L162.3 536.1L167.5 539.3L170.2 541.0L173.5 539.5L176.3 537.9L179.7 538.0L182.0 538.7L182.9 540.2L184.0 537.0L184.8 537.1L188.2 535.2L192.3 532.8L194.1 533.1L195.1 528.1L199.1 527.7L201.1 529.6L202.2 530.4L205.7 533.7L205.2 531.0L205.1 528.3L204.6 525.5L201.6 522.1L198.6 517.8L196.7 517.1L195.0 519.5L192.0 520.4L189.4 523.8L185.6 521.5L184.0 522.8Z" fill="#ffe3e3"/>
<path d="M151.1 745.4L153.2 746.3L156.7 749.6L160.5 749.4L163.5 746.9L166.6 746.4L164.7 742.3L165.5 738.8L168.3 737.3L168.4 735.9L169.3 732.8L166.7 729.7L167.9 727.8L168.1 726.1L166.0 725.0L163.1 724.6L159.9 722.8L157.6 725.1L157.3 729.0L155.3 730.5L153.0 732.8L155.9 736.6L154.6 739.3L153.7 741.6Z" fill="#ffe3e3"/>
<path d="M150.7 798.3L151.5 801.9L153.6 804.5L155.9 805.7L160.5 808.8L160.9 813.7L161.9 812.9L162.9 811.9L166.0 810.8L170.0 806.4L171.4 804.9L172.0 799.9L173.7 796.9L174.9 793.8L177.8 793.4L181.1 790.2L179.6 790.4L176.1 788.8L173.5 786.6L170.5 786.4L166.5 784.6L162.2 788.5L158.4 787.8L154.4 787.7L150.7 785.5L152.4 791.3L152.8 796.7Z" fill="#ffffff"/>
<path d="M197.1 823.0L195.6 825.2L194.0 824.7L189.6 824.8L185.5 821.9L183.8 823.4L181.6 829.1L181.2 832.6L182.6 834.6L179.0 837.9L176.3 839.4L178.8 841.8L179.8 844.3L180.8 845.9L183.5 843.0L187.4 843.6L190.2 845.9L192.6 845.4L195.3 846.2L198.5 842.8L202.0 842.4L205.3 841.4L203.6 838.2L201.1 835.8L203.4 833.0L201.2 829.6L199.1 826.2Z" fill="#ff7171"/>
<path d="M165.3 610.8L166.5 614.6L167.5 616.1L171.7 614.5L173.8 615.7L177.6 618.1L180.7 619.9L180.1 617.6L182.2 615.8L184.3 612.3L181.5 607.5L182.1 603.5L179.3 601.9L176.8 601.4L176.4 601.4L173.8 602.7L171.5 602.6L168.9 603.1L165.8 605.6L162.7 609.2L159.7 607.6L162.0 609.1Z" fill="#ffc6c6"/>
<path d="M176.4 601.4L176.8 601.4L179.3 601.9L182.1 603.5L185.6 603.2L189.6 602.7L192.8 604.2L195.4 600.3L194.4 596.7L193.5 594.6L193.8 591.3L195.1 588.3L196.5 586.6L192.8 583.1L191.3 579.5L191.2 577.6L191.6 576.5L192.6 573.0L188.9 569.8L187.6 567.5L183.4 566.1L181.9 564.8L178.2 563.0L178.3 565.1L176.6 568.4L173.5 566.5L169.7 569.5L170.7 574.7L171.2 578.1L171.6 580.3L170.6 583.7L167.3 586.6L171.0 586.3L173.7 588.3L175.5 592.6L177.4 595.6L175.4 598.3Z" fill="#ff0000"/>
<path d="M166.6 746.4L169.8 746.2L173.3 749.6L176.6 751.7L179.7 748.0L180.8 746.5L180.5 743.0L182.2 742.6L185.1 740.0L186.0 735.9L183.7 732.7L184.4 731.4L180.1 730.0L179.1 727.5L175.7 726.3L172.2 724.6L169.4 726.8L167.9 727.8L166.7 729.7L169.3 732.8L168.4 735.9L168.3 737.3L165.5 738.8L164.7 742.3Z" fill="#ffc6c6"/>
<path d="M173.1 505.5L171.5 505.5L169.0 509.2L166.2 509.3L163.4 509.7L164.5 513.8L164.0 516.4L164.5 517.6L166.2 517.3L167.4 514.8L169.3 516.7L172.1 518.2L172.5 516.4L176.1 516.9L180.7 515.0L183.9 512.8L183.9 512.7L185.1 511.4L186.8 509.3L189.2 511.0L190.1 508.0L193.0 505.2L192.2 502.3L190.8 500.4L188.8 498.7L184.9 496.9L185.3 500.6L183.7 503.6L179.6 506.2L177.5 503.7L175.7 505.3Z" fill="#ff8e8e"/>
<path d="M169.0 653.8L166.1 657.2L164.2 657.8L162.0 660.4L158.8 661.4L158.6 665.3L163.1 667.6L163.5 669.0L164.2 670.6L166.3 671.3L168.7 671.4L171.9 674.8L175.9 673.2L179.1 672.4L179.5 674.6L182.7 676.8L184.8 679.0L186.2 677.3L188.8 680.2L191.9 677.1L195.7 676.0L200.2 674.5L204.6 677.3L208.1 674.3L205.6 672.0L207.0 670.2L207.7 667.8L207.1 666.8L205.3 662.4L200.6 658.4L199.2 657.1L198.2 655.8L197.5 653.1L194.1 650.5L193.8 648.5L190.9 648.6L187.6 647.4L184.5 651.7L182.4 651.0L178.9 651.3L176.1 651.0L171.6 653.4Z" fill="#ffc6c6"/>
<path d="M185.5 821.9L189.6 824.8L194.0 824.7L195.6 825.2L197.1 823.0L199.9 823.1L204.0 820.6L206.4 819.4L203.2 815.9L200.2 810.8L200.9 807.6L199.8 806.5L194.8 804.2L191.6 802.3L190.0 803.7L188.8 806.0L188.5 809.6L186.2 810.6L182.3 814.5L181.5 815.8L185.4 818.9Z" fill="#ffffff"/>
<path d="M180.7 621.1L182.5 622.0L185.9 622.7L187.5 620.6L190.3 620.1L193.2 619.8L195.8 619.5L198.4 618.1L201.1 614.9L201.0 612.8L204.1 609.9L203.0 606.4L199.6 605.4L196.9 603.4L194.7 601.3L195.4 600.3L192.8 604.2L189.6 602.7L185.6 603.2L182.1 603.5L181.5 607.5L184.3 612.3L182.2 615.8L180.1 617.6L180.7 619.9Z" fill="#ff1c1c"/>
<path d="M162.9 811.9L166.5 812.3L170.0 812.7L173.3 815.2L177.9 817.7L180.3 815.5L181.5 815.8L182.3 814.5L186.2 810.6L188.5 809.6L188.8 806.0L190.0 803.7L191.6 802.3L190.4 798.9L192.0 796.0L188.7 793.2L187.4 790.5L183.8 788.0L182.0 787.3L181.1 790.2L177.8 793.4L174.9 793.8L173.7 796.9L172.0 799.9L171.4 804.9L170.0 806.4L166.0 810.8Z" fill="#ffe3e3"/>
<path d="M180.3 761.2L182.2 763.2L183.2 762.6L186.0 761.4L190.2 759.9L192.0 760.8L194.1 758.8L196.7 757.1L199.7 752.0L201.2 749.4L197.8 748.9L194.8 749.0L190.3 747.7L187.4 747.1L186.3 746.3L182.2 742.6L180.5 743.0L180.8 746.5L179.7 748.0L176.6 751.7L174.1 754.8L176.2 757.0L176.9 759.0Z" fill="#ffe3e3"/>
<path d="M226.9 482.8L228.5 485.7L229.6 488.6L228.4 491.2L232.2 493.9L237.2 496.8L239.5 497.1L242.4 498.4L246.9 495.3L250.1 496.8L251.3 497.7L252.5 497.1L254.5 496.1L258.0 491.8L260.4 493.4L263.1 493.3L266.8 494.0L270.7 489.7L271.2 489.4L272.1 487.9L273.5 484.8L275.4 480.5L276.2 478.0L273.4 475.6L275.9 472.0L277.5 469.2L275.3 469.5L274.1 470.2L269.7 466.7L264.6 463.4L262.0 465.6L259.8 466.2L257.7 468.2L255.1 467.1L253.5 463.6L251.9 460.1L246.0 461.1L241.5 461.3L238.9 463.9L236.8 462.3L234.4 461.5L231.9 463.0L229.7 463.8L227.4 467.6L224.9 467.3L224.2 470.0L227.6 473.9L226.5 477.5L226.4 479.4L223.9 480.8Z" fill="#ffc6c6"/>
<path d="M351.2 466.5L354.6 467.1L356.5 470.2L361.1 471.4L366.0 472.3L366.6 472.4L367.5 471.6L370.8 467.8L369.0 465.2L368.2 462.5L366.4 459.3L369.9 456.4L367.9 453.3L365.0 453.1L361.4 451.4L358.4 453.0L355.1 455.2L351.2 454.6L349.1 454.6L347.9 453.0L350.9 456.3L351.0 460.0L350.7 463.5Z" fill="#ffaaaa"/>
<path d="M193.6 640.1L197.3 641.5L196.7 642.6L198.6 639.3L200.5 640.7L203.1 641.0L206.9 642.3L211.0 640.2L214.8 638.8L217.8 640.7L219.6 639.3L220.8 638.7L222.9 633.8L225.1 632.2L225.5 630.1L224.2 628.9L221.2 625.8L218.8 620.8L215.3 618.7L214.0 621.4L212.8 621.3L209.5 619.1L205.7 618.3L203.9 616.3L201.1 614.9L198.4 618.1L195.8 619.5L193.2 619.8L190.3 620.1L187.5 620.6L185.9 622.7L186.6 625.3L189.7 629.7L188.7 633.3L189.9 635.7L190.3 637.8Z" fill="#ff3939"/>
<path d="M178.2 563.0L181.9 564.8L183.4 566.1L187.6 567.5L188.9 569.8L192.6 573.0L191.6 576.5L194.9 575.3L198.0 574.6L201.2 569.2L204.4 568.3L204.6 566.4L205.7 562.6L203.9 560.5L204.5 558.0L203.3 553.3L201.7 549.0L196.8 547.7L195.0 548.4L194.3 549.5L190.9 550.4L188.6 552.6L187.7 554.3L187.7 555.2L185.3 557.5L180.1 557.7L177.4 562.0Z" fill="#ffe3e3"/>
<path d="M197.5 653.1L198.2 655.8L199.2 657.1L200.6 658.4L205.3 662.4L207.1 666.8L207.7 667.8L211.0 664.0L212.8 663.0L213.5 659.2L217.0 658.9L221.9 655.7L219.9 652.2L218.9 649.5L216.0 646.5L218.4 643.5L217.8 640.7L214.8 638.8L211.0 640.2L206.9 642.3L203.1 641.0L200.5 640.7L198.6 639.3L196.7 642.6L195.7 647.3L193.8 648.5L194.1 650.5Z" fill="#ff3939"/>
<path d="M193.0 505.2L194.5 508.7L197.4 507.0L202.6 506.5L207.4 504.8L203.9 501.6L205.3 499.3L205.5 497.8L206.9 496.6L204.0 493.6L198.8 490.4L196.0 491.7L194.1 492.8L192.2 494.7L189.4 494.7L185.7 492.2L185.4 494.3L184.9 496.9L188.8 498.7L190.8 500.4L192.2 502.3Z" fill="#ffe3e3"/>
<path d="M184.4 731.4L183.7 732.7L186.0 735.9L185.1 740.0L182.2 742.6L186.3 746.3L187.4 747.1L190.3 747.7L194.8 749.0L197.8 748.9L201.2 749.4L202.1 749.3L203.9 746.3L202.1 743.1L203.9 741.1L203.4 736.7L201.8 733.0L198.4 732.2L194.3 730.9L195.5 728.0L192.4 727.5L188.5 729.1Z" fill="#ffc6c6"/>
<path d="M178.6 761.5L178.3 765.3L179.0 769.6L179.6 771.9L182.3 772.8L184.1 775.4L187.2 779.5L187.6 783.1L188.5 786.2L192.7 785.9L195.8 781.2L192.9 779.1L192.2 777.5L191.4 774.0L194.1 768.3L191.6 763.3L190.2 759.9L186.0 761.4L183.2 762.6L182.2 763.2L180.3 761.2Z" fill="#ffc6c6"/>
<path d="M183.8 788.0L187.4 790.5L188.7 793.2L192.0 796.0L190.4 798.9L191.6 802.3L194.8 804.2L199.8 806.5L200.9 807.6L200.2 810.8L203.2 815.9L206.4 819.4L210.0 817.3L212.6 815.9L214.1 817.1L215.7 817.9L218.8 819.5L222.7 816.2L225.8 816.7L226.3 813.1L228.1 809.5L231.6 808.5L231.8 805.6L231.9 802.4L228.2 804.4L224.1 803.0L220.7 799.2L218.8 799.7L214.5 799.1L210.3 800.0L210.5 797.1L208.9 794.4L209.6 791.5L206.4 788.6L203.4 785.8L202.0 782.7L200.1 780.1L198.3 781.1L195.8 781.2L192.7 785.9L188.5 786.2Z" fill="#ffe3e3"/>
<path d="M237.2 606.3L237.6 602.8L236.7 600.4L236.6 597.9L235.4 595.7L232.5 592.1L228.5 587.8L230.1 586.8L226.4 586.3L224.0 585.5L222.5 582.8L221.1 585.3L219.0 587.2L216.1 587.9L214.6 591.2L211.3 589.4L207.9 591.7L205.5 591.2L201.5 587.9L196.8 588.4L195.1 588.3L193.8 591.3L193.5 594.6L194.4 596.7L195.4 600.3L194.7 601.3L196.9 603.4L199.6 605.4L203.0 606.4L205.3 606.1L207.2 605.8L208.8 601.6L212.4 599.6L214.1 601.3L216.7 603.5L217.3 606.3L221.3 609.5L222.9 612.5L225.3 610.6L228.1 609.2L231.2 605.4L234.4 606.3Z" fill="#ff0000"/>
<path d="M237.5 770.6L236.8 770.8L235.7 773.6L233.8 773.6L234.2 777.9L234.1 782.0L231.8 786.2L234.9 789.4L235.4 791.0L236.7 792.7L234.8 794.4L236.8 794.7L240.7 792.5L244.7 790.4L247.0 786.6L247.4 788.5L248.3 785.9L251.9 782.9L254.7 780.6L255.1 776.3L254.9 775.2L257.0 772.7L259.2 771.3L261.5 771.1L261.8 769.3L259.2 768.8L255.9 768.2L255.8 767.2L253.6 765.7L249.8 766.1L244.8 768.2L240.9 769.7Z" fill="#ffffff"/>
<path d="M194.3 549.5L195.0 548.4L196.8 547.7L199.0 546.2L202.4 541.8L205.8 540.6L208.5 537.5L209.9 538.1L210.3 536.0L209.3 535.3L205.7 533.7L202.2 530.4L201.1 529.6L199.1 527.7L195.1 528.1L194.1 533.1L192.3 532.8L188.2 535.2L184.8 537.1L189.2 539.3L191.3 542.0L194.9 545.8Z" fill="#ffe3e3"/>
<path d="M191.3 579.5L192.8 583.1L196.5 586.6L195.1 588.3L196.8 588.4L201.5 587.9L205.5 591.2L207.9 591.7L211.3 589.4L214.6 591.2L216.1 587.9L219.0 587.2L221.1 585.3L222.5 582.8L221.0 579.7L216.6 579.1L215.3 580.3L212.5 578.5L209.0 576.1L207.3 574.6L202.6 572.0L201.2 569.2L198.0 574.6L194.9 575.3L191.6 576.5L191.2 577.6Z" fill="#ff1c1c"/>
<path d="M190.2 759.9L191.6 763.3L194.1 768.3L191.4 774.0L192.2 777.5L192.9 779.1L195.8 781.2L198.3 781.1L200.1 780.1L202.0 782.7L205.4 779.5L208.6 778.5L208.8 776.1L207.6 772.0L204.3 766.8L205.8 762.8L205.5 759.7L205.2 756.7L201.2 754.0L199.7 752.0L196.7 757.1L194.1 758.8L192.0 760.8Z" fill="#ffc6c6"/>
<path d="M194.7 707.5L195.4 711.3L195.0 715.9L195.1 720.6L198.2 724.5L200.8 721.5L203.1 721.0L206.1 720.3L209.9 721.6L211.0 720.3L211.6 714.2L215.0 712.5L217.8 710.1L216.2 707.0L213.8 704.7L210.7 703.8L208.7 703.5L203.8 700.5L200.5 700.2L197.4 699.2L195.1 702.2L195.1 705.3Z" fill="#ffe3e3"/>
<path d="M206.9 496.6L209.7 494.6L211.3 492.6L213.6 489.0L218.7 491.2L222.5 488.6L224.6 486.9L226.9 482.8L223.9 480.8L226.4 479.4L226.5 477.5L227.6 473.9L224.2 470.0L224.9 467.3L221.5 467.7L219.1 468.0L218.5 470.1L217.6 473.5L214.9 474.1L212.6 477.0L210.7 479.0L208.0 479.5L204.3 480.2L200.1 477.3L203.4 482.4L201.2 487.0L200.7 489.2L198.8 490.4L204.0 493.6Z" fill="#ff0000"/>
<path d="M195.5 728.0L194.3 730.9L198.4 732.2L201.8 733.0L203.4 736.7L203.9 741.1L206.8 738.5L210.5 738.2L214.3 735.0L216.3 733.5L213.7 732.5L211.3 730.8L210.0 727.7L209.0 724.4L209.9 721.6L206.1 720.3L203.1 721.0L200.8 721.5L198.2 724.5L196.5 725.3Z" fill="#ff7171"/>
<path d="M199.7 752.0L201.2 754.0L204.9 756.3L208.2 755.8L211.6 755.7L215.8 752.0L219.7 753.7L222.1 754.1L224.5 754.4L225.9 751.1L222.5 748.6L221.4 746.6L221.5 744.9L220.6 742.6L219.5 738.3L216.6 734.2L216.3 733.5L214.3 735.0L210.5 738.2L206.8 738.5L203.9 741.1L202.1 743.1L203.9 746.3L202.1 749.3L201.2 749.4Z" fill="#ffffff"/>
<path d="M205.7 618.3L209.5 619.1L212.8 621.3L214.0 621.4L215.3 618.7L218.8 620.8L220.1 618.0L224.0 614.3L224.2 612.9L222.9 612.5L221.3 609.5L217.3 606.3L216.7 603.5L214.1 601.3L212.4 599.6L208.8 601.6L207.2 605.8L205.3 606.1L203.0 606.4L204.1 609.9L201.0 612.8L201.1 614.9L203.9 616.3Z" fill="#ff1c1c"/>
<path d="M205.7 533.7L209.3 535.3L210.3 536.0L211.4 533.5L213.3 533.1L216.7 529.8L216.2 526.6L216.3 523.6L213.3 521.0L215.6 517.9L216.4 513.8L216.6 510.3L214.9 512.4L211.1 511.0L208.8 507.7L206.3 511.5L204.3 512.4L201.9 515.8L198.6 517.8L201.6 522.1L204.6 525.5L205.1 528.3L205.2 531.0Z" fill="#ffe3e3"/>
<path d="M208.8 776.1L210.4 773.0L211.5 771.9L214.8 768.3L219.5 768.4L222.6 766.4L225.1 768.1L224.4 763.6L222.5 759.8L226.0 757.1L224.5 754.4L222.1 754.1L219.7 753.7L215.8 752.0L211.6 755.7L208.2 755.8L204.9 756.3L201.2 754.0L205.2 756.7L205.5 759.7L205.8 762.8L204.3 766.8L207.6 772.0Z" fill="#ffe3e3"/>
<path d="M208.1 674.3L210.5 676.4L211.4 678.8L214.1 681.3L213.6 683.6L217.5 681.1L221.3 681.8L224.6 684.2L227.1 684.0L229.6 682.9L227.2 678.0L226.7 673.7L228.6 671.3L229.4 669.6L230.8 666.3L227.7 661.9L228.7 659.1L226.3 661.3L223.4 660.0L221.9 655.7L217.0 658.9L213.5 659.2L212.8 663.0L211.0 664.0L207.7 667.8L207.0 670.2L205.6 672.0Z" fill="#ff7171"/>
<path d="M196.8 547.7L201.7 549.0L203.3 553.3L204.5 558.0L203.9 560.5L207.7 557.4L211.7 557.4L215.7 558.8L219.0 559.5L221.8 560.4L223.8 555.9L225.9 554.9L228.4 551.3L226.1 549.2L228.1 548.3L229.2 546.4L228.1 543.2L226.6 539.2L222.4 538.7L221.1 534.8L217.8 533.3L213.3 533.1L211.4 533.5L210.3 536.0L209.9 538.1L208.5 537.5L205.8 540.6L202.4 541.8L199.0 546.2Z" fill="#ff3939"/>
<path d="M217.8 710.1L221.8 712.8L224.7 710.3L225.7 707.8L225.7 705.4L226.4 702.6L228.7 702.3L230.2 698.5L230.1 696.6L227.5 694.2L225.8 690.6L226.8 687.1L227.1 684.0L224.6 684.2L221.3 681.8L217.5 681.1L213.6 683.6L211.0 686.2L211.5 689.8L210.4 692.0L209.0 693.6L206.3 698.3L203.8 700.5L208.7 703.5L210.7 703.8L213.8 704.7L216.2 707.0Z" fill="#ffe3e3"/>
<path d="M208.8 507.7L211.1 511.0L214.9 512.4L216.6 510.3L217.7 509.3L220.6 507.7L224.2 509.0L227.4 507.4L229.7 505.0L230.3 502.7L232.4 497.4L232.2 493.9L228.4 491.2L229.6 488.6L228.5 485.7L226.9 482.8L224.6 486.9L222.5 488.6L218.7 491.2L213.6 489.0L211.3 492.6L209.7 494.6L206.9 496.6L205.5 497.8L205.3 499.3L203.9 501.6L207.4 504.8Z" fill="#ffe3e3"/>
<path d="M210.3 800.0L214.5 799.1L218.8 799.7L220.7 799.2L224.1 803.0L228.2 804.4L231.9 802.4L233.6 800.5L233.1 795.7L234.8 794.4L236.7 792.7L235.4 791.0L231.6 787.4L227.2 786.7L224.3 785.4L223.9 784.2L219.6 785.0L217.4 782.4L213.7 777.9L209.9 777.9L208.6 778.5L205.4 779.5L202.0 782.7L203.4 785.8L206.4 788.6L209.6 791.5L208.9 794.4L210.5 797.1Z" fill="#ffe3e3"/>
<path d="M206.4 819.4L204.0 820.6L199.9 823.1L197.1 823.0L199.1 826.2L201.2 829.6L203.4 833.0L201.1 835.8L203.6 838.2L205.3 841.4L206.9 841.0L209.0 843.2L210.7 842.0L213.4 841.2L217.8 839.2L221.9 836.6L223.5 836.7L224.2 834.7L225.4 835.6L227.5 832.2L227.2 828.2L226.9 824.3L228.6 821.0L224.7 818.3L225.8 816.7L222.7 816.2L218.8 819.5L215.7 817.9L214.1 817.1L212.6 815.9L210.0 817.3Z" fill="#ffffff"/>
<path d="M216.6 734.2L217.7 731.3L220.8 730.4L224.3 729.2L226.7 727.9L228.6 727.6L230.9 723.4L229.5 720.9L225.0 718.2L226.4 715.3L225.2 712.6L224.7 710.3L221.8 712.8L217.8 710.1L215.0 712.5L211.6 714.2L211.0 720.3L209.9 721.6L209.0 724.4L210.0 727.7L211.3 730.8L213.7 732.5L216.3 733.5Z" fill="#ff5555"/>
<path d="M201.2 569.2L202.6 572.0L207.3 574.6L209.0 576.1L212.5 578.5L215.3 580.3L216.6 579.1L221.0 579.7L219.1 577.1L222.6 574.8L221.8 571.9L221.6 569.0L218.9 566.2L222.1 563.4L221.8 560.4L219.0 559.5L215.7 558.8L211.7 557.4L207.7 557.4L203.9 560.5L205.7 562.6L204.6 566.4L204.4 568.3Z" fill="#ff3939"/>
<path d="M221.9 655.7L223.4 660.0L226.3 661.3L228.7 659.1L231.6 658.9L234.8 656.8L237.7 658.6L237.6 653.8L240.6 650.5L241.2 649.5L239.2 646.4L237.2 644.1L236.1 641.4L236.1 638.5L231.4 635.0L228.3 632.9L225.1 632.2L222.9 633.8L220.8 638.7L219.6 639.3L217.8 640.7L218.4 643.5L216.0 646.5L218.9 649.5L219.9 652.2Z" fill="#ff3939"/>
<path d="M221.0 579.7L222.5 582.8L224.0 585.5L226.4 586.3L230.1 586.8L228.5 587.8L232.5 592.1L235.4 595.7L236.6 597.9L236.7 600.4L240.1 597.8L244.7 598.1L249.4 598.4L251.5 597.2L249.7 594.8L253.0 590.9L254.6 588.9L255.2 586.7L255.2 582.2L254.3 579.7L254.3 575.8L251.2 573.3L247.7 572.8L245.1 571.5L240.9 573.5L240.8 570.4L241.6 567.2L239.7 564.3L238.0 561.8L234.3 559.8L234.6 559.3L231.7 554.4L228.4 551.3L225.9 554.9L223.8 555.9L221.8 560.4L222.1 563.4L218.9 566.2L221.6 569.0L221.8 571.9L222.6 574.8L219.1 577.1Z" fill="#ffe3e3"/>
<path d="M224.5 754.4L226.0 757.1L222.5 759.8L224.4 763.6L225.1 768.1L228.8 770.3L228.4 769.9L229.2 770.0L233.8 773.6L235.7 773.6L236.8 770.8L237.5 770.6L238.1 767.0L240.1 762.8L240.1 759.4L238.9 757.4L237.2 755.1L236.1 753.2L234.3 752.6L231.2 750.4L228.0 748.2L225.9 751.1Z" fill="#ffffff"/>
<path d="M213.3 533.1L217.8 533.3L221.1 534.8L222.4 538.7L226.6 539.2L228.8 536.1L231.3 532.3L234.0 533.9L236.6 531.0L237.9 525.9L239.6 523.1L236.6 521.2L233.3 518.7L233.4 513.8L232.7 509.9L228.0 509.1L227.4 507.4L224.2 509.0L220.6 507.7L217.7 509.3L216.6 510.3L216.4 513.8L215.6 517.9L213.3 521.0L216.3 523.6L216.2 526.6L216.7 529.8Z" fill="#ff7171"/>
<path d="M233.8 773.6L229.2 770.0L228.4 769.9L228.8 770.3L225.1 768.1L222.6 766.4L219.5 768.4L214.8 768.3L211.5 771.9L210.4 773.0L208.8 776.1L208.6 778.5L209.9 777.9L213.7 777.9L217.4 782.4L219.6 785.0L223.9 784.2L224.3 785.4L227.2 786.7L231.6 787.4L235.4 791.0L234.9 789.4L231.8 786.2L234.1 782.0L234.2 777.9Z" fill="#ffe3e3"/>
<path d="M228.0 748.2L231.2 750.4L234.3 752.6L236.1 753.2L237.2 755.1L240.4 751.2L245.0 751.2L248.7 751.9L251.6 752.0L253.8 752.9L251.4 748.9L253.0 744.6L256.0 742.1L257.4 739.1L255.7 739.9L251.2 737.3L249.3 733.9L246.2 733.7L242.5 732.8L239.9 730.0L235.9 726.9L235.6 724.3L233.8 724.4L230.9 723.4L228.6 727.6L226.7 727.9L224.3 729.2L220.8 730.4L217.7 731.3L216.6 734.2L219.5 738.3L220.6 742.6L221.5 744.9L221.4 746.6L222.5 748.6L225.9 751.1Z" fill="#ffffff"/>
<path d="M218.8 620.8L221.2 625.8L224.2 628.9L225.5 630.1L225.1 632.2L228.3 632.9L231.4 635.0L234.0 634.0L235.9 630.2L237.2 629.2L239.6 625.1L243.7 624.1L246.6 620.4L243.2 619.3L241.3 616.9L239.6 614.0L240.1 611.3L239.8 608.8L237.2 606.3L234.4 606.3L231.2 605.4L228.1 609.2L225.3 610.6L222.9 612.5L224.2 612.9L224.0 614.3L220.1 618.0Z" fill="#ff3939"/>
<path d="M229.6 682.9L232.2 679.7L233.8 680.8L235.9 682.2L239.2 682.2L243.3 681.8L247.5 678.7L248.4 678.4L246.9 677.8L246.7 674.9L245.0 671.5L246.9 667.5L246.0 663.2L245.3 660.2L243.0 660.6L239.1 660.7L237.7 658.6L234.8 656.8L231.6 658.9L228.7 659.1L227.7 661.9L230.8 666.3L229.4 669.6L228.6 671.3L226.7 673.7L227.2 678.0Z" fill="#ff3939"/>
<path d="M227.4 507.4L228.0 509.1L232.7 509.9L233.4 513.8L233.3 518.7L236.6 521.2L239.6 523.1L242.0 520.9L243.5 518.9L244.8 519.9L247.2 515.0L249.6 513.0L250.3 508.6L250.4 505.8L254.5 503.9L254.0 500.5L251.3 497.7L250.1 496.8L246.9 495.3L242.4 498.4L239.5 497.1L237.2 496.8L232.2 493.9L232.4 497.4L230.3 502.7L229.7 505.0Z" fill="#ff7171"/>
<path d="M230.9 723.4L233.8 724.4L235.6 724.3L235.9 726.9L239.9 730.0L242.5 732.8L246.2 733.7L249.3 733.9L251.2 737.3L255.7 739.9L257.4 739.1L259.1 735.4L258.7 734.4L258.3 731.3L261.9 727.8L262.3 725.6L263.7 721.3L261.1 717.4L260.5 714.8L262.9 713.8L259.9 712.3L256.6 713.0L254.1 713.3L250.9 715.2L248.1 712.2L248.2 708.5L244.5 703.9L243.3 700.4L240.2 702.7L235.9 704.1L231.6 702.5L228.7 702.3L226.4 702.6L225.7 705.4L225.7 707.8L224.7 710.3L225.2 712.6L226.4 715.3L225.0 718.2L229.5 720.9Z" fill="#ff1c1c"/>
<path d="M227.1 684.0L226.8 687.1L225.8 690.6L227.5 694.2L230.1 696.6L230.2 698.5L228.7 702.3L231.6 702.5L235.9 704.1L240.2 702.7L243.3 700.4L241.8 699.4L243.4 695.9L248.1 693.6L248.2 692.1L246.5 687.7L247.1 685.0L245.5 681.8L247.5 678.7L243.3 681.8L239.2 682.2L235.9 682.2L233.8 680.8L232.2 679.7L229.6 682.9Z" fill="#ff1c1c"/>
<path d="M226.6 539.2L228.1 543.2L229.2 546.4L228.1 548.3L226.1 549.2L228.4 551.3L231.7 554.4L234.6 559.3L234.3 559.8L238.0 561.8L239.7 564.3L241.6 567.2L240.8 570.4L240.9 573.5L245.1 571.5L247.7 572.8L251.2 573.3L254.3 575.8L254.3 579.7L258.0 580.3L262.1 577.1L266.7 577.7L270.3 577.6L271.2 577.6L270.4 573.8L272.8 569.3L277.6 566.9L278.2 564.6L276.0 562.1L274.3 559.2L274.3 555.6L275.7 552.2L275.7 550.5L275.9 547.8L274.2 546.3L271.7 544.3L273.3 541.5L272.4 538.6L271.6 535.7L267.4 532.6L266.9 532.0L264.0 533.8L261.2 531.7L258.2 536.0L254.8 537.4L251.5 538.6L249.8 537.1L248.6 537.5L244.6 536.9L242.5 535.4L239.2 535.4L234.0 533.9L231.3 532.3L228.8 536.1Z" fill="#ff7171"/>
<path d="M231.4 635.0L236.1 638.5L236.1 641.4L237.2 644.1L239.2 646.4L241.5 643.0L245.0 642.9L250.5 643.0L255.4 645.2L259.0 641.7L262.0 641.5L264.1 640.9L266.1 640.7L265.3 639.9L261.2 636.9L259.6 633.0L258.7 628.8L258.7 626.5L254.5 626.6L253.1 625.3L248.8 621.5L247.4 619.7L246.6 620.4L243.7 624.1L239.6 625.1L237.2 629.2L235.9 630.2L234.0 634.0Z" fill="#ff3939"/>
<path d="M245.0 751.2L240.4 751.2L237.2 755.1L238.9 757.4L240.1 759.4L240.1 762.8L238.1 767.0L237.5 770.6L240.9 769.7L244.8 768.2L249.8 766.1L253.6 765.7L255.8 767.2L253.6 764.2L250.4 761.6L250.3 759.4L250.8 756.4L253.7 755.0L253.8 752.9L251.6 752.0L248.7 751.9Z" fill="#ffffff"/>
<path d="M237.2 606.3L239.8 608.8L240.1 611.3L239.6 614.0L241.3 616.9L243.2 619.3L246.6 620.4L247.4 619.7L248.8 621.5L251.5 618.2L256.7 618.3L259.4 615.1L260.0 613.6L261.2 607.7L263.7 607.2L260.0 603.5L259.5 600.6L257.7 599.3L254.3 598.6L251.5 597.2L249.4 598.4L244.7 598.1L240.1 597.8L236.7 600.4L237.6 602.8Z" fill="#ff3939"/>
<path d="M246.5 687.7L248.2 692.1L248.1 693.6L243.4 695.9L241.8 699.4L243.3 700.4L244.5 703.9L248.2 708.5L248.1 712.2L250.9 715.2L254.1 713.3L256.6 713.0L259.9 712.3L262.9 713.8L262.8 712.9L263.9 711.0L264.4 707.0L263.4 705.1L265.5 702.5L268.0 699.4L269.9 698.9L272.0 695.3L274.9 693.7L277.5 690.9L278.4 686.7L278.9 685.5L281.4 683.1L284.2 683.0L285.2 680.8L286.7 676.5L283.6 673.9L283.7 672.0L279.8 674.5L275.6 672.7L272.8 672.0L270.9 670.1L268.0 669.6L264.8 672.4L264.0 673.4L263.0 673.9L260.4 674.6L257.2 672.4L253.3 675.5L249.3 676.8L246.9 677.8L248.4 678.4L247.5 678.7L245.5 681.8L247.1 685.0Z" fill="#ff1c1c"/>
<path d="M270.7 489.7L266.8 494.0L263.1 493.3L260.4 493.4L258.0 491.8L254.5 496.1L252.5 497.1L251.3 497.7L254.0 500.5L254.5 503.9L250.4 505.8L250.3 508.6L249.6 513.0L247.2 515.0L244.8 519.9L243.5 518.9L242.0 520.9L239.6 523.1L237.9 525.9L236.6 531.0L234.0 533.9L239.2 535.4L242.5 535.4L244.6 536.9L248.6 537.5L249.8 537.1L251.5 538.6L254.8 537.4L258.2 536.0L261.2 531.7L264.0 533.8L266.9 532.0L267.5 528.7L267.7 525.6L266.4 523.0L265.3 520.4L267.2 516.2L268.2 515.0L270.4 512.8L270.3 508.9L268.1 504.4L269.9 502.1L270.7 500.5L273.5 495.4Z" fill="#ff3939"/>
<path d="M245.3 660.2L246.0 663.2L246.9 667.5L245.0 671.5L246.7 674.9L246.9 677.8L249.3 676.8L253.3 675.5L257.2 672.4L260.4 674.6L263.0 673.9L264.0 673.4L264.8 672.4L267.2 668.9L265.8 664.6L264.3 659.8L263.9 656.0L266.5 653.3L267.9 650.8L267.3 648.1L264.5 645.4L263.2 643.0L264.1 640.9L262.0 641.5L259.0 641.7L255.4 645.2L250.5 643.0L245.0 642.9L241.5 643.0L239.2 646.4L241.2 649.5L240.6 650.5L237.6 653.8L237.7 658.6L239.1 660.7L243.0 660.6Z" fill="#ff3939"/>
<path d="M328.6 476.6L331.2 477.3L334.4 475.1L336.9 476.7L340.1 480.1L343.8 479.0L345.9 478.7L347.8 476.1L350.2 472.7L351.8 471.3L351.2 466.5L350.7 463.5L351.0 460.0L350.9 456.3L347.9 453.0L346.0 456.3L342.4 457.8L339.0 457.8L336.3 457.6L334.1 456.2L332.5 459.8L330.0 461.5L327.5 462.0L324.8 461.7L325.3 464.7L325.3 468.0L330.2 472.4Z" fill="#ffc6c6"/>
<path d="M355.3 651.4L357.0 653.4L355.6 656.1L351.6 657.8L347.3 660.9L346.2 663.0L344.2 666.2L340.5 668.9L337.9 671.8L335.8 673.2L335.2 673.9L335.7 674.3L340.1 677.8L343.8 678.0L345.3 674.9L346.5 673.7L349.7 673.1L353.9 675.0L357.3 672.0L360.1 671.0L362.2 668.2L363.8 670.0L365.6 670.2L368.1 669.8L371.3 668.4L374.7 664.7L378.1 664.1L379.5 660.6L380.6 659.8L379.0 658.1L380.9 656.7L380.4 654.4L379.5 651.4L378.6 646.1L378.0 642.5L382.2 640.9L382.3 638.4L381.1 636.5L383.9 634.9L386.5 630.4L387.5 628.8L388.6 627.8L389.8 625.2L387.3 627.1L385.0 624.7L380.9 624.9L375.1 625.6L370.6 628.5L367.6 627.7L365.7 626.8L364.0 626.3L360.8 630.0L362.5 633.7L363.2 636.4L365.8 638.3L363.0 640.9L363.5 644.8L361.0 650.2L358.1 649.8Z" fill="#ffc6c6"/>
<path d="M264.1 640.9L263.2 643.0L264.5 645.4L267.3 648.1L271.9 651.7L273.5 652.9L276.2 651.9L281.3 652.1L284.6 651.9L286.2 656.0L287.5 653.8L289.5 651.8L292.0 648.9L294.9 646.9L296.6 647.2L295.9 644.5L294.9 641.6L290.6 638.1L288.4 634.0L288.8 629.5L286.8 626.7L285.9 625.9L283.7 627.2L280.1 625.6L276.2 626.4L273.5 628.8L271.4 629.4L269.1 633.2L267.0 635.4L265.3 639.9L266.1 640.7Z" fill="#ff3939"/>
<path d="M251.5 597.2L254.3 598.6L257.7 599.3L259.5 600.6L260.0 603.5L263.7 607.2L266.6 608.2L269.1 605.9L270.7 602.2L271.3 598.3L274.0 598.7L278.8 595.9L278.6 593.0L275.5 589.6L275.5 586.6L272.4 585.1L273.2 584.0L271.9 581.1L270.3 577.6L266.7 577.7L262.1 577.1L258.0 580.3L254.3 579.7L255.2 582.2L255.2 586.7L254.6 588.9L253.0 590.9L249.7 594.8Z" fill="#ff3939"/>
<path d="M265.3 639.9L267.0 635.4L269.1 633.2L271.4 629.4L273.5 628.8L276.2 626.4L280.1 625.6L278.4 621.2L276.9 619.6L273.2 618.2L270.8 615.6L268.8 612.8L269.9 610.3L266.6 608.2L263.7 607.2L261.2 607.7L260.0 613.6L259.4 615.1L256.7 618.3L251.5 618.2L248.8 621.5L253.1 625.3L254.5 626.6L258.7 626.5L258.7 628.8L259.6 633.0L261.2 636.9Z" fill="#ff3939"/>
<path d="M264.8 672.4L268.0 669.6L270.9 670.1L272.8 672.0L275.6 672.7L279.8 674.5L283.7 672.0L284.8 668.3L285.3 666.8L283.6 664.7L283.9 661.2L287.3 658.2L286.2 656.0L284.6 651.9L281.3 652.1L276.2 651.9L273.5 652.9L271.9 651.7L267.3 648.1L267.9 650.8L266.5 653.3L263.9 656.0L264.3 659.8L265.8 664.6L267.2 668.9Z" fill="#ff1c1c"/>
<path d="M268.2 515.0L267.2 516.2L265.3 520.4L266.4 523.0L267.7 525.6L267.5 528.7L266.9 532.0L267.4 532.6L271.6 535.7L272.4 538.6L273.3 541.5L271.7 544.3L274.2 546.3L275.9 547.8L277.3 547.8L279.9 548.0L284.7 548.9L289.3 547.2L293.0 545.2L296.3 543.5L296.7 540.0L298.4 538.9L296.7 536.1L297.7 533.8L298.3 531.1L297.2 528.6L295.5 526.2L291.0 523.9L292.4 522.3L292.4 518.5L290.7 514.6L288.2 513.8L284.4 513.8L282.5 510.5L281.4 506.7L284.8 503.1L284.9 500.8L284.2 499.8L282.2 496.3L278.2 494.6L276.6 492.6L271.2 489.4L270.7 489.7L273.5 495.4L270.7 500.5L269.9 502.1L268.1 504.4L270.3 508.9L270.4 512.8Z" fill="#ffc6c6"/>
<path d="M297.2 612.7L295.0 610.5L293.9 608.1L292.5 605.8L293.8 603.3L293.1 602.2L289.1 599.0L286.8 596.9L285.1 598.1L281.0 598.4L278.8 595.9L274.0 598.7L271.3 598.3L270.7 602.2L269.1 605.9L266.6 608.2L269.9 610.3L268.8 612.8L270.8 615.6L273.2 618.2L276.9 619.6L278.4 621.2L280.1 625.6L283.7 627.2L285.9 625.9L285.9 625.1L286.6 620.9L289.6 619.3L293.7 614.9Z" fill="#ff3939"/>
<path d="M296.6 647.2L299.6 645.4L302.8 644.3L305.7 642.1L307.4 644.0L309.9 645.9L314.2 645.6L318.8 646.1L320.7 642.0L320.9 639.3L320.1 637.1L316.8 634.7L318.6 631.6L318.2 628.1L319.1 625.7L315.3 623.7L315.1 620.2L311.6 619.0L308.1 615.9L307.7 616.4L305.3 618.8L300.3 616.8L297.1 614.9L297.2 612.7L293.7 614.9L289.6 619.3L286.6 620.9L285.9 625.1L285.9 625.9L286.8 626.7L288.8 629.5L288.4 634.0L290.6 638.1L294.9 641.6L295.9 644.5Z" fill="#ff3939"/>
<path d="M335.8 673.2L334.1 670.6L336.5 666.9L336.4 662.3L334.6 658.9L333.1 656.9L333.6 655.0L333.6 653.7L328.4 652.1L325.1 648.9L322.4 646.1L319.6 646.0L318.8 646.3L315.6 650.0L318.8 652.8L318.1 657.1L317.8 660.8L314.8 661.8L318.0 663.6L317.2 667.9L316.7 671.9L320.4 671.2L323.3 673.1L325.5 673.5L327.4 670.6L329.1 670.5L332.2 671.7L335.2 673.9Z" fill="#ff7171"/>
<path d="M282.5 510.5L284.4 513.8L288.2 513.8L290.7 514.6L292.4 518.5L292.4 522.3L295.7 521.4L298.0 517.4L299.7 516.5L301.9 512.8L305.2 511.1L304.2 509.7L300.7 506.9L300.5 503.9L301.3 501.0L299.8 497.8L296.6 494.2L293.7 494.6L290.9 494.3L287.9 494.9L285.5 498.3L284.2 499.8L284.9 500.8L284.8 503.1L281.4 506.7Z" fill="#ffe3e3"/>
<path d="M283.7 672.0L283.6 673.9L286.7 676.5L289.5 677.1L292.4 676.4L295.3 677.0L298.8 672.9L302.5 673.8L306.0 673.8L304.7 670.1L302.7 665.7L304.8 662.3L300.7 661.2L298.8 658.7L298.9 654.2L298.3 650.2L294.9 646.9L292.0 648.9L289.5 651.8L287.5 653.8L286.2 656.0L287.3 658.2L283.9 661.2L283.6 664.7L285.3 666.8L284.8 668.3Z" fill="#ff7171"/>
<path d="M278.8 595.9L281.0 598.4L285.1 598.1L286.8 596.9L289.1 599.0L293.1 602.2L293.8 603.3L297.4 601.8L299.7 598.0L301.0 594.2L302.8 592.7L305.2 589.3L302.1 587.1L299.6 586.6L301.2 584.7L299.1 581.1L297.4 577.6L294.8 574.3L298.2 573.0L297.8 571.5L294.1 567.8L290.3 566.9L285.4 566.1L282.7 566.5L281.6 567.9L278.2 564.6L277.6 566.9L272.8 569.3L270.4 573.8L271.2 577.6L270.3 577.6L271.9 581.1L273.2 584.0L272.4 585.1L275.5 586.6L275.5 589.6L278.6 593.0Z" fill="#ff3939"/>
<path d="M275.7 552.2L274.3 555.6L274.3 559.2L276.0 562.1L278.2 564.6L281.6 567.9L282.7 566.5L285.4 566.1L290.3 566.9L294.1 567.8L297.8 571.5L299.8 567.8L302.2 564.9L304.4 563.0L305.5 561.1L302.9 559.5L302.7 555.6L302.0 552.8L301.4 552.1L297.4 550.7L295.2 546.9L296.3 543.5L293.0 545.2L289.3 547.2L284.7 548.9L279.9 548.0L277.3 547.8L275.9 547.8L275.7 550.5Z" fill="#ffffff"/>
<path d="M299.9 486.6L303.5 487.5L305.8 489.7L308.3 491.8L313.1 489.4L317.2 490.3L319.7 490.7L323.3 493.0L325.1 493.5L327.5 488.7L327.3 485.0L325.6 483.3L327.9 479.9L328.6 476.6L330.2 472.4L325.3 468.0L325.3 464.7L324.8 461.7L321.6 462.9L317.6 467.4L315.0 468.1L314.8 470.1L313.5 468.8L309.6 469.6L306.3 470.3L304.2 470.8L303.3 472.5L301.6 470.7L297.9 468.0L298.6 472.4L297.4 477.1L297.6 480.2L300.1 481.9L301.8 484.1Z" fill="#ffc6c6"/>
<path d="M284.2 499.8L285.5 498.3L287.9 494.9L290.9 494.3L293.7 494.6L296.6 494.2L298.9 488.6L299.9 486.6L301.8 484.1L300.1 481.9L297.6 480.2L297.4 477.1L298.6 472.4L297.9 468.0L293.0 468.9L289.5 469.1L287.0 471.9L285.4 473.0L283.2 473.2L281.7 470.9L277.5 469.2L275.9 472.0L273.4 475.6L276.2 478.0L275.4 480.5L273.5 484.8L272.1 487.9L271.2 489.4L276.6 492.6L278.2 494.6L282.2 496.3Z" fill="#ffc6c6"/>
<path d="M291.0 523.9L295.5 526.2L297.2 528.6L298.3 531.1L297.7 533.8L300.6 533.3L304.8 530.8L308.7 533.4L311.3 533.7L313.8 535.4L317.7 532.9L320.9 528.3L318.7 526.5L318.1 524.5L318.3 520.5L320.6 516.0L320.9 513.1L318.4 511.7L317.2 511.8L315.4 513.2L311.7 510.1L307.7 509.6L305.2 511.1L301.9 512.8L299.7 516.5L298.0 517.4L295.7 521.4L292.4 522.3Z" fill="#ffe3e3"/>
<path d="M297.8 571.5L298.2 573.0L294.8 574.3L297.4 577.6L299.1 581.1L301.2 584.7L299.6 586.6L302.1 587.1L305.2 589.3L307.3 592.4L309.6 592.7L312.2 592.4L314.7 591.7L317.4 588.9L320.7 590.1L322.4 586.3L322.9 582.2L322.7 580.7L322.4 576.8L326.7 572.9L323.2 571.5L321.2 571.5L317.6 569.6L314.8 568.0L312.3 567.9L308.2 565.4L305.5 561.1L304.4 563.0L302.2 564.9L299.8 567.8Z" fill="#ffe3e3"/>
<path d="M297.2 612.7L297.1 614.9L300.3 616.8L305.3 618.8L307.7 616.4L308.1 615.9L309.2 613.8L310.5 610.9L313.3 607.8L311.3 606.7L311.7 602.7L315.3 596.8L314.7 594.1L314.7 591.7L312.2 592.4L309.6 592.7L307.3 592.4L305.2 589.3L302.8 592.7L301.0 594.2L299.7 598.0L297.4 601.8L293.8 603.3L292.5 605.8L293.9 608.1L295.0 610.5Z" fill="#ffc6c6"/>
<path d="M305.2 511.1L307.7 509.6L311.7 510.1L315.4 513.2L317.2 511.8L318.4 511.7L320.5 508.3L322.0 505.2L324.1 502.8L322.5 498.6L321.7 494.3L323.3 493.0L319.7 490.7L317.2 490.3L313.1 489.4L308.3 491.8L305.8 489.7L303.5 487.5L299.9 486.6L298.9 488.6L296.6 494.2L299.8 497.8L301.3 501.0L300.5 503.9L300.7 506.9L304.2 509.7Z" fill="#ffe3e3"/>
<path d="M296.3 543.5L295.2 546.9L297.4 550.7L301.4 552.1L302.0 552.8L302.7 555.6L302.9 559.5L305.6 558.7L310.9 556.7L314.8 554.2L314.9 551.8L317.0 548.7L321.0 546.2L324.2 542.5L323.1 539.2L320.5 536.0L320.5 534.1L317.7 532.9L313.8 535.4L311.3 533.7L308.7 533.4L304.8 530.8L300.6 533.3L297.7 533.8L296.7 536.1L298.4 538.9L296.7 540.0Z" fill="#ff3939"/>
<path d="M296.6 647.2L294.9 646.9L298.3 650.2L298.9 654.2L298.8 658.7L300.7 661.2L304.8 662.3L302.7 665.7L304.7 670.1L306.0 673.8L306.9 674.5L309.4 675.2L312.5 671.6L316.7 671.9L317.2 667.9L318.0 663.6L314.8 661.8L317.8 660.8L318.1 657.1L318.8 652.8L315.6 650.0L318.8 646.3L318.8 646.1L314.2 645.6L309.9 645.9L307.4 644.0L305.7 642.1L302.8 644.3L299.6 645.4Z" fill="#ff7171"/>
<path d="M305.5 561.1L308.2 565.4L312.3 567.9L314.8 568.0L317.6 569.6L321.2 571.5L323.2 571.5L326.7 572.9L326.8 573.0L326.1 571.6L325.9 570.4L323.3 567.0L325.6 562.6L326.5 559.6L326.2 557.7L324.1 554.6L324.4 549.3L326.7 544.2L324.2 542.5L321.0 546.2L317.0 548.7L314.9 551.8L314.8 554.2L310.9 556.7L305.6 558.7L302.9 559.5Z" fill="#ff3939"/>
<path d="M308.1 615.9L311.6 619.0L315.1 620.2L318.8 619.9L322.8 617.0L326.0 614.7L328.8 614.3L327.2 610.6L326.3 608.4L324.8 607.1L326.9 604.9L327.9 601.2L326.1 597.1L323.6 596.6L320.2 594.2L320.7 590.1L317.4 588.9L314.7 591.7L314.7 594.1L315.3 596.8L311.7 602.7L311.3 606.7L313.3 607.8L310.5 610.9L309.2 613.8Z" fill="#ff3939"/>
<path d="M317.7 532.9L320.5 534.1L320.5 536.0L324.0 535.8L327.3 535.7L330.5 533.5L333.8 530.1L337.1 530.1L337.2 527.1L339.1 524.0L335.7 520.8L335.2 516.8L334.8 513.0L333.8 512.5L332.0 513.2L326.9 512.9L322.3 509.1L320.5 508.3L318.4 511.7L320.9 513.1L320.6 516.0L318.3 520.5L318.1 524.5L318.7 526.5L320.9 528.3Z" fill="#ffaaaa"/>
<path d="M320.9 639.3L322.4 641.3L324.4 638.7L327.2 637.1L330.3 632.6L333.4 632.8L336.0 631.3L332.9 626.6L335.8 623.1L334.4 621.9L333.5 620.6L329.4 618.4L327.9 615.8L328.8 614.3L326.0 614.7L322.8 617.0L318.8 619.9L315.1 620.2L315.3 623.7L319.1 625.7L318.2 628.1L318.6 631.6L316.8 634.7L320.1 637.1Z" fill="#ffe3e3"/>
<path d="M320.7 590.1L320.2 594.2L323.6 596.6L326.1 597.1L330.0 595.5L334.0 595.6L337.4 597.3L340.5 598.3L343.6 595.7L347.0 595.8L347.5 591.8L343.9 588.9L345.6 587.6L345.9 586.0L347.5 582.9L344.5 578.9L342.3 576.9L340.8 573.8L336.8 574.1L332.4 575.3L331.3 574.1L329.2 575.4L326.8 573.0L326.7 572.9L322.4 576.8L322.7 580.7L322.9 582.2L322.4 586.3Z" fill="#ffaaaa"/>
<path d="M326.8 573.0L329.2 575.4L331.3 574.1L334.1 571.1L335.2 565.8L337.7 564.9L338.3 564.2L336.8 560.3L339.2 558.7L343.1 555.6L341.1 554.6L342.2 549.3L340.9 546.2L341.3 543.3L345.6 539.2L344.2 537.8L344.4 535.8L342.4 534.5L339.6 532.7L338.0 530.9L337.1 530.1L333.8 530.1L330.5 533.5L327.3 535.7L324.0 535.8L320.5 536.0L323.1 539.2L324.2 542.5L326.7 544.2L324.4 549.3L324.1 554.6L326.2 557.7L326.5 559.6L325.6 562.6L323.3 567.0L325.9 570.4L326.1 571.6Z" fill="#ffe3e3"/>
<path d="M336.0 631.3L333.4 632.8L330.3 632.6L327.2 637.1L324.4 638.7L322.4 641.3L320.9 639.3L320.7 642.0L318.8 646.1L318.8 646.3L319.6 646.0L322.4 646.1L325.1 648.9L328.4 652.1L333.6 653.7L333.6 655.0L337.6 652.5L341.8 648.4L344.1 648.2L344.0 647.5L342.9 645.0L344.3 642.0L343.7 638.8L345.1 635.8L346.0 631.6L347.5 632.1L351.6 630.3L355.3 631.2L357.5 628.2L359.7 627.6L358.3 625.5L356.5 621.7L354.1 618.6L353.4 616.3L349.4 616.8L346.9 617.3L344.7 614.3L341.0 613.7L338.8 615.2L336.4 617.5L333.5 620.6L334.4 621.9L335.8 623.1L332.9 626.6Z" fill="#ffc6c6"/>
<path d="M364.0 626.3L359.7 627.6L357.5 628.2L355.3 631.2L351.6 630.3L347.5 632.1L346.0 631.6L345.1 635.8L343.7 638.8L344.3 642.0L342.9 645.0L344.0 647.5L344.1 648.2L341.8 648.4L337.6 652.5L333.6 655.0L333.1 656.9L334.6 658.9L336.4 662.3L336.5 666.9L334.1 670.6L335.8 673.2L337.9 671.8L340.5 668.9L344.2 666.2L346.2 663.0L347.3 660.9L351.6 657.8L355.6 656.1L357.0 653.4L355.3 651.4L358.1 649.8L361.0 650.2L363.5 644.8L363.0 640.9L365.8 638.3L363.2 636.4L362.5 633.7L360.8 630.0Z" fill="#ffe3e3"/>
<path d="M320.5 508.3L322.3 509.1L326.9 512.9L332.0 513.2L333.8 512.5L334.8 513.0L337.9 510.3L341.4 511.4L343.0 507.3L340.0 503.1L340.6 500.5L342.6 499.6L343.2 498.0L341.6 495.4L337.8 492.6L332.6 492.9L329.5 492.0L327.8 492.3L325.1 493.5L323.3 493.0L321.7 494.3L322.5 498.6L324.1 502.8L322.0 505.2Z" fill="#ffaaaa"/>
<path d="M344.7 614.3L345.7 612.4L346.6 607.6L343.5 602.2L346.8 599.2L347.3 595.9L347.0 595.8L343.6 595.7L340.5 598.3L337.4 597.3L334.0 595.6L330.0 595.5L326.1 597.1L327.9 601.2L326.9 604.9L324.8 607.1L326.3 608.4L327.2 610.6L328.8 614.3L327.9 615.8L329.4 618.4L333.5 620.6L336.4 617.5L338.8 615.2L341.0 613.7Z" fill="#ffaaaa"/>
<path d="M334.8 513.0L335.2 516.8L335.7 520.8L339.1 524.0L337.2 527.1L337.1 530.1L338.0 530.9L339.6 532.7L344.2 528.3L348.0 523.7L346.2 521.9L348.8 518.7L354.1 517.4L354.0 513.0L350.7 512.3L349.4 512.8L345.8 512.7L341.4 511.4L337.9 510.3Z" fill="#ffaaaa"/>
<path d="M343.1 555.6L346.6 553.7L348.9 554.3L352.2 555.1L351.4 554.8L352.2 551.6L354.3 546.6L355.6 543.4L356.9 541.7L352.2 539.1L351.6 536.5L349.0 533.6L346.0 533.6L344.4 535.8L344.2 537.8L345.6 539.2L341.3 543.3L340.9 546.2L342.2 549.3L341.1 554.6Z" fill="#ffc6c6"/>
<path d="M331.3 574.1L332.4 575.3L336.8 574.1L340.8 573.8L342.3 576.9L344.5 578.9L345.9 577.4L350.1 575.2L354.1 571.5L356.9 572.7L359.6 571.4L357.1 568.3L354.4 565.2L355.3 562.2L354.6 559.3L352.2 555.1L348.9 554.3L346.6 553.7L343.1 555.6L339.2 558.7L336.8 560.3L338.3 564.2L337.7 564.9L335.2 565.8L334.1 571.1Z" fill="#ffc6c6"/>
<path d="M341.4 511.4L345.8 512.7L349.4 512.8L350.7 512.3L354.0 513.0L357.1 515.7L360.6 514.2L359.6 512.3L360.0 510.9L360.6 507.4L360.2 503.7L357.9 500.6L354.7 498.0L353.9 495.4L354.7 492.6L354.6 492.6L350.0 490.3L346.2 492.7L344.9 494.7L343.2 498.0L342.6 499.6L340.6 500.5L340.0 503.1L343.0 507.3Z" fill="#ffaaaa"/>
<path d="M343.2 498.0L344.9 494.7L346.2 492.7L350.0 490.3L354.6 492.6L352.7 489.5L351.1 485.6L347.4 481.3L345.9 478.7L343.8 479.0L340.1 480.1L336.9 476.7L334.4 475.1L331.2 477.3L328.6 476.6L327.9 479.9L325.6 483.3L327.3 485.0L327.5 488.7L325.1 493.5L327.8 492.3L329.5 492.0L332.6 492.9L337.8 492.6L341.6 495.4Z" fill="#ffe3e3"/>
<path d="M344.7 614.3L346.9 617.3L349.4 616.8L353.4 616.3L354.1 618.6L356.5 621.7L358.6 617.5L362.8 616.6L363.2 612.4L364.2 608.4L365.1 604.3L362.0 601.7L364.4 599.1L362.3 596.2L358.8 596.7L356.2 597.5L353.6 599.3L350.5 596.1L347.3 595.9L346.8 599.2L343.5 602.2L346.6 607.6L345.7 612.4Z" fill="#ffc6c6"/>
<path d="M347.3 595.9L350.5 596.1L353.6 599.3L356.2 597.5L358.8 596.7L362.3 596.2L364.0 593.4L365.5 592.8L365.2 589.2L365.5 586.8L367.5 583.5L366.8 581.9L365.6 579.9L362.1 576.9L364.4 573.2L362.0 573.0L359.6 571.4L356.9 572.7L354.1 571.5L350.1 575.2L345.9 577.4L344.5 578.9L347.5 582.9L345.9 586.0L345.6 587.6L343.9 588.9L347.5 591.8L347.0 595.8Z" fill="#ffc6c6"/>
<path d="M344.4 535.8L346.0 533.6L349.0 533.6L353.5 531.8L357.2 531.7L359.6 528.7L361.1 524.4L362.3 523.0L360.6 519.8L361.5 517.0L361.2 515.5L360.6 514.2L357.1 515.7L354.0 513.0L354.1 517.4L348.8 518.7L346.2 521.9L348.0 523.7L344.2 528.3L339.6 532.7L342.4 534.5Z" fill="#ff8e8e"/>
<path d="M360.6 514.2L361.2 515.5L361.5 517.0L360.6 519.8L362.3 523.0L367.7 525.3L367.7 528.6L370.3 531.9L371.4 533.5L376.0 533.9L377.9 531.6L381.8 529.7L384.3 529.7L384.6 528.3L386.3 523.7L387.5 522.3L387.8 521.2L387.5 519.9L385.9 516.5L383.7 511.3L380.9 508.7L378.3 507.7L375.9 505.6L374.3 505.1L372.1 505.7L369.7 503.9L366.7 506.7L363.3 507.5L360.0 510.9L359.6 512.3Z" fill="#ff8e8e"/>
<path d="M354.6 492.6L354.7 492.6L358.0 489.2L360.7 487.6L363.3 483.8L366.0 484.5L368.5 483.3L370.9 483.4L372.9 481.2L370.4 478.3L369.9 474.4L367.5 471.6L366.6 472.4L366.0 472.3L361.1 471.4L356.5 470.2L354.6 467.1L351.2 466.5L351.8 471.3L350.2 472.7L347.8 476.1L345.9 478.7L347.4 481.3L351.1 485.6L352.7 489.5Z" fill="#ffe3e3"/>
<path d="M349.0 533.6L351.6 536.5L352.2 539.1L356.9 541.7L360.0 541.0L363.4 543.3L366.4 540.5L368.8 539.3L371.7 537.6L375.3 540.0L376.3 538.2L376.0 533.9L371.4 533.5L370.3 531.9L367.7 528.6L367.7 525.3L362.3 523.0L361.1 524.4L359.6 528.7L357.2 531.7L353.5 531.8Z" fill="#ff8e8e"/>
<path d="M356.5 621.7L358.3 625.5L359.7 627.6L364.0 626.3L365.7 626.8L367.6 627.7L370.6 628.5L375.1 625.6L380.9 624.9L385.0 624.7L387.3 627.1L389.8 625.2L390.2 624.6L386.9 622.8L385.6 619.0L385.2 616.1L383.6 614.5L383.1 612.8L380.2 610.4L378.7 609.4L375.3 609.8L371.5 608.3L369.2 604.7L365.1 604.3L364.2 608.4L363.2 612.4L362.8 616.6L358.6 617.5Z" fill="#ff7171"/>
<path d="M352.2 555.1L354.6 559.3L355.3 562.2L354.4 565.2L357.1 568.3L359.6 571.4L362.0 573.0L364.4 573.2L366.3 568.5L368.4 569.4L370.9 568.4L373.7 567.6L374.7 563.8L372.6 559.2L372.4 555.8L375.6 554.5L375.4 553.2L375.9 549.9L375.8 548.9L372.8 545.2L375.5 542.1L375.3 540.0L371.7 537.6L368.8 539.3L366.4 540.5L363.4 543.3L360.0 541.0L356.9 541.7L355.6 543.4L354.3 546.6L352.2 551.6L351.4 554.8Z" fill="#ff3939"/>
<path d="M354.7 492.6L353.9 495.4L354.7 498.0L357.9 500.6L360.2 503.7L360.6 507.4L360.0 510.9L363.3 507.5L366.7 506.7L369.7 503.9L372.1 505.7L374.3 505.1L376.9 501.8L377.6 498.9L377.9 494.1L375.2 488.8L377.6 485.4L378.6 483.1L376.5 480.4L372.9 481.2L370.9 483.4L368.5 483.3L366.0 484.5L363.3 483.8L360.7 487.6L358.0 489.2Z" fill="#ff8e8e"/>
<path d="M369.9 474.4L370.4 478.3L372.9 481.2L376.5 480.4L378.6 483.1L381.5 483.7L383.4 484.3L385.6 484.6L388.1 481.2L390.3 480.4L392.2 477.6L393.7 475.5L394.7 474.3L391.5 472.7L388.6 469.1L386.5 465.4L386.9 462.4L385.6 459.9L385.6 458.1L385.3 457.3L383.4 455.4L381.0 454.1L379.8 453.6L379.1 453.2L377.8 451.8L375.0 454.1L371.4 455.1L367.9 453.3L369.9 456.4L366.4 459.3L368.2 462.5L369.0 465.2L370.8 467.8L367.5 471.6Z" fill="#ff8e8e"/>
<path d="M380.2 610.4L383.1 612.8L383.6 614.5L385.2 616.1L385.6 619.0L386.9 622.8L390.2 624.6L392.5 623.8L394.7 620.2L398.7 619.1L402.6 617.5L405.6 619.5L407.7 617.7L409.0 615.7L411.6 611.4L414.0 607.5L414.7 608.0L412.9 605.4L415.4 601.8L415.8 598.6L415.6 597.0L416.8 592.5L415.7 592.2L413.3 590.3L410.1 588.3L408.3 588.2L405.4 590.0L400.8 591.4L395.9 590.6L392.6 588.9L390.8 589.9L390.7 589.6L389.0 589.6L385.8 592.1L381.1 588.9L377.7 587.6L376.0 589.0L373.5 589.0L369.4 590.0L365.5 586.8L365.2 589.2L365.5 592.8L364.0 593.4L362.3 596.2L364.4 599.1L362.0 601.7L365.1 604.3L369.2 604.7L371.5 608.3L375.3 609.8L378.7 609.4Z" fill="#ff7171"/>
<path d="M375.8 548.9L377.1 548.6L379.3 549.2L383.4 550.2L385.5 553.3L387.8 553.7L393.1 551.6L397.3 554.4L399.6 553.3L401.1 550.7L395.4 546.3L395.6 545.9L393.8 545.6L390.7 542.7L386.2 538.6L385.1 534.7L382.8 531.8L381.8 529.7L377.9 531.6L376.0 533.9L376.3 538.2L375.3 540.0L375.5 542.1L372.8 545.2Z" fill="#ff7171"/>
<path d="M365.5 586.8L369.4 590.0L373.5 589.0L376.0 589.0L377.7 587.6L381.1 588.9L385.8 592.1L389.0 589.6L389.0 586.9L389.0 584.2L386.5 580.5L389.4 576.7L390.4 574.5L390.8 573.0L387.7 570.2L383.3 569.3L381.2 566.2L378.5 566.6L373.7 567.6L370.9 568.4L368.4 569.4L366.3 568.5L364.4 573.2L362.1 576.9L365.6 579.9L366.8 581.9L367.5 583.5Z" fill="#ff8e8e"/>
<path d="M375.9 549.9L375.4 553.2L375.6 554.5L372.4 555.8L372.6 559.2L374.7 563.8L373.7 567.6L378.5 566.6L381.2 566.2L383.3 569.3L387.7 570.2L390.8 573.0L392.2 571.0L393.7 567.3L392.1 564.3L392.1 563.2L395.2 560.4L395.7 556.8L397.3 554.4L393.1 551.6L387.8 553.7L385.5 553.3L383.4 550.2L379.3 549.2L377.1 548.6L375.8 548.9Z" fill="#ff7171"/>
<path d="M389.0 589.6L390.7 589.6L390.8 589.9L392.6 588.9L395.9 590.6L400.8 591.4L405.4 590.0L408.3 588.2L410.1 588.3L413.3 590.3L416.2 584.3L414.8 579.9L413.3 577.3L411.7 574.5L409.7 573.4L405.5 575.0L402.5 574.4L401.2 571.2L399.0 570.4L396.4 568.4L393.7 567.3L392.2 571.0L390.8 573.0L390.4 574.5L389.4 576.7L386.5 580.5L389.0 584.2L389.0 586.9Z" fill="#ff8e8e"/>
<path d="M375.9 505.6L378.3 507.7L380.9 508.7L383.7 511.3L385.9 516.5L387.5 519.9L387.8 521.2L390.8 516.7L394.1 515.5L397.6 511.8L400.4 511.1L402.1 507.7L403.0 507.7L404.3 505.1L404.5 504.1L401.6 502.0L399.7 499.5L398.9 496.3L394.1 493.6L393.7 490.9L392.7 488.3L393.7 485.6L389.2 482.9L388.1 481.2L385.6 484.6L383.4 484.3L381.5 483.7L378.6 483.1L377.6 485.4L375.2 488.8L377.9 494.1L377.6 498.9L376.9 501.8L374.3 505.1Z" fill="#ffc6c6"/>
<path d="M385.6 459.9L386.9 462.4L386.5 465.4L388.6 469.1L391.5 472.7L394.7 474.3L393.7 475.5L394.0 475.7L396.9 473.6L398.9 469.2L397.5 466.6L398.5 463.4L398.0 459.5L401.8 459.4L403.3 456.0L400.3 456.2L397.8 454.3L395.5 452.0L392.9 450.9L390.1 451.1L386.9 452.2L383.4 455.4L385.3 457.3L385.6 458.1Z" fill="#ff8e8e"/>
<path d="M388.1 481.2L389.2 482.9L393.7 485.6L392.7 488.3L393.7 490.9L394.1 493.6L398.9 496.3L399.7 499.5L401.6 502.0L404.5 504.1L407.4 503.2L410.3 497.6L411.6 494.7L412.5 493.8L415.4 491.7L417.9 488.8L418.9 483.5L418.1 481.7L415.2 481.9L413.1 483.2L413.2 481.6L411.9 480.3L408.9 477.1L404.7 479.8L401.4 479.1L397.7 478.1L394.0 475.7L393.7 475.5L392.2 477.6L390.3 480.4Z" fill="#ff8e8e"/>
<path d="M401.1 550.7L402.9 551.8L399.5 547.0L400.4 542.2L401.6 537.9L401.1 534.8L398.5 533.3L398.9 531.8L397.4 528.0L395.3 525.9L389.3 525.2L386.3 523.7L384.6 528.3L384.3 529.7L381.8 529.7L382.8 531.8L385.1 534.7L386.2 538.6L390.7 542.7L393.8 545.6L395.6 545.9L395.4 546.3Z" fill="#ff7171"/>
<path d="M397.3 554.4L395.7 556.8L395.2 560.4L392.1 563.2L392.1 564.3L393.7 567.3L396.4 568.4L399.0 570.4L401.2 571.2L402.5 574.4L405.5 575.0L409.7 573.4L411.7 574.5L415.9 572.0L417.8 570.7L417.0 570.8L417.5 566.3L417.5 562.5L417.7 559.4L416.4 560.1L412.4 559.1L411.4 554.7L408.6 551.4L406.2 552.2L404.7 552.5L402.9 551.8L401.1 550.7L399.6 553.3Z" fill="#ffffff"/>
<path d="M418.9 483.5L417.9 488.8L415.4 491.7L412.5 493.8L411.6 494.7L410.3 497.6L407.4 503.2L404.5 504.1L404.3 505.1L403.0 507.7L402.1 507.7L400.4 511.1L397.6 511.8L394.1 515.5L390.8 516.7L387.8 521.2L387.5 522.3L386.3 523.7L389.3 525.2L395.3 525.9L397.4 528.0L398.9 531.8L401.7 529.8L405.0 528.2L408.7 526.8L412.8 527.6L415.8 529.1L417.1 526.4L417.0 524.2L416.3 522.0L418.7 518.8L422.9 516.7L426.2 514.8L429.3 514.7L432.4 513.7L435.4 513.7L438.5 511.4L441.5 509.9L441.6 509.9L442.8 508.1L443.3 505.3L445.2 507.1L446.9 508.7L450.9 509.8L455.1 509.0L457.6 507.3L461.0 511.0L466.6 511.2L470.8 511.4L472.9 509.8L473.4 509.2L475.3 506.6L473.6 505.5L473.7 502.2L474.3 499.1L473.6 496.2L473.9 493.6L469.5 492.1L466.9 490.2L463.3 487.6L465.5 484.9L460.8 483.2L459.0 480.8L456.0 477.6L455.6 476.5L452.1 476.1L447.7 476.5L444.0 475.3L441.3 472.5L438.5 475.8L435.9 476.5L432.8 480.4L429.9 480.0L427.0 482.1L424.2 480.9L421.6 481.9L418.1 481.7Z" fill="#ff8e8e"/>
<path d="M442.3 566.4L438.2 566.4L435.8 566.4L433.7 569.2L429.4 566.9L424.1 566.2L420.0 564.9L417.5 566.3L417.0 570.8L417.8 570.7L415.9 572.0L411.7 574.5L413.3 577.3L414.8 579.9L416.2 584.3L413.3 590.3L415.7 592.2L416.8 592.5L418.1 591.3L420.9 591.2L423.4 589.3L425.5 590.7L427.5 591.1L430.1 590.1L432.9 589.9L435.6 586.3L438.1 586.2L441.0 582.9L445.8 580.6L446.8 579.3L444.2 576.0L445.2 573.7L447.6 573.1L444.5 570.2L444.3 568.0Z" fill="#ffffff"/>
<path d="M417.5 566.3L420.0 564.9L424.1 566.2L429.4 566.9L433.7 569.2L435.8 566.4L438.2 566.4L442.3 566.4L441.8 563.7L440.3 561.3L438.2 558.7L440.3 555.4L440.2 551.6L440.8 548.6L435.3 550.0L431.3 547.1L429.4 545.6L426.7 544.2L425.4 547.0L422.6 550.2L419.7 551.0L420.2 554.6L421.2 557.3L417.7 559.4L417.5 562.5Z" fill="#ffffff"/>
<path d="M398.9 531.8L398.5 533.3L401.1 534.8L401.6 537.9L400.4 542.2L399.5 547.0L402.9 551.8L404.7 552.5L405.4 548.7L405.7 547.8L409.1 543.1L414.5 541.1L416.1 536.9L416.9 538.0L419.9 535.2L420.8 532.2L419.4 529.2L417.1 526.4L415.8 529.1L412.8 527.6L408.7 526.8L405.0 528.2L401.7 529.8Z" fill="#ff7171"/>
<path d="M394.0 475.7L397.7 478.1L401.4 479.1L404.7 479.8L408.9 477.1L411.9 480.3L413.2 481.6L415.4 478.3L416.3 476.1L418.3 473.1L418.5 468.9L418.1 468.2L417.9 464.7L416.1 461.4L414.1 458.8L413.6 457.1L409.7 456.8L407.5 455.6L406.8 454.4L403.3 456.0L401.8 459.4L398.0 459.5L398.5 463.4L397.5 466.6L398.9 469.2L396.9 473.6Z" fill="#ffc6c6"/>
<path d="M419.9 535.2L420.4 535.4L421.0 538.1L422.2 540.7L426.6 542.8L426.7 544.2L429.4 545.6L431.3 547.1L435.3 550.0L440.8 548.6L440.4 545.4L442.5 543.0L447.8 540.7L447.7 538.6L444.5 536.6L445.1 534.5L444.3 531.8L443.9 531.3L446.1 528.0L443.8 524.8L443.2 521.5L439.5 517.7L440.8 513.5L440.1 511.0L441.6 509.9L441.5 509.9L438.5 511.4L435.4 513.7L432.4 513.7L429.3 514.7L426.2 514.8L422.9 516.7L418.7 518.8L416.3 522.0L417.0 524.2L417.1 526.4L419.4 529.2L420.8 532.2Z" fill="#ffc6c6"/>
<path d="M426.7 544.2L426.6 542.8L422.2 540.7L421.0 538.1L420.4 535.4L419.9 535.2L416.9 538.0L416.1 536.9L414.5 541.1L409.1 543.1L405.7 547.8L405.4 548.7L404.7 552.5L406.2 552.2L408.6 551.4L411.4 554.7L412.4 559.1L416.4 560.1L417.7 559.4L421.2 557.3L420.2 554.6L419.7 551.0L422.6 550.2L425.4 547.0Z" fill="#ffe3e3"/>
<path d="M457.2 545.4L458.0 547.7L456.5 552.0L461.0 556.0L461.5 558.2L462.0 560.0L460.9 562.5L463.2 561.7L465.7 558.6L468.2 558.4L470.6 557.7L473.3 555.4L475.5 554.0L476.8 549.3L477.5 547.8L477.5 544.5L480.1 541.1L478.2 538.0L477.4 535.6L475.9 534.0L472.8 532.7L472.2 533.2L471.2 535.6L469.3 540.0L466.7 540.2L463.6 541.5L460.4 541.7Z" fill="#ffe3e3"/>
<path d="M441.6 509.9L440.1 511.0L440.8 513.5L439.5 517.7L443.2 521.5L443.8 524.8L446.1 528.0L443.9 531.3L444.3 531.8L449.2 530.8L452.7 528.0L455.5 527.5L458.8 529.1L462.6 527.9L466.2 526.1L469.0 523.7L471.6 525.8L471.1 523.0L468.4 519.6L468.0 516.1L468.5 514.0L469.6 512.9L472.9 509.8L470.8 511.4L466.6 511.2L461.0 511.0L457.6 507.3L455.1 509.0L450.9 509.8L446.9 508.7L445.2 507.1L443.3 505.3L442.8 508.1Z" fill="#ffc6c6"/>
<path d="M442.3 566.4L444.3 568.0L444.5 570.2L447.6 573.1L448.1 572.5L450.1 569.0L451.5 567.4L453.8 565.4L456.0 567.1L458.4 566.0L460.9 562.5L462.0 560.0L461.5 558.2L461.0 556.0L456.5 552.0L458.0 547.7L457.2 545.4L456.1 544.9L453.6 545.0L449.9 544.1L447.8 540.7L442.5 543.0L440.4 545.4L440.8 548.6L440.2 551.6L440.3 555.4L438.2 558.7L440.3 561.3L441.8 563.7Z" fill="#ffc6c6"/>
<path d="M444.3 531.8L445.1 534.5L444.5 536.6L447.7 538.6L447.8 540.7L449.9 544.1L453.6 545.0L456.1 544.9L457.2 545.4L460.4 541.7L463.6 541.5L466.7 540.2L469.3 540.0L471.2 535.6L472.2 533.2L472.8 532.7L472.2 531.3L471.2 529.7L469.7 527.7L471.6 525.8L469.0 523.7L466.2 526.1L462.6 527.9L458.8 529.1L455.5 527.5L452.7 528.0L449.2 530.8Z" fill="#ffe3e3"/>
</g>
<path class="ol" d="M32.7 660.0L34.6 656.8L35.4 654.5L37.1 651.2L36.8 646.5L36.3 643.2L37.8 641.3L39.0 638.7L41.2 636.2L42.1 633.8L41.4 630.2L42.8 627.3L43.7 624.4L45.0 620.0L43.5 615.9L44.7 613.6L44.7 611.1L44.6 608.6L43.4 605.6L41.5 602.3L44.5 598.5L48.0 596.1L49.2 593.4L50.1 592.0L53.7 588.9L57.1 587.5L58.4 584.3L58.5 582.3L60.4 579.3L61.8 576.7L63.6 574.4L66.3 569.5L66.5 566.8L66.7 565.3L67.7 562.3L67.8 560.0L69.9 557.7L72.1 554.0L69.6 550.1L67.5 546.8L66.0 544.8L66.7 542.6L64.0 539.9L62.8 537.0L61.5 533.9L62.4 530.7L60.3 527.3L59.6 524.4L58.1 522.0L59.3 519.9L58.7 517.9L57.9 515.1L56.8 511.1L56.3 507.2L57.9 504.1L57.1 501.5L58.0 499.8L57.5 496.8L59.2 493.4L61.6 489.9L62.7 486.4L64.1 485.1L66.1 483.3L68.9 481.8L71.4 481.4L73.6 479.0L75.3 478.2L77.2 475.4L80.1 474.2L83.5 471.8L86.8 473.7L88.4 477.4L91.4 478.9L92.9 478.4L94.6 479.9L98.7 483.0L101.8 484.4L103.8 483.5L106.4 484.0L108.9 485.5L110.8 486.3L114.3 487.4L117.9 486.4L121.0 485.1L124.0 485.6L127.0 485.8L130.0 487.0L132.9 485.3L135.6 484.9L138.5 484.6L141.9 485.3L145.3 486.3L148.6 484.2L150.8 483.5L152.7 482.0L155.3 483.3L158.3 482.4L161.6 482.3L165.2 479.7L169.0 479.3L172.5 478.4L175.5 479.1L178.1 478.7L180.8 477.9L184.3 476.5L187.9 476.2L190.6 478.4L193.3 478.7L195.1 478.7L196.7 479.1L200.2 478.0L204.0 479.5L207.6 479.2L210.5 478.7L212.9 477.4L215.0 474.9L217.2 473.7L218.4 470.8L219.5 468.7L221.8 468.1L224.5 466.9L227.3 467.0L229.9 464.0L232.2 463.2L234.8 462.1L237.2 462.3L239.5 463.0L242.4 461.5L246.5 461.4L251.4 460.7L253.3 463.5L255.4 466.3L257.9 467.7L260.2 466.3L262.5 465.7L265.2 464.2L269.4 466.7L273.2 469.3L275.1 469.4L278.1 469.8L281.1 471.4L282.9 473.1L285.4 472.5L287.6 471.4L290.3 469.2L294.1 469.0L298.9 469.2L302.2 471.5L304.2 470.7L306.5 470.4L309.5 470.0L312.8 469.5L314.6 469.7L315.8 467.8L318.4 466.8L321.7 463.4L324.7 462.2L327.4 461.9L329.9 461.0L332.4 459.5L334.4 457.1L336.7 457.7L339.4 457.6L342.4 457.3L345.4 456.3L347.7 453.9L349.5 454.6L351.8 454.4L355.4 454.6L358.6 453.2L361.7 452.1L365.2 453.0L368.9 453.5L372.8 454.4L376.4 452.7L378.8 453.5L380.7 453.6L383.6 454.6L387.5 452.5L390.5 451.6L393.4 451.1L395.7 452.2L397.9 453.9L400.7 455.4L403.7 455.2L406.1 454.8L407.4 456.0L409.7 457.1L413.0 457.7L414.1 459.5L416.1 461.9L418.0 464.6L418.8 467.5L418.5 469.2L417.9 472.9L416.2 475.9L415.1 478.8L413.8 482.5L416.4 481.8L419.5 482.2L422.0 482.3L424.6 481.3L427.3 481.5L430.1 479.8L432.9 479.5L435.9 476.8L438.7 475.8L441.6 473.4L444.4 475.2L447.8 476.0L451.7 475.9L454.9 476.7L456.3 478.0L459.3 480.5L461.1 483.1L464.6 485.3L464.0 488.1L467.1 490.5L469.5 492.4L473.1 494.2L473.5 496.9L474.3 499.8L474.5 502.9L474.0 505.8L474.5 507.4L472.8 509.9L470.2 512.9L469.0 514.6L468.3 516.9L469.0 520.7L471.2 524.3L470.0 527.4L471.9 529.6L472.8 531.6L475.1 533.5L477.4 535.6L478.0 538.1L479.3 541.1L477.8 544.2L477.8 547.3L476.7 549.3L475.2 553.2L473.2 555.2L470.8 557.4L468.5 558.5L466.2 559.4L463.9 562.0L460.7 563.6L457.6 566.6L454.7 566.0L452.1 567.6L450.2 569.0L447.8 571.6L447.0 573.3L444.9 575.7L446.3 579.6L445.0 581.3L441.4 583.6L439.0 586.5L436.4 586.9L433.7 589.3L431.0 589.7L428.4 590.6L426.1 590.6L423.8 590.0L421.2 591.5L418.5 591.8L416.6 594.4L415.8 597.0L415.3 598.4L415.1 601.5L413.7 604.8L414.8 607.6L413.7 608.3L411.6 611.6L409.3 615.2L407.8 617.4L405.3 618.9L402.1 618.1L398.5 619.4L394.8 620.5L392.2 623.5L389.6 625.4L387.3 628.1L386.1 630.2L384.0 634.0L381.7 636.1L381.9 638.4L381.6 641.0L378.8 643.1L378.9 646.4L379.1 650.7L379.9 653.7L380.5 656.1L379.7 658.1L380.9 660.3L379.4 661.5L377.7 664.2L374.8 665.3L371.9 668.2L368.8 669.3L366.2 669.8L364.0 669.9L361.9 669.1L359.5 671.0L356.7 672.0L353.5 674.2L349.9 673.4L346.8 674.1L345.0 675.2L342.9 677.4L339.6 677.0L335.8 674.6L333.7 672.9L331.4 671.7L329.5 670.7L327.3 670.9L325.1 672.7L322.7 672.6L319.9 671.7L316.3 672.2L312.7 672.2L309.8 674.5L307.2 674.2L304.4 673.8L301.5 673.7L298.5 673.9L295.7 676.2L292.9 676.3L290.1 677.1L287.3 677.1L285.1 680.2L283.8 682.4L281.5 683.4L279.3 685.8L278.3 687.4L277.1 690.8L274.7 693.3L272.2 695.0L270.2 698.0L268.2 699.1L265.9 701.8L264.1 704.4L264.1 706.7L263.3 710.2L262.6 712.8L262.0 714.7L261.2 717.5L263.2 721.6L262.0 725.4L261.5 728.0L259.1 731.4L259.0 734.5L258.7 736.2L257.1 739.7L255.7 742.5L253.3 745.1L252.2 749.2L253.7 752.7L252.8 754.8L251.1 756.8L250.6 759.6L251.3 762.1L254.2 764.8L255.5 767.7L258.7 768.7L261.4 769.6L262.4 771.3L260.1 771.9L257.8 773.3L255.6 775.4L255.0 777.0L254.1 780.5L251.7 782.7L248.9 785.4L247.6 787.9L246.3 787.4L243.8 790.3L240.3 792.3L236.9 794.2L234.1 795.3L233.8 799.2L232.5 802.2L231.4 805.2L230.7 808.6L228.3 810.4L226.8 813.6L226.1 817.0L225.1 819.1L227.7 821.9L227.0 825.0L227.5 828.5L228.0 832.1L225.8 834.8L224.2 834.9L223.0 836.8L221.1 837.5L217.6 839.3L213.9 840.8L211.2 841.6L209.1 842.6L206.7 841.6L203.4 842.6L199.9 842.8L196.5 845.1L193.4 845.2L190.6 845.6L187.7 844.0L184.0 843.6L181.2 845.2L179.5 843.8L177.1 843.0L174.5 843.3L171.6 844.9L168.7 846.5L165.6 848.5L162.1 849.2L158.5 848.1L155.5 848.4L153.0 847.8L151.4 847.2L148.1 846.2L146.2 843.2L143.3 840.4L140.1 839.4L138.2 838.9L135.4 837.5L134.6 834.9L132.1 833.7L128.6 835.2L124.9 835.5L121.6 836.7L118.9 834.9L116.0 834.8L112.3 835.0L108.1 835.9L104.4 835.2L102.5 836.1L100.9 838.8L98.8 840.0L96.3 843.7L95.6 845.9L94.7 849.2L92.2 851.9L89.3 854.1L86.2 857.2L84.3 859.1L83.4 861.0L80.5 859.5L76.9 860.9L73.5 861.5L70.7 862.6L69.2 861.4L65.8 858.8L61.4 857.6L59.3 857.5L57.5 856.7L53.8 858.1L50.5 857.9L48.0 857.3L45.5 858.5L42.4 859.6L40.4 859.0L35.7 856.4L32.7 853.2L31.1 852.4L30.7 849.8L30.0 847.4L27.8 844.4L29.0 841.0L30.9 839.7L32.7 836.9L35.2 835.3L37.7 831.2L38.4 828.3L38.7 827.2L40.4 824.6L42.6 822.3L44.6 818.5L46.3 815.5L44.6 813.5L41.9 811.4L41.0 807.6L40.4 803.7L40.2 801.1L38.0 798.5L37.1 795.6L37.2 792.4L37.3 789.3L33.2 787.0L31.0 784.4L29.1 782.4L27.7 781.5L23.5 780.1L23.6 776.4L23.2 772.4L24.7 769.1L24.9 766.8L23.6 764.5L23.9 761.1L23.7 757.6L25.8 755.3L26.0 754.0L25.0 751.7L24.3 748.6L23.3 745.4L24.6 742.2L23.0 738.5L23.8 736.1L24.1 733.0L25.2 729.3L28.1 727.2L28.4 724.7L28.1 721.7L28.7 719.8L28.6 717.7L28.3 715.5L26.7 713.1L24.0 710.9L22.3 708.7L19.0 706.4L17.3 704.4L14.4 703.0L11.7 701.7L9.7 699.5L9.6 695.8L12.2 693.3L12.8 690.4L12.1 686.9L12.5 684.7L12.7 683.2L14.6 680.9L14.3 677.2L13.1 673.4L14.0 670.7L14.5 668.4L16.1 665.6L15.4 662.8L14.4 660.5L17.5 660.4L21.6 658.6L25.4 659.8L28.1 660.0L30.1 661.0Z"/>
<text x="11.5" y="23.5" class="t" textLength="167.5" lengthAdjust="spacingAndGlyphs">Potencjał retencji</text>
<text x="11.4" y="462" class="t" textLength="161.5" lengthAdjust="spacingAndGlyphs">Potrzeba retencji</text>
<text x="545.5" y="69.0" class="lt" textLength="156.5" lengthAdjust="spacingAndGlyphs">Potencjał [0-1]:</text>
<rect x="545.7" y="82.9" width="37.6" height="21.2" rx="0.8" fill="#f7fbff" stroke="#0a0a0a" stroke-width="1.3"/>
<text x="595.0" y="101.9" class="ll" textLength="63.8" lengthAdjust="spacingAndGlyphs">0 - 0.1</text>
<rect x="545.7" y="118.1" width="37.6" height="21.2" rx="0.8" fill="#e2edf8" stroke="#0a0a0a" stroke-width="1.3"/>
<text x="595.0" y="137.1" class="ll" textLength="84.8" lengthAdjust="spacingAndGlyphs">0.1 - 0.2</text>
<rect x="545.7" y="153.3" width="37.6" height="21.2" rx="0.8" fill="#cde0f1" stroke="#0a0a0a" stroke-width="1.3"/>
<text x="595.0" y="172.3" class="ll" textLength="84.8" lengthAdjust="spacingAndGlyphs">0.2 - 0.3</text>
<rect x="545.7" y="188.5" width="37.6" height="21.2" rx="0.8" fill="#afd1e7" stroke="#0a0a0a" stroke-width="1.3"/>
<text x="595.0" y="207.5" class="ll" textLength="84.8" lengthAdjust="spacingAndGlyphs">0.3 - 0.4</text>
<rect x="545.7" y="223.7" width="37.6" height="21.2" rx="0.8" fill="#89bedc" stroke="#0a0a0a" stroke-width="1.3"/>
<text x="595.0" y="242.7" class="ll" textLength="84.8" lengthAdjust="spacingAndGlyphs">0.4 - 0.5</text>
<rect x="545.7" y="258.9" width="37.6" height="21.2" rx="0.8" fill="#60a6d2" stroke="#0a0a0a" stroke-width="1.3"/>
<text x="595.0" y="277.9" class="ll" textLength="84.8" lengthAdjust="spacingAndGlyphs">0.5 - 0.6</text>
<rect x="545.7" y="294.1" width="37.6" height="21.2" rx="0.8" fill="#3e8ec4" stroke="#0a0a0a" stroke-width="1.3"/>
<text x="595.0" y="313.1" class="ll" textLength="84.8" lengthAdjust="spacingAndGlyphs">0.6 - 0.7</text>
<rect x="545.7" y="329.3" width="37.6" height="21.2" rx="0.8" fill="#2171b5" stroke="#0a0a0a" stroke-width="1.3"/>
<text x="595.0" y="348.3" class="ll" textLength="84.8" lengthAdjust="spacingAndGlyphs">0.7 - 0.8</text>
<rect x="545.7" y="364.5" width="37.6" height="21.2" rx="0.8" fill="#0a549e" stroke="#0a0a0a" stroke-width="1.3"/>
<text x="595.0" y="383.5" class="ll" textLength="84.8" lengthAdjust="spacingAndGlyphs">0.8 - 0.9</text>
<rect x="545.7" y="399.7" width="37.6" height="21.2" rx="0.8" fill="#08306b" stroke="#0a0a0a" stroke-width="1.3"/>
<text x="595.0" y="418.7" class="ll" textLength="63.8" lengthAdjust="spacingAndGlyphs">0.9 - 1</text>
<text x="545.5" y="459.5" class="lt" textLength="151.5" lengthAdjust="spacingAndGlyphs">Potrzeba [0-1]:</text>
<rect x="545.7" y="473.7" width="37.6" height="21.2" rx="0.8" fill="#ffffff" stroke="#0a0a0a" stroke-width="1.3"/>
<text x="595.0" y="492.7" class="ll" textLength="63.8" lengthAdjust="spacingAndGlyphs">0 - 0.1</text>
<rect x="545.7" y="508.9" width="37.6" height="21.2" rx="0.8" fill="#ffe3e3" stroke="#0a0a0a" stroke-width="1.3"/>
<text x="595.0" y="527.9" class="ll" textLength="84.8" lengthAdjust="spacingAndGlyphs">0.1 - 0.2</text>
<rect x="545.7" y="544.1" width="37.6" height="21.2" rx="0.8" fill="#ffc6c6" stroke="#0a0a0a" stroke-width="1.3"/>
<text x="595.0" y="563.1" class="ll" textLength="84.8" lengthAdjust="spacingAndGlyphs">0.2 - 0.3</text>
<rect x="545.7" y="579.3" width="37.6" height="21.2" rx="0.8" fill="#ffaaaa" stroke="#0a0a0a" stroke-width="1.3"/>
<text x="595.0" y="598.3" class="ll" textLength="84.8" lengthAdjust="spacingAndGlyphs">0.3 - 0.4</text>
<rect x="545.7" y="614.5" width="37.6" height="21.2" rx="0.8" fill="#ff8e8e" stroke="#0a0a0a" stroke-width="1.3"/>
<text x="595.0" y="633.5" class="ll" textLength="84.8" lengthAdjust="spacingAndGlyphs">0.4 - 0.5</text>
<rect x="545.7" y="649.7" width="37.6" height="21.2" rx="0.8" fill="#ff7171" stroke="#0a0a0a" stroke-width="1.3"/>
<text x="595.0" y="668.7" class="ll" textLength="84.8" lengthAdjust="spacingAndGlyphs">0.5 - 0.6</text>
<rect x="545.7" y="684.9" width="37.6" height="21.2" rx="0.8" fill="#ff5555" stroke="#0a0a0a" stroke-width="1.3"/>
<text x="595.0" y="703.9" class="ll" textLength="84.8" lengthAdjust="spacingAndGlyphs">0.6 - 0.7</text>
<rect x="545.7" y="720.1" width="37.6" height="21.2" rx="0.8" fill="#ff3939" stroke="#0a0a0a" stroke-width="1.3"/>
<text x="595.0" y="739.1" class="ll" textLength="84.8" lengthAdjust="spacingAndGlyphs">0.7 - 0.8</text>
<rect x="545.7" y="755.3" width="37.6" height="21.2" rx="0.8" fill="#ff1c1c" stroke="#0a0a0a" stroke-width="1.3"/>
<text x="595.0" y="774.3" class="ll" textLength="84.8" lengthAdjust="spacingAndGlyphs">0.8 - 0.9</text>
<rect x="545.7" y="790.5" width="37.6" height="21.2" rx="0.8" fill="#ff0000" stroke="#0a0a0a" stroke-width="1.3"/>
<text x="595.0" y="809.5" class="ll" textLength="63.8" lengthAdjust="spacingAndGlyphs">0.9 - 1</text>
</svg>
</body></html>
